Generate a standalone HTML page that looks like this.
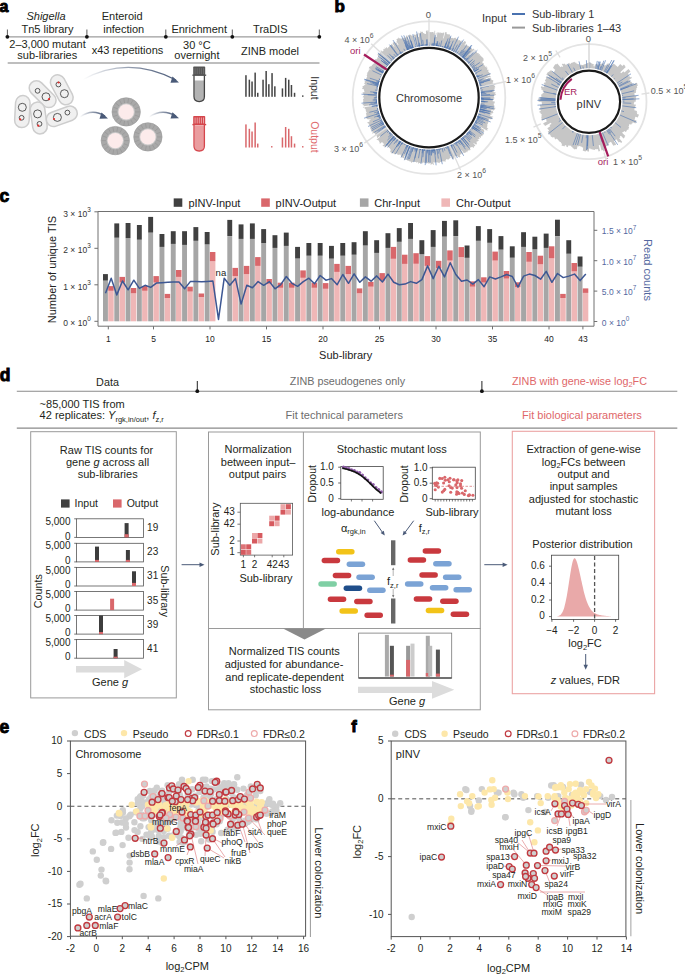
<!DOCTYPE html>
<html><head><meta charset="utf-8"><style>
html,body{margin:0;padding:0;background:#fff;}
svg{display:block;font-family:"Liberation Sans", sans-serif;}
</style></head><body>
<svg width="685" height="975" viewBox="0 0 685 975" fill="#231f20">
<text x="-0.4" y="12.1" font-size="16" fill="#000" font-weight="bold" stroke="#000" stroke-width="0.9">a</text>
<line x1="7.4" y1="36.8" x2="319.5" y2="36.8" stroke="#9d9d9d" stroke-width="1.3"/>
<line x1="7.4" y1="29.5" x2="7.4" y2="36.8" stroke="#333" stroke-width="0.8"/>
<circle cx="7.4" cy="36.8" r="1.9" fill="#111"/>
<line x1="86.9" y1="29.5" x2="86.9" y2="36.8" stroke="#333" stroke-width="0.8"/>
<circle cx="86.9" cy="36.8" r="1.9" fill="#111"/>
<line x1="165.8" y1="29.5" x2="165.8" y2="36.8" stroke="#333" stroke-width="0.8"/>
<circle cx="165.8" cy="36.8" r="1.9" fill="#111"/>
<line x1="232.3" y1="29.5" x2="232.3" y2="36.8" stroke="#333" stroke-width="0.8"/>
<circle cx="232.3" cy="36.8" r="1.9" fill="#111"/>
<line x1="319.3" y1="29.5" x2="319.3" y2="36.8" stroke="#333" stroke-width="0.8"/>
<circle cx="319.3" cy="36.8" r="1.9" fill="#111"/>
<line x1="7.7" y1="62.9" x2="319.5" y2="62.9" stroke="#a8a8a8" stroke-width="1.5"/>
<text x="46.0" y="20.2" font-size="11" text-anchor="middle" font-style="italic">Shigella</text>
<text x="47.5" y="32.7" font-size="11" text-anchor="middle">Tn5 library</text>
<text x="122.2" y="20.3" font-size="11" text-anchor="middle">Enteroid</text>
<text x="123.7" y="32.7" font-size="11" text-anchor="middle">infection</text>
<text x="199.2" y="32.7" font-size="11" text-anchor="middle">Enrichment</text>
<text x="270.3" y="32.7" font-size="11" text-anchor="middle">TraDIS</text>
<text x="47.5" y="48.4" font-size="11" text-anchor="middle">2–3,000 mutant</text>
<text x="47.3" y="58.9" font-size="11" text-anchor="middle">sub-libraries</text>
<text x="127.5" y="53.9" font-size="11" text-anchor="middle">x43 repetitions</text>
<text x="196.9" y="48.5" font-size="11" text-anchor="middle">30 °C</text>
<text x="196.9" y="58.9" font-size="11" text-anchor="middle">overnight</text>
<text x="270.0" y="54.6" font-size="11" text-anchor="middle">ZINB model</text>
<rect x="15.1" y="95.6" width="14.5" height="32" rx="7.25" fill="#f0f0f0" stroke="#cdcdcd" stroke-width="1.5" transform="rotate(3 22.4 111.6)"/>
<rect x="35.4" y="78.2" width="14.5" height="32" rx="7.25" fill="#f0f0f0" stroke="#cdcdcd" stroke-width="1.5" transform="rotate(-45 42.6 94.2)"/>
<rect x="54.5" y="73.8" width="14.5" height="32" rx="7.25" fill="#f0f0f0" stroke="#cdcdcd" stroke-width="1.5" transform="rotate(-28 61.8 89.8)"/>
<rect x="31.5" y="102.0" width="14.5" height="32" rx="7.25" fill="#f0f0f0" stroke="#cdcdcd" stroke-width="1.5" transform="rotate(-8 38.7 118.0)"/>
<rect x="54.5" y="100.4" width="14.5" height="32" rx="7.25" fill="#f0f0f0" stroke="#cdcdcd" stroke-width="1.5" transform="rotate(70 61.8 116.4)"/>
<circle cx="22.3" cy="107.3" r="4.0" fill="none" stroke="#333" stroke-width="0.8"/>
<circle cx="21.6" cy="117.8" r="2.4" fill="none" stroke="#333" stroke-width="0.8"/>
<circle cx="20.2" cy="119.4" r="1.1" fill="#e8312f"/>
<circle cx="37.6" cy="90.8" r="2.4" fill="none" stroke="#333" stroke-width="0.8"/>
<circle cx="46.0" cy="96.8" r="4.0" fill="none" stroke="#333" stroke-width="0.8"/>
<circle cx="49.0" cy="99.2" r="1.1" fill="#e8312f"/>
<circle cx="58.4" cy="84.5" r="2.4" fill="none" stroke="#333" stroke-width="0.8"/>
<circle cx="58.6" cy="82.5" r="1.1" fill="#e8312f"/>
<circle cx="64.4" cy="93.7" r="4.0" fill="none" stroke="#333" stroke-width="0.8"/>
<circle cx="37.6" cy="113.9" r="4.0" fill="none" stroke="#333" stroke-width="0.8"/>
<circle cx="39.5" cy="123.9" r="2.4" fill="none" stroke="#333" stroke-width="0.8"/>
<circle cx="38.3" cy="125.7" r="1.1" fill="#e8312f"/>
<circle cx="57.4" cy="117.4" r="4.0" fill="none" stroke="#333" stroke-width="0.8"/>
<circle cx="54.0" cy="119.0" r="1.1" fill="#e8312f"/>
<circle cx="67.4" cy="112.6" r="2.4" fill="none" stroke="#333" stroke-width="0.8"/>
<defs><linearGradient id="ag" x1="0" x2="1" y1="0" y2="0"><stop offset="0" stop-color="#4a5a78" stop-opacity="0"/><stop offset="0.6" stop-color="#4a5a78" stop-opacity="0.7"/><stop offset="1" stop-color="#4a5a78"/></linearGradient></defs>
<circle cx="126.2" cy="111.9" r="14.2" fill="#a9a9a9" stroke="#9a9a9a" stroke-width="0.6"/>
<line x1="135.2" y1="111.9" x2="139.8" y2="111.9" stroke="#8e8e8e" stroke-width="0.5"/>
<line x1="134.7" y1="115.0" x2="139.0" y2="116.6" stroke="#8e8e8e" stroke-width="0.5"/>
<line x1="133.1" y1="117.7" x2="136.6" y2="120.6" stroke="#8e8e8e" stroke-width="0.5"/>
<line x1="130.7" y1="119.7" x2="133.0" y2="123.7" stroke="#8e8e8e" stroke-width="0.5"/>
<line x1="127.8" y1="120.8" x2="128.6" y2="125.3" stroke="#8e8e8e" stroke-width="0.5"/>
<line x1="124.6" y1="120.8" x2="123.8" y2="125.3" stroke="#8e8e8e" stroke-width="0.5"/>
<line x1="121.7" y1="119.7" x2="119.4" y2="123.7" stroke="#8e8e8e" stroke-width="0.5"/>
<line x1="119.3" y1="117.7" x2="115.8" y2="120.6" stroke="#8e8e8e" stroke-width="0.5"/>
<line x1="117.7" y1="115.0" x2="113.4" y2="116.6" stroke="#8e8e8e" stroke-width="0.5"/>
<line x1="117.2" y1="111.9" x2="112.6" y2="111.9" stroke="#8e8e8e" stroke-width="0.5"/>
<line x1="117.7" y1="108.8" x2="113.4" y2="107.2" stroke="#8e8e8e" stroke-width="0.5"/>
<line x1="119.3" y1="106.1" x2="115.8" y2="103.2" stroke="#8e8e8e" stroke-width="0.5"/>
<line x1="121.7" y1="104.1" x2="119.4" y2="100.1" stroke="#8e8e8e" stroke-width="0.5"/>
<line x1="124.6" y1="103.0" x2="123.8" y2="98.5" stroke="#8e8e8e" stroke-width="0.5"/>
<line x1="127.8" y1="103.0" x2="128.6" y2="98.5" stroke="#8e8e8e" stroke-width="0.5"/>
<line x1="130.7" y1="104.1" x2="133.0" y2="100.1" stroke="#8e8e8e" stroke-width="0.5"/>
<line x1="133.1" y1="106.1" x2="136.6" y2="103.2" stroke="#8e8e8e" stroke-width="0.5"/>
<line x1="134.7" y1="108.8" x2="139.0" y2="107.2" stroke="#8e8e8e" stroke-width="0.5"/>
<circle cx="126.2" cy="111.9" r="8.6" fill="#c9c9c9"/>
<circle cx="126.2" cy="111.9" r="7.7" fill="#fcebeb"/>
<circle cx="115.3" cy="140.6" r="14.2" fill="#a9a9a9" stroke="#9a9a9a" stroke-width="0.6"/>
<line x1="124.3" y1="140.6" x2="128.9" y2="140.6" stroke="#8e8e8e" stroke-width="0.5"/>
<line x1="123.8" y1="143.7" x2="128.1" y2="145.3" stroke="#8e8e8e" stroke-width="0.5"/>
<line x1="122.2" y1="146.4" x2="125.7" y2="149.3" stroke="#8e8e8e" stroke-width="0.5"/>
<line x1="119.8" y1="148.4" x2="122.1" y2="152.4" stroke="#8e8e8e" stroke-width="0.5"/>
<line x1="116.9" y1="149.5" x2="117.7" y2="154.0" stroke="#8e8e8e" stroke-width="0.5"/>
<line x1="113.7" y1="149.5" x2="112.9" y2="154.0" stroke="#8e8e8e" stroke-width="0.5"/>
<line x1="110.8" y1="148.4" x2="108.5" y2="152.4" stroke="#8e8e8e" stroke-width="0.5"/>
<line x1="108.4" y1="146.4" x2="104.9" y2="149.3" stroke="#8e8e8e" stroke-width="0.5"/>
<line x1="106.8" y1="143.7" x2="102.5" y2="145.3" stroke="#8e8e8e" stroke-width="0.5"/>
<line x1="106.3" y1="140.6" x2="101.7" y2="140.6" stroke="#8e8e8e" stroke-width="0.5"/>
<line x1="106.8" y1="137.5" x2="102.5" y2="135.9" stroke="#8e8e8e" stroke-width="0.5"/>
<line x1="108.4" y1="134.8" x2="104.9" y2="131.9" stroke="#8e8e8e" stroke-width="0.5"/>
<line x1="110.8" y1="132.8" x2="108.5" y2="128.8" stroke="#8e8e8e" stroke-width="0.5"/>
<line x1="113.7" y1="131.7" x2="112.9" y2="127.2" stroke="#8e8e8e" stroke-width="0.5"/>
<line x1="116.9" y1="131.7" x2="117.7" y2="127.2" stroke="#8e8e8e" stroke-width="0.5"/>
<line x1="119.8" y1="132.8" x2="122.1" y2="128.8" stroke="#8e8e8e" stroke-width="0.5"/>
<line x1="122.2" y1="134.8" x2="125.7" y2="131.9" stroke="#8e8e8e" stroke-width="0.5"/>
<line x1="123.8" y1="137.5" x2="128.1" y2="135.9" stroke="#8e8e8e" stroke-width="0.5"/>
<circle cx="115.3" cy="140.6" r="8.6" fill="#c9c9c9"/>
<circle cx="115.3" cy="140.6" r="7.7" fill="#fcebeb"/>
<circle cx="147.9" cy="136.9" r="14.2" fill="#a9a9a9" stroke="#9a9a9a" stroke-width="0.6"/>
<line x1="156.9" y1="136.9" x2="161.5" y2="136.9" stroke="#8e8e8e" stroke-width="0.5"/>
<line x1="156.4" y1="140.0" x2="160.7" y2="141.6" stroke="#8e8e8e" stroke-width="0.5"/>
<line x1="154.8" y1="142.7" x2="158.3" y2="145.6" stroke="#8e8e8e" stroke-width="0.5"/>
<line x1="152.4" y1="144.7" x2="154.7" y2="148.7" stroke="#8e8e8e" stroke-width="0.5"/>
<line x1="149.5" y1="145.8" x2="150.3" y2="150.3" stroke="#8e8e8e" stroke-width="0.5"/>
<line x1="146.3" y1="145.8" x2="145.5" y2="150.3" stroke="#8e8e8e" stroke-width="0.5"/>
<line x1="143.4" y1="144.7" x2="141.1" y2="148.7" stroke="#8e8e8e" stroke-width="0.5"/>
<line x1="141.0" y1="142.7" x2="137.5" y2="145.6" stroke="#8e8e8e" stroke-width="0.5"/>
<line x1="139.4" y1="140.0" x2="135.1" y2="141.6" stroke="#8e8e8e" stroke-width="0.5"/>
<line x1="138.9" y1="136.9" x2="134.3" y2="136.9" stroke="#8e8e8e" stroke-width="0.5"/>
<line x1="139.4" y1="133.8" x2="135.1" y2="132.2" stroke="#8e8e8e" stroke-width="0.5"/>
<line x1="141.0" y1="131.1" x2="137.5" y2="128.2" stroke="#8e8e8e" stroke-width="0.5"/>
<line x1="143.4" y1="129.1" x2="141.1" y2="125.1" stroke="#8e8e8e" stroke-width="0.5"/>
<line x1="146.3" y1="128.0" x2="145.5" y2="123.5" stroke="#8e8e8e" stroke-width="0.5"/>
<line x1="149.5" y1="128.0" x2="150.3" y2="123.5" stroke="#8e8e8e" stroke-width="0.5"/>
<line x1="152.4" y1="129.1" x2="154.7" y2="125.1" stroke="#8e8e8e" stroke-width="0.5"/>
<line x1="154.8" y1="131.1" x2="158.3" y2="128.2" stroke="#8e8e8e" stroke-width="0.5"/>
<line x1="156.4" y1="133.8" x2="160.7" y2="132.2" stroke="#8e8e8e" stroke-width="0.5"/>
<circle cx="147.9" cy="136.9" r="8.6" fill="#c9c9c9"/>
<circle cx="147.9" cy="136.9" r="7.7" fill="#fcebeb"/>
<path d="M83,79.5 Q128,55 176,80" fill="none" stroke="url(#ag)" stroke-width="1.4"/>
<path d="M172.5,76.5 L179,82.5 L170.5,82.8 Z" fill="#4a5a78"/>
<path d="M80,117 Q92,108 105,116" fill="none" stroke="url(#ag)" stroke-width="1.4"/>
<path d="M101.5,112.5 L108,118.4 L99.5,118.8 Z" fill="#4a5a78"/>
<path d="M149,117 Q162,108 176,116" fill="none" stroke="url(#ag)" stroke-width="1.4"/>
<path d="M172.5,112.3 L179,118.2 L170.5,118.6 Z" fill="#4a5a78"/>
<rect x="193.2" y="66.6" width="12.0" height="8.6" fill="#555" rx="0.8"/>
<line x1="195.1" y1="68.1" x2="195.1" y2="74.1" stroke="#888" stroke-width="0.5"/>
<line x1="197.2" y1="68.1" x2="197.2" y2="74.1" stroke="#888" stroke-width="0.5"/>
<line x1="199.3" y1="68.1" x2="199.3" y2="74.1" stroke="#888" stroke-width="0.5"/>
<line x1="201.4" y1="68.1" x2="201.4" y2="74.1" stroke="#888" stroke-width="0.5"/>
<line x1="203.5" y1="68.1" x2="203.5" y2="74.1" stroke="#888" stroke-width="0.5"/>
<line x1="192.4" y1="75.2" x2="206.2" y2="75.2" stroke="#555" stroke-width="1.4"/>
<path d="M194.4,80.5 L194.4,96.6 Q194.4,101.1 199.20000000000002,101.1 Q204.0,101.1 204.0,96.6 L204.0,80.5 Z" fill="#b3b3b3"/>
<path d="M194.0,75.6 L194.0,96.6 Q194.0,101.6 199.20000000000002,101.6 Q204.4,101.6 204.4,96.6 L204.4,75.6" fill="none" stroke="#444" stroke-width="1.3"/>
<rect x="193.2" y="116.0" width="12.0" height="8.6" fill="#d5464c" rx="0.8"/>
<line x1="195.1" y1="117.5" x2="195.1" y2="123.5" stroke="#fff" stroke-width="0.5"/>
<line x1="197.2" y1="117.5" x2="197.2" y2="123.5" stroke="#fff" stroke-width="0.5"/>
<line x1="199.3" y1="117.5" x2="199.3" y2="123.5" stroke="#fff" stroke-width="0.5"/>
<line x1="201.4" y1="117.5" x2="201.4" y2="123.5" stroke="#fff" stroke-width="0.5"/>
<line x1="203.5" y1="117.5" x2="203.5" y2="123.5" stroke="#fff" stroke-width="0.5"/>
<line x1="192.4" y1="124.6" x2="206.2" y2="124.6" stroke="#d5464c" stroke-width="1.4"/>
<path d="M194.4,125.5 L194.4,146 Q194.4,150.5 199.20000000000002,150.5 Q204.0,150.5 204.0,146 L204.0,125.5 Z" fill="#ea9d9f"/>
<path d="M194.0,125 L194.0,146 Q194.0,151 199.20000000000002,151 Q204.4,151 204.4,146 L204.4,125" fill="none" stroke="#d5464c" stroke-width="1.3"/>
<rect x="245.2" y="75.2" width="1.5" height="21.6" fill="#444"/>
<rect x="248.6" y="79.7" width="1.5" height="17.1" fill="#444"/>
<rect x="251.3" y="81.5" width="1.5" height="15.3" fill="#444"/>
<rect x="254.4" y="72.6" width="1.5" height="24.2" fill="#444"/>
<rect x="257.0" y="92.8" width="1.5" height="4.0" fill="#444"/>
<rect x="262.3" y="79.7" width="1.5" height="17.1" fill="#444"/>
<rect x="265.4" y="71.0" width="1.5" height="25.8" fill="#444"/>
<rect x="268.1" y="84.2" width="1.5" height="12.6" fill="#444"/>
<rect x="271.3" y="73.1" width="1.5" height="23.7" fill="#444"/>
<rect x="274.1" y="86.3" width="1.5" height="10.5" fill="#444"/>
<rect x="281.7" y="88.4" width="1.5" height="8.4" fill="#444"/>
<rect x="284.9" y="77.9" width="1.5" height="18.9" fill="#444"/>
<rect x="288.0" y="79.7" width="1.5" height="17.1" fill="#444"/>
<rect x="290.7" y="85.0" width="1.5" height="11.8" fill="#444"/>
<rect x="293.8" y="92.8" width="1.5" height="4.0" fill="#444"/>
<rect x="302.0" y="95.4" width="1.5" height="1.4" fill="#444"/>
<rect x="245.2" y="124.4" width="1.5" height="23.1" fill="#d9686c"/>
<rect x="248.6" y="128.8" width="1.5" height="18.7" fill="#d9686c"/>
<rect x="251.3" y="131.5" width="1.5" height="16.0" fill="#d9686c"/>
<rect x="254.4" y="122.5" width="1.5" height="25.0" fill="#d9686c"/>
<rect x="257.0" y="143.6" width="1.5" height="3.9" fill="#d9686c"/>
<rect x="271.0" y="146.1" width="1.5" height="1.4" fill="#d9686c"/>
<rect x="281.7" y="137.5" width="1.5" height="10.0" fill="#d9686c"/>
<rect x="284.9" y="127.0" width="1.5" height="20.5" fill="#d9686c"/>
<rect x="288.0" y="128.8" width="1.5" height="18.7" fill="#d9686c"/>
<rect x="290.7" y="136.2" width="1.5" height="11.3" fill="#d9686c"/>
<rect x="293.8" y="143.6" width="1.5" height="3.9" fill="#d9686c"/>
<rect x="302.0" y="146.1" width="1.5" height="1.4" fill="#d9686c"/>
<text x="310.5" y="87.9" font-size="10.5" text-anchor="middle" fill="#333" transform="rotate(90 310.5 87.9)">Input</text>
<text x="310.5" y="136.9" font-size="10.5" text-anchor="middle" fill="#e06b6e" transform="rotate(90 310.5 136.9)">Output</text>
<text x="334.4" y="11.5" font-size="17" fill="#000" font-weight="bold" stroke="#000" stroke-width="0.9">b</text>
<path d="M429.0,32.1 L429.8,32.1 L429.8,32.3 L430.5,32.3 L430.5,32.1 L431.3,32.1 L431.3,32.2 L432.0,32.3 L432.1,31.9 L432.8,31.9 L432.8,31.9 L433.6,32.0 L433.5,33.3 L434.2,33.4 L434.5,30.7 L435.2,30.8 L434.7,36.6 L435.4,36.7 L435.8,32.7 L436.6,32.8 L436.1,37.0 L436.8,37.1 L437.4,32.3 L438.2,32.4 L438.2,32.4 L438.9,32.6 L438.9,32.5 L439.7,32.6 L439.6,33.2 L440.3,33.3 L440.5,32.3 L441.3,32.5 L441.2,32.9 L441.9,33.0 L441.9,33.0 L442.7,33.2 L442.8,32.5 L443.6,32.7 L443.6,32.6 L444.4,32.7 L443.1,38.3 L443.7,38.5 L445.3,32.1 L446.1,32.3 L446.1,32.2 L446.9,32.4 L446.5,33.7 L447.3,33.9 L447.2,34.1 L447.9,34.4 L448.0,34.3 L448.7,34.5 L448.9,33.9 L449.6,34.1 L449.4,34.8 L450.1,35.1 L449.7,36.4 L450.4,36.6 L450.3,36.9 L451.0,37.2 L450.8,37.6 L451.5,37.9 L451.5,37.9 L452.2,38.2 L452.4,37.7 L453.1,38.0 L453.0,38.2 L453.7,38.4 L454.0,37.8 L454.7,38.1 L454.7,38.0 L455.4,38.3 L455.7,37.6 L456.4,37.9 L456.0,38.8 L456.7,39.1 L456.7,39.0 L457.4,39.3 L457.8,38.6 L458.4,39.0 L457.9,40.1 L458.6,40.4 L458.9,39.8 L459.5,40.2 L459.5,40.1 L460.2,40.5 L460.1,40.7 L460.8,41.0 L461.1,40.4 L461.8,40.8 L461.5,41.3 L462.2,41.7 L462.7,40.8 L463.4,41.2 L462.9,42.0 L463.5,42.4 L464.5,40.9 L465.1,41.3 L465.1,41.3 L465.8,41.7 L465.5,42.1 L466.1,42.6 L464.5,45.0 L465.1,45.4 L466.0,44.1 L466.6,44.5 L466.7,44.4 L467.3,44.9 L466.9,45.4 L467.5,45.9 L467.8,45.4 L468.5,45.9 L468.3,46.1 L468.9,46.5 L468.9,46.5 L469.5,46.9 L469.8,46.6 L470.4,47.1 L469.6,48.0 L470.2,48.5 L470.6,48.0 L471.2,48.5 L471.5,48.1 L472.1,48.6 L471.8,48.9 L472.4,49.4 L473.1,48.6 L473.7,49.1 L473.9,48.9 L474.5,49.4 L469.4,54.7 L469.9,55.2 L475.3,49.7 L475.8,50.2 L473.0,53.0 L473.6,53.6 L475.8,51.3 L476.3,51.9 L476.6,51.6 L477.1,52.2 L476.7,52.6 L477.2,53.2 L477.6,52.8 L478.1,53.4 L478.5,53.1 L479.0,53.6 L478.5,54.1 L479.0,54.6 L479.6,54.1 L480.1,54.7 L479.6,55.2 L480.1,55.8 L480.6,55.3 L481.1,55.9 L480.9,56.1 L481.4,56.7 L481.6,56.5 L482.1,57.1 L482.1,57.1 L482.6,57.7 L482.8,57.6 L483.2,58.2 L483.2,58.2 L483.7,58.8 L483.3,59.1 L483.8,59.7 L483.3,60.0 L483.7,60.7 L482.3,61.7 L482.7,62.3 L482.3,62.5 L482.7,63.2 L483.0,63.0 L483.4,63.6 L483.8,63.3 L484.2,64.0 L483.5,64.4 L483.9,65.0 L483.8,65.1 L484.2,65.7 L484.9,65.3 L485.3,66.0 L484.8,66.2 L485.2,66.9 L486.3,66.3 L486.6,67.0 L486.3,67.1 L486.7,67.8 L487.3,67.5 L487.6,68.2 L487.0,68.5 L487.3,69.2 L487.0,69.3 L487.3,70.0 L488.2,69.6 L488.5,70.3 L488.3,70.4 L488.6,71.0 L488.1,71.3 L488.4,72.0 L488.8,71.8 L489.1,72.5 L489.2,72.4 L489.5,73.1 L489.6,73.1 L489.9,73.8 L490.3,73.6 L490.6,74.4 L487.3,75.6 L487.6,76.3 L489.9,75.5 L490.1,76.2 L490.8,75.9 L491.0,76.6 L485.5,78.5 L485.7,79.2 L490.6,77.6 L490.8,78.3 L491.1,78.2 L491.3,78.9 L491.1,79.0 L491.3,79.7 L491.8,79.6 L492.0,80.3 L493.1,80.0 L493.3,80.8 L493.1,80.8 L493.3,81.6 L493.0,81.6 L493.2,82.4 L492.5,82.5 L492.7,83.3 L493.1,83.2 L493.3,83.9 L493.5,83.9 L493.7,84.6 L493.9,84.6 L494.1,85.3 L494.4,85.3 L494.5,86.0 L495.0,86.0 L495.1,86.7 L495.2,86.7 L495.3,87.5 L494.1,87.7 L494.2,88.4 L494.9,88.3 L495.0,89.1 L493.7,89.3 L493.8,90.0 L494.1,90.0 L494.2,90.7 L493.8,90.8 L493.8,91.5 L493.5,91.6 L493.6,92.3 L495.5,92.2 L495.5,92.9 L494.9,93.0 L494.9,93.8 L496.1,93.7 L496.1,94.5 L495.5,94.5 L495.5,95.3 L494.5,95.3 L494.5,96.1 L493.8,96.1 L493.8,96.8 L493.9,96.8 L493.9,97.6 L494.4,97.6 L494.4,98.4 L493.5,98.4 L493.5,99.1 L493.5,99.1 L493.5,99.9 L492.9,99.8 L492.9,100.6 L492.6,100.6 L492.6,101.3 L494.8,101.4 L494.7,102.2 L494.7,102.2 L494.6,103.0 L494.4,102.9 L494.3,103.7 L493.7,103.6 L493.6,104.4 L494.0,104.4 L493.9,105.2 L494.4,105.2 L494.3,106.0 L494.6,106.0 L494.5,106.8 L493.7,106.7 L493.6,107.4 L495.4,107.7 L495.3,108.5 L495.2,108.5 L495.1,109.3 L494.6,109.2 L494.4,109.9 L494.0,109.8 L493.8,110.6 L491.3,110.1 L491.1,110.8 L493.1,111.2 L493.0,112.0 L493.4,112.1 L493.2,112.8 L492.8,112.7 L492.6,113.5 L491.4,113.2 L491.2,113.9 L491.7,114.0 L491.5,114.7 L490.7,114.5 L490.5,115.2 L490.3,115.2 L490.1,115.9 L493.3,116.8 L493.0,117.6 L492.2,117.3 L492.0,118.1 L492.4,118.2 L492.1,118.9 L491.4,118.7 L491.2,119.4 L489.1,118.7 L488.9,119.4 L489.5,119.6 L489.2,120.3 L488.8,120.2 L488.6,120.9 L488.3,120.7 L488.0,121.4 L488.7,121.7 L488.5,122.4 L488.1,122.3 L487.8,123.0 L488.1,123.1 L487.8,123.8 L487.7,123.8 L487.4,124.4 L487.3,124.4 L487.0,125.0 L487.5,125.3 L487.2,126.0 L487.4,126.1 L487.1,126.8 L487.1,126.8 L486.7,127.4 L488.3,128.2 L487.9,128.9 L487.3,128.6 L486.9,129.3 L487.7,129.7 L487.3,130.4 L487.4,130.4 L487.0,131.1 L484.5,129.7 L484.2,130.3 L484.2,130.3 L483.8,131.0 L484.4,131.3 L484.0,132.0 L484.0,132.0 L483.6,132.6 L479.3,129.9 L479.0,130.5 L483.7,133.6 L483.3,134.2 L483.6,134.4 L483.2,135.1 L482.7,134.7 L482.2,135.3 L482.7,135.7 L482.2,136.3 L481.5,135.8 L481.1,136.4 L481.1,136.4 L480.6,137.0 L481.1,137.4 L480.7,138.0 L479.5,137.1 L479.0,137.6 L479.7,138.2 L479.2,138.8 L479.3,138.8 L478.8,139.4 L478.0,138.7 L477.5,139.3 L478.9,140.5 L478.4,141.1 L478.1,140.8 L477.6,141.3 L477.5,141.3 L477.0,141.9 L476.6,141.5 L476.1,142.0 L477.1,142.9 L476.5,143.5 L477.1,144.1 L476.6,144.6 L476.0,144.1 L475.5,144.6 L473.9,143.0 L473.4,143.6 L475.4,145.6 L474.8,146.1 L474.7,146.1 L474.2,146.6 L474.1,146.6 L473.6,147.1 L473.9,147.5 L473.4,148.0 L472.2,146.7 L471.6,147.2 L471.5,147.0 L470.9,147.5 L470.6,147.2 L470.0,147.6 L470.4,148.1 L469.8,148.6 L470.7,149.7 L470.1,150.2 L470.0,150.1 L469.4,150.6 L469.1,150.2 L468.5,150.6 L468.2,150.2 L467.6,150.7 L467.9,151.1 L467.2,151.5 L467.5,151.9 L466.9,152.4 L466.4,151.6 L465.7,152.1 L465.9,152.4 L465.3,152.8 L465.2,152.7 L464.6,153.1 L464.3,152.7 L463.7,153.1 L461.8,150.2 L461.2,150.5 L463.1,153.6 L462.4,154.0 L462.0,153.2 L461.3,153.6 L461.5,154.0 L460.9,154.3 L460.8,154.2 L460.1,154.5 L460.3,154.9 L459.7,155.3 L460.5,156.8 L459.8,157.1 L459.8,157.2 L459.1,157.6 L458.7,156.8 L458.0,157.2 L457.4,155.7 L456.7,156.1 L456.6,155.9 L455.9,156.2 L455.9,156.2 L455.2,156.5 L455.0,156.0 L454.3,156.3 L454.5,156.8 L453.8,157.1 L454.3,158.2 L453.6,158.5 L453.7,158.8 L453.0,159.1 L452.8,158.6 L452.1,158.9 L450.2,153.7 L449.5,154.0 L450.8,157.5 L450.1,157.8 L450.2,158.0 L449.5,158.3 L449.6,158.7 L448.9,158.9 L449.0,159.2 L448.3,159.5 L448.3,159.4 L447.6,159.7 L447.4,159.1 L446.7,159.4 L446.6,159.1 L445.9,159.3 L446.1,160.1 L445.4,160.3 L445.7,161.6 L445.0,161.7 L444.9,161.2 L444.1,161.4 L444.1,161.4 L443.4,161.6 L443.3,161.0 L442.5,161.2 L442.5,161.3 L441.8,161.4 L441.9,162.2 L441.2,162.3 L441.1,161.8 L440.3,161.9 L440.4,162.1 L439.6,162.2 L439.8,163.1 L439.0,163.2 L438.9,162.8 L438.2,162.9 L438.1,162.0 L437.3,162.2 L437.4,163.1 L436.7,163.2 L436.5,162.0 L435.8,162.1 L435.8,162.5 L435.1,162.5 L435.1,162.6 L434.3,162.7 L434.3,162.1 L433.5,162.1 L433.7,165.0 L432.9,165.1 L432.9,163.7 L432.1,163.8 L432.1,164.1 L431.3,164.2 L431.3,164.7 L430.6,164.7 L430.5,162.6 L429.8,162.7 L429.8,163.5 L429.0,163.5 L429.0,163.4 L428.2,163.4 L428.2,163.2 L427.5,163.2 L427.5,163.0 L426.7,163.0 L426.7,162.1 L426.0,162.0 L426.0,163.0 L425.2,163.0 L425.2,162.9 L424.4,162.9 L424.5,162.4 L423.7,162.4 L423.7,162.5 L422.9,162.5 L422.9,163.3 L422.1,163.2 L422.2,162.6 L421.4,162.5 L421.3,163.8 L420.5,163.7 L420.6,163.2 L419.8,163.1 L419.8,163.1 L419.0,163.0 L418.9,163.7 L418.2,163.6 L418.3,162.5 L417.6,162.4 L417.6,162.1 L416.9,161.9 L416.7,162.8 L416.0,162.6 L416.1,162.1 L415.3,162.0 L415.3,162.0 L414.6,161.8 L414.5,161.9 L413.8,161.7 L413.8,161.7 L413.1,161.6 L412.9,162.0 L412.2,161.9 L411.9,162.9 L411.2,162.7 L411.4,161.9 L410.6,161.7 L410.7,161.5 L409.9,161.3 L409.9,161.4 L409.2,161.2 L409.2,160.9 L408.5,160.7 L408.4,160.8 L407.7,160.6 L407.7,160.6 L407.0,160.4 L407.1,160.1 L406.3,159.8 L406.3,160.1 L405.5,159.8 L405.5,159.8 L404.8,159.6 L404.7,159.8 L404.0,159.5 L405.9,154.8 L405.2,154.5 L403.7,158.3 L403.0,158.0 L402.9,158.1 L402.2,157.8 L402.5,157.0 L401.9,156.7 L401.4,157.6 L400.7,157.3 L401.4,156.0 L400.7,155.7 L401.0,154.9 L400.4,154.6 L400.3,154.7 L399.7,154.3 L399.4,154.9 L398.7,154.5 L398.5,155.0 L397.8,154.7 L397.8,154.7 L397.1,154.3 L397.4,153.8 L396.8,153.5 L396.5,153.8 L395.9,153.5 L395.4,154.3 L394.7,153.9 L394.6,154.2 L393.9,153.8 L394.0,153.7 L393.3,153.3 L393.3,153.3 L392.7,152.9 L392.1,153.7 L391.5,153.2 L391.7,152.9 L391.0,152.5 L391.0,152.6 L390.3,152.1 L390.6,151.8 L390.0,151.3 L390.9,150.0 L390.3,149.6 L390.6,149.2 L390.0,148.7 L390.1,148.6 L389.5,148.1 L389.5,148.2 L388.9,147.7 L389.0,147.6 L388.4,147.1 L388.2,147.4 L387.6,146.9 L388.0,146.5 L387.4,146.0 L387.2,146.3 L386.6,145.8 L385.4,147.2 L384.8,146.7 L384.7,146.8 L384.1,146.3 L384.0,146.4 L383.5,145.9 L383.1,146.3 L382.5,145.7 L384.3,143.9 L383.8,143.3 L383.3,143.8 L382.8,143.3 L383.0,143.1 L382.5,142.5 L382.5,142.5 L382.0,141.9 L380.0,143.8 L379.5,143.2 L379.9,142.8 L379.4,142.3 L379.5,142.2 L378.9,141.6 L379.4,141.2 L378.9,140.6 L378.7,140.8 L378.2,140.2 L378.1,140.3 L377.6,139.7 L377.0,140.2 L376.6,139.6 L381.1,136.0 L380.6,135.4 L377.3,138.0 L376.9,137.4 L377.1,137.2 L376.6,136.6 L377.1,136.2 L376.7,135.6 L376.6,135.7 L376.1,135.1 L375.3,135.6 L374.9,135.0 L375.3,134.7 L374.9,134.1 L375.0,134.0 L374.6,133.4 L374.8,133.3 L374.4,132.6 L372.6,133.8 L372.1,133.1 L372.8,132.7 L372.4,132.0 L372.7,131.9 L372.3,131.2 L371.8,131.5 L371.4,130.9 L371.6,130.8 L371.2,130.1 L371.3,130.0 L370.9,129.4 L370.7,129.4 L370.4,128.8 L370.5,128.7 L370.1,128.0 L370.6,127.8 L370.3,127.1 L369.9,127.3 L369.6,126.6 L370.2,126.3 L369.9,125.6 L369.9,125.6 L369.6,124.9 L369.1,125.1 L368.7,124.4 L369.1,124.3 L368.8,123.6 L368.3,123.8 L368.0,123.1 L367.5,123.3 L367.2,122.6 L369.7,121.6 L369.4,120.9 L369.6,120.8 L369.3,120.1 L370.8,119.6 L370.5,118.9 L368.4,119.6 L368.2,118.9 L367.1,119.3 L366.9,118.6 L366.5,118.7 L366.3,118.0 L366.6,117.9 L366.3,117.2 L365.9,117.3 L365.7,116.6 L366.8,116.2 L366.6,115.5 L366.3,115.6 L366.1,114.8 L366.4,114.8 L366.2,114.0 L366.0,114.1 L365.9,113.3 L367.0,113.1 L366.8,112.3 L366.0,112.5 L365.8,111.8 L366.2,111.7 L366.1,111.0 L365.8,111.0 L365.7,110.3 L366.0,110.2 L365.8,109.5 L365.5,109.6 L365.4,108.8 L364.7,108.9 L364.6,108.2 L365.1,108.1 L365.0,107.4 L363.0,107.7 L362.8,106.9 L363.6,106.8 L363.5,106.0 L363.9,106.0 L363.8,105.2 L362.8,105.3 L362.7,104.6 L362.7,104.6 L362.7,103.8 L363.6,103.7 L363.5,102.9 L363.1,103.0 L363.0,102.2 L363.4,102.2 L363.3,101.4 L363.1,101.4 L363.1,100.7 L363.3,100.7 L363.3,99.9 L363.1,99.9 L363.1,99.1 L363.4,99.1 L363.4,98.4 L364.0,98.4 L364.0,97.6 L362.8,97.6 L362.8,96.8 L363.2,96.8 L363.2,96.1 L363.9,96.1 L363.9,95.3 L363.6,95.3 L363.6,94.6 L363.5,94.6 L363.6,93.8 L362.9,93.8 L363.0,93.0 L362.6,93.0 L362.7,92.2 L364.3,92.3 L364.4,91.6 L364.4,91.6 L364.4,90.8 L363.9,90.8 L364.0,90.0 L363.9,90.0 L364.0,89.2 L362.0,89.0 L362.2,88.2 L362.7,88.3 L362.9,87.5 L362.5,87.5 L362.6,86.7 L362.5,86.7 L362.7,85.9 L363.8,86.1 L363.9,85.3 L364.3,85.4 L364.5,84.7 L365.2,84.8 L365.3,84.1 L364.0,83.8 L364.2,83.0 L364.9,83.2 L365.0,82.4 L364.4,82.3 L364.6,81.5 L364.8,81.6 L365.0,80.9 L365.8,81.1 L366.0,80.3 L366.4,80.4 L366.6,79.7 L366.0,79.5 L366.2,78.8 L366.3,78.8 L366.5,78.1 L366.4,78.1 L366.7,77.3 L366.9,77.4 L367.1,76.7 L367.0,76.7 L367.2,75.9 L366.6,75.7 L366.9,75.0 L367.1,75.1 L367.4,74.4 L366.8,74.1 L367.1,73.4 L367.4,73.6 L367.7,72.8 L367.3,72.7 L367.5,71.9 L368.1,72.2 L368.4,71.5 L368.1,71.3 L368.4,70.6 L368.9,70.8 L369.2,70.2 L368.7,69.9 L369.1,69.2 L370.2,69.7 L370.5,69.1 L368.7,68.2 L369.1,67.5 L369.0,67.5 L369.4,66.8 L369.6,66.9 L370.0,66.2 L370.6,66.5 L371.0,65.9 L371.6,66.2 L372.0,65.6 L371.6,65.4 L372.0,64.7 L372.6,65.0 L372.9,64.4 L372.7,64.2 L373.1,63.6 L373.7,63.9 L374.1,63.3 L374.3,63.4 L374.7,62.8 L375.0,63.0 L375.4,62.3 L375.6,62.5 L376.0,61.9 L374.0,60.5 L374.5,59.9 L374.6,60.0 L375.0,59.3 L375.3,59.6 L375.8,58.9 L376.4,59.4 L376.8,58.8 L377.1,59.0 L377.5,58.4 L376.9,57.9 L377.4,57.3 L377.9,57.7 L378.4,57.1 L383.1,60.9 L383.5,60.4 L377.6,55.5 L378.1,54.9 L377.4,54.3 L377.9,53.7 L378.4,54.1 L378.9,53.6 L379.1,53.7 L379.7,53.2 L379.8,53.3 L380.3,52.7 L380.1,52.5 L380.6,52.0 L380.8,52.2 L381.4,51.6 L380.5,50.7 L381.0,50.2 L382.4,51.6 L383.0,51.0 L383.1,51.2 L383.7,50.6 L383.0,49.9 L383.5,49.4 L383.4,49.2 L383.9,48.7 L384.5,49.3 L385.1,48.8 L384.3,47.9 L384.9,47.4 L385.7,48.4 L386.3,47.9 L386.1,47.6 L386.6,47.1 L387.7,48.4 L388.3,47.9 L387.9,47.4 L388.5,47.0 L388.7,47.3 L389.3,46.8 L388.9,46.3 L389.5,45.8 L389.9,46.3 L390.5,45.9 L390.2,45.5 L390.8,45.1 L390.8,45.1 L391.5,44.6 L391.2,44.3 L391.8,43.8 L393.9,46.8 L394.5,46.4 L392.5,43.4 L393.1,43.0 L392.7,42.4 L393.3,42.0 L393.7,42.6 L394.4,42.2 L394.8,42.9 L395.5,42.5 L395.5,42.6 L396.2,42.2 L397.9,45.2 L398.5,44.8 L396.4,41.2 L397.1,40.8 L396.3,39.4 L397.0,39.0 L396.9,38.9 L397.6,38.5 L397.7,38.8 L398.4,38.4 L398.1,37.9 L398.8,37.5 L399.4,38.6 L400.0,38.2 L400.3,38.7 L400.9,38.3 L401.1,38.8 L401.8,38.4 L401.8,38.5 L402.5,38.1 L402.7,38.5 L403.4,38.2 L403.2,37.8 L403.9,37.5 L404.2,38.2 L404.9,37.9 L404.9,37.9 L405.6,37.6 L405.4,37.2 L406.1,36.9 L405.8,36.0 L406.5,35.7 L406.4,35.5 L407.1,35.3 L408.9,40.2 L409.5,39.9 L408.1,35.8 L408.8,35.5 L408.7,35.1 L409.4,34.8 L409.4,34.7 L410.1,34.5 L410.2,34.9 L411.0,34.7 L411.3,35.8 L412.0,35.6 L412.0,35.7 L412.8,35.5 L412.6,34.8 L413.3,34.6 L413.4,35.1 L414.1,34.9 L414.1,34.6 L414.8,34.4 L415.0,35.2 L415.7,35.0 L415.6,34.4 L416.3,34.3 L416.3,34.2 L417.0,34.0 L417.0,33.6 L417.7,33.5 L418.3,37.1 L419.0,37.0 L418.4,32.8 L419.1,32.7 L419.2,33.6 L420.0,33.4 L419.9,32.7 L420.6,32.6 L420.5,31.3 L421.2,31.2 L421.3,31.9 L422.1,31.9 L422.1,31.8 L422.9,31.7 L423.0,33.1 L423.7,33.0 L423.8,33.4 L424.5,33.3 L424.5,33.9 L425.3,33.9 L425.3,33.9 L426.0,33.8 L425.9,31.1 L426.7,31.0 L426.6,30.1 L427.4,30.1 L427.5,31.5 L428.2,31.5 L428.2,30.6 L429.0,30.5 Z" fill="#c6c6c6"/>
<circle cx="429.0" cy="97.6" r="52.2" fill="#fff"/>
<line x1="416.4" y1="47.0" x2="409.1" y2="17.8" stroke="#fff" stroke-width="0.9"/>
<line x1="455.9" y1="52.9" x2="471.3" y2="27.1" stroke="#fff" stroke-width="0.9"/>
<line x1="474.2" y1="123.7" x2="500.2" y2="138.7" stroke="#fff" stroke-width="0.9"/>
<line x1="411.1" y1="146.7" x2="400.9" y2="174.8" stroke="#fff" stroke-width="0.9"/>
<line x1="377.3" y1="104.9" x2="347.6" y2="109.0" stroke="#fff" stroke-width="0.9"/>
<path d="M472.5,126.5L477.7,129.9M389.7,63.2L386.7,60.5M394.8,58.1L393.4,56.5M461.5,138.4L467.9,146.5M464.5,135.9L470.2,142.1M480.0,86.3L481.0,86.1M476.7,76.5L479.8,75.1M473.7,70.7L474.6,70.2M479.9,86.0L482.1,85.5M477.7,116.4L479.5,117.1M426.8,45.4L426.6,39.6M389.4,63.6L388.6,63.0M464.0,136.3L464.7,137.1M380.3,116.4L379.2,116.8M480.6,105.6L481.6,105.8M476.5,76.0L477.4,75.6M461.5,138.4L469.6,148.6M378.0,108.9L377.1,109.1M469.0,131.2L469.8,131.8M408.8,49.5L408.3,48.4M377.1,92.5L370.2,91.8M400.2,54.0L399.7,53.2M475.9,120.4L477.1,121.0M455.1,52.4L460.8,42.4M475.5,121.4L482.7,125.1M422.7,149.4L422.6,150.4M461.3,138.6L461.9,139.4M442.2,47.1L442.5,46.1M399.6,140.7L399.0,141.5M477.3,117.5L478.8,118.2M414.8,147.8L414.5,148.8M378.7,111.7L377.8,111.9M377.4,105.6L371.9,106.5M470.7,66.2L471.5,65.6M480.3,107.5L486.8,108.7M458.3,140.8L459.0,141.9M390.1,62.8L389.3,62.2M479.4,111.2L480.4,111.5M480.0,86.5L481.0,86.2M437.0,46.0L437.8,41.3M408.0,145.4L404.3,153.8M421.0,46.0L420.9,45.0M383.2,122.6L371.9,128.8M480.0,86.6L486.0,85.3M383.8,123.7L371.5,130.8M390.6,62.3L389.8,61.6M390.4,132.7L389.6,133.4M451.9,144.5L452.5,145.8M448.2,49.1L448.7,47.8M475.0,122.2L477.3,123.5M480.3,107.3L481.3,107.5M459.0,140.3L460.4,142.2M474.2,71.5L479.0,68.7M481.1,94.3L482.1,94.2M472.7,126.1L474.2,127.0M471.4,67.1L474.6,64.8M379.2,113.3L375.9,114.3M379.3,113.7L378.4,114.0M461.9,138.1L462.7,139.0M449.1,49.4L449.7,48.0M446.6,48.4L447.4,46.0M402.2,142.4L401.0,144.3M475.4,121.5L476.3,121.9M436.7,46.0L436.8,45.0M396.2,57.0L393.9,54.2M481.1,101.5L486.6,101.9M477.0,77.2L479.1,76.3M394.4,136.7L385.0,147.3M468.7,131.5L471.6,134.0M410.5,48.8L407.6,41.2M391.6,134.0L388.2,137.2M456.7,141.8L457.6,143.2M480.5,106.1L490.2,107.8M393.2,59.6L392.3,58.7M400.9,53.6L400.4,52.8M468.3,63.3L470.4,61.5M477.7,116.4L478.8,116.8M421.5,45.9L421.3,45.0M477.8,79.1L478.8,78.8M381.7,119.8L380.8,120.2M429.3,45.4L429.3,42.1M461.3,138.6L461.9,139.4M431.1,149.8L431.3,155.0M413.5,147.4L412.1,151.9M409.6,146.0L405.9,155.2M418.8,46.4L418.6,45.4M471.9,127.4L481.5,134.1M477.1,117.8L483.3,120.4M379.8,115.2L374.2,117.2M417.3,46.7L415.1,37.3M473.0,69.5L476.9,67.0M432.1,149.7L432.3,153.3M467.2,133.2L467.9,133.9M376.8,97.9L373.7,98.0M481.0,93.4L482.0,93.3M475.5,121.3L476.4,121.7M424.5,149.6L424.4,150.6M449.2,49.5L449.6,48.5M460.3,55.8L464.1,50.6M463.0,58.0L464.3,56.4M377.3,90.4L374.9,90.0M473.5,70.3L482.9,64.6M390.9,61.9L390.2,61.2M481.2,98.9L483.9,98.9M379.0,82.6L377.7,82.2M378.0,108.7L377.0,108.9M378.0,108.8L377.0,109.0M474.1,123.8L480.9,127.8M385.4,68.9L377.2,63.5M407.5,145.2L406.8,146.7M378.7,111.6L374.2,112.8M383.4,72.2L375.6,67.8M466.0,60.7L466.9,59.8M383.4,122.9L382.5,123.4M476.9,76.8L477.8,76.4M402.3,142.4L395.3,154.2M419.4,46.3L419.2,45.3M380.8,117.5L379.2,118.2M390.6,133.0L389.6,134.0M407.8,49.9L401.5,35.7M444.7,47.8L446.7,41.5M464.3,59.2L465.0,58.5M479.9,109.3L486.8,110.9M426.9,45.4L426.9,44.4M474.7,122.8L475.6,123.2M415.2,147.9L414.6,150.3M466.3,134.1L467.0,134.8M379.4,81.3L369.8,78.2M480.0,108.6L481.4,108.9M393.8,136.2L388.4,142.0M422.8,45.8L422.6,44.4M380.0,115.6L376.9,116.7M379.4,81.4L378.4,81.1M475.5,73.9L476.4,73.5M407.8,49.9L407.4,49.0M432.8,149.7L432.9,150.7M475.7,120.9L476.6,121.4M408.0,145.4L407.6,146.3M392.0,134.4L391.3,135.1M480.7,90.3L483.1,89.9M468.0,132.3L468.7,133.0M445.5,48.1L445.8,47.1M396.4,56.8L395.8,56.1M453.7,51.6L454.2,50.7M434.4,149.5L436.1,165.3M478.9,82.2L489.4,78.9M434.2,149.5L434.3,151.2M380.1,79.3L378.8,78.8M447.5,48.8L448.7,45.6M385.5,126.4L381.6,129.0M480.4,106.4L493.8,108.7M389.8,63.2L377.9,52.8M447.2,146.5L450.7,155.9M377.4,105.8L376.5,105.9M437.7,46.1L437.9,45.2M464.4,59.3L465.1,58.5M469.4,130.6L475.4,135.4M477.5,116.8L480.2,117.9M432.4,45.5L432.5,44.5M415.8,47.1L415.5,46.1M420.1,149.0L418.5,158.2M378.6,83.9L371.7,82.0M459.9,139.7L465.2,147.0M382.9,73.1L375.8,69.4M424.4,45.6L424.3,44.6M413.0,47.9L412.5,46.5M378.8,112.1L377.9,112.4M400.9,53.6L400.4,52.7M404.8,143.8L404.3,144.7M462.7,137.5L463.5,138.4M385.5,126.4L377.7,131.5M468.2,132.0L472.0,135.3M470.4,129.3L471.2,130.0M399.7,54.4L399.1,53.6M458.1,54.3L458.7,53.4M376.9,100.3L375.9,100.4M376.8,99.8L373.5,100.0M381.7,119.8L380.8,120.2M461.2,56.5L461.8,55.7M471.2,128.4L472.6,129.4M432.1,45.5L432.3,42.8M458.8,140.5L459.4,141.3M416.9,148.4L413.7,162.1M479.1,82.9L490.1,79.7M476.1,120.1L483.0,123.4M461.9,57.0L471.6,45.0M451.2,144.8L457.4,158.0M480.3,87.7L481.8,87.4M378.8,111.8L377.8,112.1M480.6,105.2L486.4,106.1M412.1,48.2L411.8,47.2M476.7,76.4L477.7,76.0M425.5,45.5L425.5,44.5M389.9,132.2L388.9,133.0M388.0,129.9L387.2,130.5M394.2,136.5L386.3,145.2M388.0,65.3L384.3,62.3M427.4,149.8L427.3,153.4M463.3,58.3L469.9,50.7M380.5,116.9L378.6,117.6M384.0,124.0L382.6,124.9M463.6,136.7L464.3,137.4M398.1,139.7L395.9,142.7M424.0,149.6L423.9,150.6M391.6,134.0L390.1,135.3M400.1,141.1L397.8,144.5M407.3,50.1L406.8,49.2M439.2,148.8L442.3,164.2M376.9,101.5L376.0,101.6M377.0,101.9L361.5,103.2M459.1,140.2L465.5,149.3M466.3,61.1L477.4,50.2M431.9,149.7L432.0,150.7M385.0,69.6L380.6,66.8M409.1,49.3L405.3,40.3M379.1,82.2L376.4,81.4M426.9,45.4L426.9,44.4M391.0,61.8L386.2,57.3M481.2,97.8L490.4,97.9M443.9,147.6L444.8,150.7M390.0,62.9L389.2,62.3M480.3,107.3L485.3,108.2M452.3,50.9L453.8,47.8M378.2,85.5L375.8,85.0M481.1,94.9L490.1,94.5M387.8,65.6L381.3,60.6M413.1,147.3L409.3,159.1M379.0,82.5L378.1,82.2M468.0,132.3L468.7,133.0M441.0,46.8L441.2,45.8M389.8,63.1L382.3,56.5M464.1,59.0L464.8,58.2M462.6,137.5L469.4,145.5M394.0,136.3L385.8,145.4M451.8,50.6L458.5,36.7M479.3,83.6L483.9,82.3M392.5,60.3L387.6,55.3M478.3,80.6L483.6,78.7M451.0,144.9L451.4,145.8M473.1,125.5L474.0,126.0M391.0,133.4L390.3,134.1M397.5,139.2L393.8,144.2M476.3,75.6L477.2,75.2M380.0,115.7L378.0,116.4M466.9,61.7L467.6,61.0M410.1,48.9L408.5,44.8M469.7,130.2L470.5,130.9M427.3,45.4L427.1,39.3M377.0,102.1L375.9,102.2M477.5,116.9L478.9,117.5M470.5,65.9L474.3,63.0M452.8,144.1L457.1,152.6M457.2,141.5L458.4,143.3M426.9,149.8L426.3,163.4M471.9,127.3L477.2,131.0M481.0,92.7L484.8,92.3M480.0,108.9L490.9,111.4M479.8,109.5L490.2,111.9M382.2,120.8L380.4,121.7M407.9,49.9L407.3,48.6M376.8,99.8L372.6,100.0M445.6,147.1L445.9,148.0M454.4,143.2L454.9,144.1M447.9,146.2L453.1,159.5M479.3,111.5L485.3,113.2M382.9,122.2L382.1,122.6M456.5,141.9L457.1,142.8M397.1,56.3L396.5,55.5M454.0,143.4L454.4,144.3M381.8,75.2L372.4,70.7M400.8,141.5L399.0,144.3M459.5,55.3L466.6,45.5M456.5,53.2L457.1,52.3M466.0,134.4L470.9,139.2M383.4,123.0L382.5,123.5M397.8,55.8L389.4,44.6M436.6,46.0L437.3,41.1M439.0,148.8L439.3,149.9M440.4,148.5L440.7,149.5M383.1,122.5L379.3,124.6M419.3,46.3L416.6,31.5M426.6,45.5L426.5,44.0M383.0,72.8L378.5,70.4M379.3,113.4L364.1,118.2M450.2,49.9L451.1,47.9M459.3,140.1L462.4,144.4M480.2,87.2L495.4,84.1M479.5,84.4L480.7,84.1M469.8,65.1L470.9,64.2M376.9,100.3L375.9,100.3M474.2,71.6L478.7,69.0M392.6,135.0L387.4,140.2M481.2,98.7L490.5,98.9M377.2,103.9L369.0,104.9M464.7,59.5L466.2,57.8M434.2,45.7L435.2,34.9M411.2,48.5L407.1,37.2M436.9,46.0L437.1,45.0M417.3,148.5L416.6,151.5M462.6,57.6L468.1,51.0M478.5,114.2L481.1,115.1M465.8,60.6L468.4,58.0M467.0,61.8L467.7,61.1M425.0,149.6L424.9,150.6M377.6,88.6L376.6,88.5M455.9,142.3L456.4,143.2M480.1,87.1L482.1,86.7M410.4,146.4L409.6,148.3M386.9,66.7L386.1,66.1M386.8,66.9L386.0,66.3M419.3,46.3L418.8,43.4M457.9,141.0L460.4,144.8M389.6,63.4L378.6,53.8M456.0,142.3L456.5,143.1M471.9,67.9L479.8,62.5M377.0,102.7L370.5,103.3M472.5,68.7L475.0,67.0M438.3,46.2L438.5,45.3M478.6,114.0L492.5,118.6M388.1,130.1L380.0,136.6M443.9,47.6L444.4,46.0M453.7,51.6L454.1,50.7M462.7,57.7L471.0,47.9M474.9,122.4L477.1,123.6M386.0,127.2L376.4,133.8M411.8,48.3L410.6,44.9M428.7,149.8L428.6,162.1M461.1,138.7L461.8,139.5M376.9,101.1L375.9,101.2M467.5,132.8L468.8,134.0M436.6,149.2L436.7,150.3M451.1,144.9L451.9,146.7M445.0,47.9L448.1,38.4M448.7,49.3L449.9,46.5M413.6,147.5L413.2,148.9M480.4,88.7L481.4,88.5M466.6,133.8L467.3,134.5M434.2,149.5L434.3,150.5M376.8,97.8L374.3,97.8M431.9,45.5L432.0,43.9M418.0,46.6L417.8,45.6M400.1,141.1L392.1,153.1M468.0,132.3L471.2,135.1M467.3,133.1L468.0,133.7M395.9,138.0L393.4,141.1M476.9,118.4L479.3,119.4M423.7,149.5L422.9,157.2M446.1,48.3L446.4,47.3M481.2,98.2L482.2,98.3M378.9,82.8L377.3,82.3M388.8,64.3L387.6,63.4M479.9,109.2L485.6,110.5M455.7,52.7L463.6,39.6M383.5,72.0L382.6,71.5M476.6,119.0L485.3,123.0M378.3,85.2L373.4,84.0M447.2,48.7L450.0,41.2M444.5,47.8L445.9,43.3M412.2,147.0L408.0,159.5M389.1,131.2L388.3,131.8M408.1,49.8L405.0,42.8M403.9,143.4L403.4,144.2M377.0,101.9L375.3,102.0M381.8,119.9L368.0,126.5M402.9,52.4L402.4,51.5M377.8,87.4L376.0,87.0M376.8,97.1L375.5,97.1M445.9,147.0L446.5,148.8M464.2,59.1L464.9,58.4M377.0,102.6L376.0,102.7M463.7,58.6L470.4,51.2M383.9,123.8L381.0,125.5M463.1,58.1L463.7,57.3M477.5,116.8L490.7,122.0M409.7,146.1L404.9,158.2M479.7,85.0L481.2,84.6M417.2,148.4L414.9,158.3M465.5,60.3L473.4,52.3M438.0,149.0L438.2,150.0M450.6,145.1L451.2,146.3M382.6,121.5L370.9,127.5M431.1,149.8L431.3,155.8M462.8,137.4L468.2,143.8M461.1,56.4L465.6,50.6M474.2,71.5L477.6,69.5M478.9,82.1L479.8,81.8M473.7,70.7L474.6,70.2M400.6,141.4L399.1,143.9M462.6,137.5L465.1,140.4M385.3,69.0L384.4,68.4M402.8,142.7L401.6,144.8M422.7,45.8L422.5,44.8M379.6,114.5L378.7,114.9M481.1,101.3L488.1,101.8M405.3,144.1L404.9,145.0M449.5,49.6L453.3,40.7M465.3,135.1L470.0,139.9M450.4,145.2L452.3,149.4M409.9,146.2L404.4,160.2M400.9,53.6L399.8,51.8M433.3,149.6L433.4,150.6M376.8,96.6L375.8,96.6M477.9,115.8L487.7,119.4M440.4,46.7L441.8,40.5M407.3,145.1L405.9,148.2M474.3,123.6L475.1,124.1M413.1,47.9L410.7,40.3M380.0,79.7L379.0,79.3M378.0,86.5L377.0,86.3M478.6,81.2L481.6,80.3M395.8,137.9L395.1,138.6M377.0,92.7L373.1,92.4M398.2,55.5L390.5,45.0M380.6,117.0L379.5,117.5M413.2,47.9L411.1,41.4M479.5,110.9L489.9,113.6M377.3,105.2L376.4,105.3M481.2,97.3L482.2,97.3M416.9,148.4L416.7,149.4M479.3,111.5L480.3,111.8M467.4,62.2L469.2,60.6M480.7,105.0L481.7,105.1M480.4,106.6L483.1,107.1M391.8,61.0L391.1,60.3M388.7,64.4L380.5,57.7M395.9,137.9L393.8,140.5M377.1,102.9L373.9,103.2M384.9,125.6L374.1,132.5M377.5,89.4L376.5,89.2M446.5,48.4L451.0,35.7M468.7,131.5L475.2,137.1M480.9,92.2L482.9,92.0M466.9,133.4L472.1,138.3M410.9,48.6L410.0,46.1M408.0,145.4L407.5,146.3M480.9,91.8L494.8,90.2M462.3,57.4L471.1,46.9M385.4,126.4L384.6,126.9M398.8,55.0L398.2,54.2M408.1,145.5L407.7,146.4M425.3,45.5L425.3,44.5M391.4,61.4L390.7,60.7M383.8,123.8L383.0,124.3M438.7,46.3L439.4,42.6M423.4,45.7L422.7,39.8M387.8,65.5L381.1,60.3M422.1,149.3L421.9,150.3M420.2,149.1L420.0,150.0M420.3,149.1L420.1,150.1M429.3,149.8L429.3,150.8M378.9,112.1L377.3,112.6M433.6,149.6L433.7,150.6M433.3,149.6L433.6,153.1M420.0,46.2L419.4,42.7M468.1,63.1L468.9,62.4M473.8,124.3L479.3,127.6M409.4,49.2L403.8,35.3M412.9,48.0L408.8,35.5M388.5,64.7L378.1,56.2M435.6,45.8L435.9,43.3M400.9,141.6L397.6,146.6M395.0,137.2L392.1,140.6M407.7,49.9L407.3,49.0M422.7,149.4L421.0,163.7M439.4,46.4L439.6,45.5M390.7,62.1L380.3,52.4M436.9,46.0L437.0,45.0M383.2,72.5L377.9,69.6M422.5,149.4L422.1,153.3M376.9,95.2L367.7,94.8M429.2,45.4L429.2,44.4M378.8,83.3L364.4,79.2M383.8,71.5L382.5,70.7M473.8,124.3L474.7,124.8M433.9,45.6L434.7,37.6M481.0,101.6L485.0,101.9M420.5,149.1L420.3,150.1M382.5,121.3L380.7,122.3M480.9,92.5L492.4,91.4M475.6,74.1L476.5,73.7M481.2,98.7L483.5,98.8M378.0,86.6L377.0,86.4M481.1,93.8L486.4,93.4M481.1,101.0L484.0,101.1M481.2,99.2L492.5,99.6M476.8,76.7L477.8,76.3M478.5,114.2L479.4,114.5M377.4,105.3L371.7,106.1M378.5,84.5L375.3,83.7M453.7,51.6L457.5,44.6M481.2,95.8L482.2,95.7M455.8,142.4L463.7,155.8M466.9,133.5L467.7,134.3M401.3,53.4L393.0,40.1M463.0,137.2L463.6,138.0M378.4,84.7L370.2,82.7M473.4,125.1L480.8,129.6M464.9,135.5L465.5,136.3M400.1,141.1L396.1,147.2M436.9,149.2L438.3,158.6M433.5,45.6L433.8,43.0M464.6,135.7L465.3,136.5M402.3,52.7L401.8,51.9M479.2,83.2L490.2,80.1M416.2,47.0L412.9,34.1M472.7,126.1L483.9,133.3M469.6,64.8L474.8,60.6M411.5,48.4L411.2,47.5M468.3,63.3L472.7,59.4M393.9,59.0L389.2,53.8M412.6,48.0L412.0,46.1M466.5,133.9L467.2,134.6M480.7,105.1L494.1,107.1M451.7,50.6L452.2,49.7M471.7,127.6L472.5,128.2M477.9,115.9L478.8,116.2M465.4,60.2L467.5,58.0M415.9,148.1L415.0,151.7M377.0,93.6L373.9,93.3M412.0,48.3L411.6,47.3M480.4,88.8L481.4,88.6M477.6,116.6L484.9,119.5M405.1,51.2L403.8,48.8M473.1,69.7L474.0,69.2M407.2,145.0L406.8,146.0M378.7,83.7L364.3,79.8M442.1,148.1L443.1,152.3M386.0,68.0L384.2,66.7M477.6,78.6L490.5,73.6M421.8,45.9L421.6,44.9M377.0,93.4L375.5,93.3M445.7,48.2L446.0,47.2M475.2,73.3L481.6,70.0M479.7,85.1L480.7,84.9M480.3,87.7L489.0,86.0M429.3,149.8L429.3,155.1M440.4,148.5L440.6,149.5M434.0,45.6L434.1,44.6M442.5,47.2L442.7,46.2M393.6,135.9L392.7,136.8M437.8,149.0L438.6,153.7M476.6,119.0L477.6,119.4M394.2,58.7L391.6,55.8M455.0,142.9L456.6,145.7M441.9,148.2L442.1,149.2M402.1,52.9L401.5,52.0M408.5,49.6L404.4,39.8M393.7,59.1L393.1,58.4M426.1,149.7L425.2,165.1M479.7,110.2L480.6,110.4M377.5,106.3L376.5,106.5M402.8,142.8L402.3,143.6M412.1,48.2L411.8,47.3M458.9,54.8L462.3,49.8M471.8,127.5L474.7,129.5M429.9,149.8L430.1,162.8M424.3,149.6L424.2,150.9M429.5,45.4L429.6,42.8M480.8,103.8L484.6,104.3M390.5,132.9L388.9,134.3M457.0,53.5L458.3,51.3M435.0,149.5L435.5,154.5M419.3,46.3L419.1,45.3M447.4,146.5L447.7,147.4M379.3,81.5L378.4,81.2M383.1,72.7L375.3,68.5M481.2,99.1L493.4,99.5M427.7,149.8L427.7,151.5M411.3,146.7L406.6,159.7M432.3,149.7L432.5,152.1M479.5,110.8L489.4,113.4M428.0,149.8L428.0,150.8M478.3,80.4L479.2,80.0M383.9,71.3L376.1,66.7M422.0,45.9L420.3,33.2M381.1,118.3L372.9,121.8M378.3,110.1L369.3,112.3M379.5,81.1L378.5,80.8M381.1,77.0L380.1,76.6M481.2,95.7L494.0,95.2M436.5,45.9L436.9,43.2M472.5,126.4L479.8,131.3M395.6,137.7L387.6,147.4M407.5,50.0L405.4,45.4M449.6,49.6L451.8,44.5M462.1,57.2L471.8,45.4M391.3,61.5L390.5,60.9M477.0,77.1L482.7,74.7M376.9,94.9L361.5,94.2M392.6,135.0L391.9,135.7M377.4,105.2L376.4,105.4M390.4,62.4L384.5,57.0M378.1,86.1L367.1,83.6M407.0,145.0L401.2,157.4M389.0,131.1L387.0,132.7M463.6,136.6L464.4,137.4M436.5,45.9L436.6,44.9M378.9,82.8L378.0,82.5M386.1,127.3L379.3,132.0M379.9,115.5L377.3,116.4" stroke="#4a72b0" stroke-width="0.6" fill="none"/>
<circle cx="429" cy="97.6" r="76.3" fill="none" stroke="#e4e4e4" stroke-width="1.8"/>
<line x1="429.0" y1="45.6" x2="429.0" y2="18.6" stroke="#dedede" stroke-width="1.3"/>
<line x1="479.9" y1="87.0" x2="506.3" y2="81.5" stroke="#dedede" stroke-width="1.3"/>
<line x1="449.7" y1="145.3" x2="460.5" y2="170.0" stroke="#dedede" stroke-width="1.3"/>
<line x1="386.5" y1="127.6" x2="364.4" y2="143.1" stroke="#dedede" stroke-width="1.3"/>
<line x1="391.0" y1="62.1" x2="371.2" y2="43.7" stroke="#dedede" stroke-width="1.3"/>
<circle cx="429.0" cy="97.6" r="49.7" fill="none" stroke="#1a1a1a" stroke-width="2.2"/>
<line x1="386.9" y1="69.7" x2="364.0" y2="54.5" stroke="#a51c5c" stroke-width="2.2"/>
<text x="429.0" y="102.2" font-size="11" text-anchor="middle" fill="#333">Chromosome</text>
<text x="428.3" y="18.2" font-size="9.5" text-anchor="middle" fill="#555">0</text>
<text x="506.0" y="83.2" font-size="9" fill="#555">1 × 10<tspan font-size="6.8" dy="-5.0">6</tspan></text>
<text x="457.0" y="178.2" font-size="9" fill="#555">2 × 10<tspan font-size="6.8" dy="-5.0">6</tspan></text>
<text x="334.0" y="151.7" font-size="9" fill="#555">3 × 10<tspan font-size="6.8" dy="-5.0">6</tspan></text>
<text x="344.4" y="42.7" font-size="9" fill="#555">4 × 10<tspan font-size="6.8" dy="-5.0">6</tspan></text>
<text x="350.0" y="54.4" font-size="9.5" fill="#a51c5c">ori</text>
<path d="M589.0,62.3 L590.2,62.3 L590.2,62.8 L591.4,62.9 L591.4,63.6 L592.6,63.7 L592.6,63.9 L593.8,64.0 L593.5,66.2 L594.6,66.4 L594.9,64.3 L596.1,64.5 L596.2,63.9 L597.4,64.2 L597.3,64.5 L598.5,64.8 L598.6,64.2 L599.8,64.6 L600.0,63.8 L601.2,64.1 L601.4,63.5 L602.6,63.9 L602.9,63.0 L604.1,63.5 L603.6,64.9 L604.7,65.4 L604.9,64.9 L606.1,65.4 L607.0,63.4 L608.2,64.0 L608.5,63.3 L609.7,64.0 L609.1,65.2 L610.2,65.8 L610.5,65.4 L611.6,66.1 L613.2,63.5 L614.4,64.3 L614.5,64.2 L615.6,65.0 L615.5,65.2 L616.6,66.1 L616.6,66.1 L617.7,67.0 L620.2,64.0 L621.3,65.0 L621.3,65.1 L622.4,66.1 L623.9,64.6 L625.0,65.7 L624.7,66.0 L625.8,67.1 L620.3,72.3 L621.2,73.3 L623.4,71.3 L624.4,72.4 L628.5,69.1 L629.5,70.3 L629.5,70.3 L630.5,71.6 L628.0,73.4 L628.9,74.6 L627.9,75.2 L628.7,76.5 L629.4,76.1 L630.1,77.4 L631.2,76.8 L631.9,78.1 L629.3,79.5 L630.0,80.8 L630.0,80.8 L630.7,82.1 L631.4,81.8 L632.0,83.1 L632.0,83.1 L632.6,84.5 L636.9,82.7 L637.5,84.2 L637.3,84.3 L637.8,85.8 L636.8,86.2 L637.3,87.7 L636.3,88.0 L636.7,89.4 L635.8,89.7 L636.2,91.2 L635.8,91.2 L636.1,92.7 L634.4,93.0 L634.6,94.5 L634.5,94.5 L634.7,95.9 L636.2,95.7 L636.3,97.2 L635.8,97.3 L635.9,98.7 L635.8,98.8 L635.9,100.2 L635.7,100.2 L635.7,101.7 L634.2,101.7 L634.2,103.1 L633.9,103.1 L633.8,104.5 L635.8,104.6 L635.7,106.1 L635.3,106.1 L635.2,107.5 L634.7,107.5 L634.5,108.9 L634.5,108.9 L634.3,110.3 L637.0,110.9 L636.7,112.4 L637.3,112.5 L636.9,114.0 L638.9,114.5 L638.5,116.1 L638.3,116.0 L637.9,117.6 L635.4,116.8 L634.9,118.2 L635.0,118.3 L634.5,119.7 L636.5,120.5 L635.9,122.0 L636.0,122.1 L635.4,123.5 L632.8,122.3 L632.2,123.7 L631.8,123.5 L631.1,124.8 L629.6,124.0 L628.9,125.3 L629.2,125.5 L628.4,126.7 L629.2,127.2 L628.4,128.5 L628.8,128.8 L628.0,130.0 L627.4,129.6 L626.5,130.8 L626.7,130.9 L625.7,132.1 L624.4,131.0 L623.5,132.1 L623.1,131.7 L622.1,132.8 L625.4,135.9 L624.3,137.0 L624.7,137.4 L623.5,138.5 L620.9,135.7 L619.8,136.6 L620.3,137.3 L619.2,138.2 L622.3,142.0 L621.0,143.0 L620.0,141.7 L618.7,142.6 L616.3,139.3 L615.1,140.2 L615.1,140.2 L613.9,141.0 L616.2,144.6 L614.8,145.4 L614.6,145.0 L613.3,145.8 L611.0,141.7 L609.7,142.4 L609.8,142.5 L608.5,143.1 L609.2,144.7 L607.9,145.3 L608.0,145.6 L606.6,146.2 L606.6,146.2 L605.2,146.7 L605.3,147.1 L603.9,147.6 L605.0,151.0 L603.5,151.5 L603.0,150.0 L601.5,150.4 L600.1,144.9 L598.7,145.2 L600.0,151.1 L598.5,151.4 L598.0,149.1 L596.5,149.4 L596.5,149.1 L595.0,149.3 L595.1,149.8 L593.6,150.0 L593.5,149.4 L592.0,149.5 L592.0,149.2 L590.5,149.2 L590.5,148.5 L589.0,148.6 L589.0,151.4 L587.4,151.4 L587.5,150.8 L585.9,150.8 L585.9,151.5 L584.3,151.3 L584.3,150.9 L582.8,150.7 L583.2,147.5 L581.8,147.3 L581.9,146.7 L580.5,146.5 L580.5,146.3 L579.1,146.0 L579.0,146.4 L577.6,146.1 L576.8,149.3 L575.3,148.9 L575.1,149.5 L573.6,149.0 L573.8,148.4 L572.4,147.9 L572.6,147.3 L571.2,146.7 L571.4,146.1 L570.0,145.5 L569.9,145.8 L568.6,145.2 L567.6,147.2 L566.2,146.5 L566.5,145.8 L565.1,145.1 L564.4,146.5 L563.0,145.7 L562.8,146.0 L561.4,145.2 L562.2,143.9 L560.9,143.0 L561.2,142.6 L559.9,141.7 L559.9,141.8 L558.6,140.9 L558.8,140.6 L557.6,139.6 L557.8,139.4 L556.7,138.4 L555.7,139.5 L554.5,138.4 L554.9,138.0 L553.8,136.9 L552.9,137.8 L551.8,136.7 L551.4,137.0 L550.3,135.8 L550.8,135.4 L549.7,134.2 L549.0,134.8 L548.0,133.5 L548.7,133.0 L547.7,131.7 L549.2,130.6 L548.3,129.4 L548.1,129.5 L547.3,128.2 L550.2,126.3 L549.5,125.1 L551.5,123.9 L550.8,122.7 L545.0,125.9 L544.2,124.5 L543.9,124.7 L543.2,123.3 L546.8,121.5 L546.2,120.2 L546.5,120.1 L545.9,118.8 L541.7,120.4 L541.1,118.9 L541.7,118.7 L541.2,117.2 L541.7,117.1 L541.2,115.6 L541.9,115.4 L541.5,113.9 L540.8,114.1 L540.5,112.5 L539.7,112.7 L539.4,111.2 L540.8,110.9 L540.5,109.4 L539.9,109.5 L539.7,107.9 L540.5,107.8 L540.3,106.3 L540.0,106.3 L539.9,104.8 L541.9,104.7 L541.9,103.2 L541.7,103.2 L541.7,101.7 L538.6,101.7 L538.6,100.1 L538.2,100.1 L538.2,98.5 L539.8,98.6 L540.0,97.1 L541.3,97.2 L541.5,95.7 L541.1,95.7 L541.4,94.2 L542.4,94.3 L542.7,92.9 L543.6,93.0 L543.9,91.6 L542.6,91.3 L542.9,89.9 L541.2,89.4 L541.6,87.9 L540.8,87.7 L541.2,86.2 L543.9,87.0 L544.3,85.6 L544.0,85.5 L544.6,84.1 L543.7,83.8 L544.3,82.4 L545.3,82.8 L545.9,81.4 L544.8,80.9 L545.5,79.5 L545.7,79.6 L546.4,78.3 L545.7,77.9 L546.5,76.6 L548.3,77.6 L549.1,76.4 L546.3,74.6 L547.2,73.3 L547.1,73.2 L548.0,71.9 L548.5,72.3 L549.4,71.0 L549.9,71.4 L550.9,70.1 L553.6,72.4 L554.5,71.3 L554.3,71.1 L555.3,70.0 L552.9,67.8 L554.0,66.7 L553.6,66.3 L554.7,65.2 L554.7,65.1 L555.8,64.1 L556.1,64.4 L557.3,63.4 L560.5,67.2 L561.6,66.3 L562.1,67.0 L563.2,66.2 L561.8,64.3 L563.0,63.5 L563.6,64.3 L564.8,63.5 L565.7,65.0 L566.8,64.2 L567.1,64.7 L568.3,64.0 L568.0,63.5 L569.2,62.8 L569.9,64.1 L571.1,63.6 L570.9,63.2 L572.1,62.6 L572.2,62.8 L573.4,62.3 L573.4,62.2 L574.6,61.7 L575.0,62.8 L576.2,62.4 L576.8,64.0 L578.0,63.7 L578.1,64.3 L579.3,64.0 L579.7,65.5 L580.9,65.2 L580.8,65.1 L582.0,64.8 L582.0,65.1 L583.2,64.9 L583.1,64.8 L584.3,64.6 L584.3,64.2 L585.4,64.0 L585.4,63.9 L586.6,63.8 L586.6,63.0 L587.8,62.9 L587.8,62.9 L589.0,62.8 Z" fill="#c6c6c6"/>
<circle cx="589.0" cy="101.7" r="33.6" fill="#fff"/>
<path d="M555.5,99.1L538.8,97.8M555.4,102.5L551.2,102.6M588.0,135.3L587.6,149.2M556.2,94.4L543.5,91.6M561.0,83.2L548.4,74.8M580.4,134.2L577.6,145.0M598.1,69.4L600.3,61.8M555.8,106.6L538.9,109.1M561.6,82.2L555.8,78.1M622.3,97.4L638.6,95.3M560.9,120.2L558.8,121.6M596.9,69.0L598.8,61.3M573.4,131.5L572.8,132.7M586.9,68.2L586.4,60.2M555.4,99.9L540.8,99.1M622.6,102.9L631.3,103.3M618.7,85.9L628.0,81.0M602.4,132.5L608.1,145.6M611.3,76.6L613.2,74.5M610.9,127.2L611.5,127.9M607.6,129.7L617.7,144.8M563.9,79.4L562.1,77.8M559.7,85.2L557.0,83.6M622.5,99.5L633.6,98.8M621.3,110.9L624.0,111.6M606.2,72.8L607.4,70.8M620.4,89.8L636.3,83.8M597.8,69.3L599.9,61.5M621.7,93.8L634.1,90.8M589.6,68.1L589.7,62.3M555.5,104.3L554.5,104.4M606.8,130.2L609.4,134.4M592.3,135.1L593.4,146.0M605.2,72.2L611.9,60.0M622.3,105.9L636.2,107.7M613.9,79.2L614.7,78.4M620.5,90.1L621.5,89.7M622.6,101.2L624.4,101.2M606.4,72.9L614.1,60.1M583.0,134.8L581.6,142.8M587.3,135.3L586.5,150.0M598.6,69.5L598.8,68.5M560.0,118.6L559.1,119.1M587.8,135.3L587.4,146.1M561.8,82.0L560.9,81.5M608.4,129.1L611.1,133.0M572.8,131.1L572.3,132.0M555.4,100.9L537.4,100.4M578.9,133.7L575.4,144.9M560.1,84.6L546.8,76.7M558.5,87.5L551.3,84.1M606.6,73.1L614.1,60.8M561.1,83.0L550.7,76.2M619.9,115.0L636.8,122.3M565.6,125.8L562.3,129.2M556.3,94.1L553.2,93.4M622.5,99.7L639.4,98.8M600.4,70.1L603.9,60.6M609.3,128.5L615.2,136.2M557.7,113.9L542.0,120.0M622.0,95.4L623.1,95.2M586.4,135.2L586.2,138.3M604.4,131.6L605.0,132.8M607.0,73.3L612.2,65.2M599.7,69.9L601.0,66.2M610.7,127.3L611.4,128.2M557.4,90.2L541.7,84.5M595.7,68.8L597.3,60.9M619.0,86.6L630.6,80.8M601.5,70.5L605.6,60.3M575.2,71.1L573.6,67.7M617.9,84.6L622.4,82.0M563.1,80.3L552.2,71.3M617.0,83.1L631.0,73.8M555.5,104.0L537.5,105.2M583.3,68.6L582.9,66.5M555.7,106.4L554.7,106.6M620.4,89.7L628.8,86.5M622.4,98.2L625.5,97.8M615.2,122.8L621.0,127.4M572.4,72.5L567.5,63.9M577.4,133.2L573.0,145.2M620.1,89.0L633.6,83.5M555.5,99.0L540.7,97.8M599.4,133.7L602.2,142.3M604.2,71.7L607.6,65.1M562.6,122.5L548.6,133.6M568.6,75.0L565.4,70.9M555.4,100.4L539.7,99.7M580.9,69.1L579.0,61.3" stroke="#4a72b0" stroke-width="0.6" fill="none"/>
<circle cx="589" cy="101.7" r="57.5" fill="none" stroke="#e4e4e4" stroke-width="1.8"/>
<line x1="589.0" y1="68.7" x2="589.0" y2="41.7" stroke="#cfcfcf" stroke-width="1.2"/>
<line x1="641.5" y1="94.1" x2="649.4" y2="93.0" stroke="#dedede" stroke-width="1.3"/>
<line x1="604.0" y1="152.5" x2="606.2" y2="160.2" stroke="#dedede" stroke-width="1.3"/>
<line x1="540.8" y1="123.8" x2="533.5" y2="127.1" stroke="#dedede" stroke-width="1.3"/>
<line x1="560.1" y1="57.3" x2="555.8" y2="50.5" stroke="#dedede" stroke-width="1.3"/>
<circle cx="589.0" cy="101.7" r="31.1" fill="none" stroke="#1a1a1a" stroke-width="2.2"/>
<line x1="599.6" y1="131.9" x2="608.2" y2="156.4" stroke="#a51c5c" stroke-width="2.2"/>
<path d="M560.5,99.7 A28.6,28.6 0 0 1 571.8,78.9" fill="none" stroke="#a51c5c" stroke-width="2"/>
<text x="564.0" y="95.3" font-size="9.5" fill="#a51c5c">ER</text>
<text x="588.8" y="108.2" font-size="11" text-anchor="middle" fill="#333">pINV</text>
<text x="588.4" y="41.7" font-size="9.5" text-anchor="middle" fill="#555">0</text>
<text x="523.0" y="60.7" font-size="9" fill="#555">2 × 10<tspan font-size="6.8" dy="-5.0">5</tspan></text>
<text x="650.8" y="93.9" font-size="9" fill="#555">0.5 × 10<tspan font-size="6.8" dy="-5.0">5</tspan></text>
<text x="504.9" y="143.3" font-size="9" fill="#555">1.5 × 10<tspan font-size="6.8" dy="-5.0">5</tspan></text>
<text x="613.0" y="164.9" font-size="9" fill="#555">1 × 10<tspan font-size="6.8" dy="-5.0">5</tspan></text>
<text x="597.8" y="164.9" font-size="9.5" fill="#a51c5c">ori</text>
<text x="482.0" y="21.5" font-size="11" fill="#333">Input</text>
<line x1="512.0" y1="14.0" x2="525.0" y2="14.0" stroke="#4a72b0" stroke-width="2"/>
<line x1="512.0" y1="27.6" x2="525.0" y2="27.6" stroke="#999" stroke-width="2"/>
<text x="531.9" y="18.3" font-size="11" fill="#333">Sub-library 1</text>
<text x="531.9" y="31.7" font-size="11" fill="#333">Sub-libraries 1–43</text>
<text x="-0.5" y="202.4" font-size="17.5" fill="#000" font-weight="bold" stroke="#000" stroke-width="0.9">c</text>
<rect x="173.7" y="198.4" width="8.6" height="8.4" fill="#404040"/>
<text x="188.4" y="206.5" font-size="11" fill="#222">pINV-Input</text>
<rect x="261.2" y="198.4" width="8.6" height="8.4" fill="#d9676b"/>
<text x="275.6" y="206.5" font-size="11" fill="#222">pINV-Output</text>
<rect x="359.9" y="198.4" width="8.6" height="8.4" fill="#a6a6a6"/>
<text x="374.2" y="206.5" font-size="11" fill="#222">Chr-Input</text>
<rect x="441.4" y="198.4" width="8.6" height="8.4" fill="#efb7b7"/>
<text x="456.1" y="206.5" font-size="11" fill="#222">Chr-Output</text>
<rect x="103.0" y="280.6" width="4.9" height="40.7" fill="#a6a6a6"/>
<rect x="103.0" y="274.1" width="4.9" height="6.5" fill="#404040"/>
<rect x="108.2" y="290.8" width="5.5" height="30.5" fill="#efb7b7"/>
<rect x="108.2" y="286.1" width="5.5" height="4.7" fill="#d9676b"/>
<rect x="114.3" y="237.7" width="4.9" height="83.6" fill="#a6a6a6"/>
<rect x="114.3" y="223.4" width="4.9" height="14.3" fill="#404040"/>
<rect x="119.5" y="282.7" width="5.5" height="38.6" fill="#efb7b7"/>
<rect x="119.5" y="276.9" width="5.5" height="5.7" fill="#d9676b"/>
<rect x="125.6" y="238.1" width="4.9" height="83.2" fill="#a6a6a6"/>
<rect x="125.6" y="223.0" width="4.9" height="15.1" fill="#404040"/>
<rect x="130.8" y="293.3" width="5.5" height="28.0" fill="#efb7b7"/>
<rect x="130.8" y="288.0" width="5.5" height="5.3" fill="#d9676b"/>
<rect x="136.9" y="239.7" width="4.9" height="81.6" fill="#a6a6a6"/>
<rect x="136.9" y="225.0" width="4.9" height="14.7" fill="#404040"/>
<rect x="142.1" y="290.8" width="5.5" height="30.5" fill="#efb7b7"/>
<rect x="142.1" y="285.9" width="5.5" height="4.9" fill="#d9676b"/>
<rect x="148.2" y="232.6" width="4.9" height="88.7" fill="#a6a6a6"/>
<rect x="148.2" y="216.9" width="4.9" height="15.7" fill="#404040"/>
<rect x="153.4" y="282.7" width="5.5" height="38.6" fill="#efb7b7"/>
<rect x="153.4" y="276.1" width="5.5" height="6.5" fill="#d9676b"/>
<rect x="159.5" y="246.9" width="4.9" height="74.4" fill="#a6a6a6"/>
<rect x="159.5" y="234.0" width="4.9" height="12.9" fill="#404040"/>
<rect x="164.7" y="298.0" width="5.5" height="23.3" fill="#efb7b7"/>
<rect x="164.7" y="293.9" width="5.5" height="4.1" fill="#d9676b"/>
<rect x="170.8" y="243.8" width="4.9" height="77.5" fill="#a6a6a6"/>
<rect x="170.8" y="231.2" width="4.9" height="12.7" fill="#404040"/>
<rect x="176.0" y="276.9" width="5.5" height="44.4" fill="#efb7b7"/>
<rect x="176.0" y="270.0" width="5.5" height="6.9" fill="#d9676b"/>
<rect x="182.1" y="244.9" width="4.9" height="76.4" fill="#a6a6a6"/>
<rect x="182.1" y="231.2" width="4.9" height="13.7" fill="#404040"/>
<rect x="187.3" y="291.7" width="5.5" height="29.6" fill="#efb7b7"/>
<rect x="187.3" y="286.7" width="5.5" height="4.9" fill="#d9676b"/>
<rect x="193.4" y="240.8" width="4.9" height="80.5" fill="#a6a6a6"/>
<rect x="193.4" y="227.1" width="4.9" height="13.7" fill="#404040"/>
<rect x="198.6" y="297.0" width="5.5" height="24.3" fill="#efb7b7"/>
<rect x="198.6" y="293.5" width="5.5" height="3.5" fill="#d9676b"/>
<rect x="204.7" y="244.2" width="4.9" height="77.1" fill="#a6a6a6"/>
<rect x="204.7" y="232.0" width="4.9" height="12.3" fill="#404040"/>
<rect x="209.9" y="261.2" width="5.5" height="60.1" fill="#efb7b7"/>
<rect x="209.9" y="252.0" width="5.5" height="9.2" fill="#d9676b"/>
<rect x="227.3" y="236.1" width="4.9" height="85.2" fill="#a6a6a6"/>
<rect x="227.3" y="219.9" width="4.9" height="16.1" fill="#404040"/>
<rect x="232.5" y="276.1" width="5.5" height="45.2" fill="#efb7b7"/>
<rect x="232.5" y="267.9" width="5.5" height="8.2" fill="#d9676b"/>
<rect x="238.6" y="238.9" width="4.9" height="82.4" fill="#a6a6a6"/>
<rect x="238.6" y="224.4" width="4.9" height="14.5" fill="#404040"/>
<rect x="243.8" y="274.1" width="5.5" height="47.2" fill="#efb7b7"/>
<rect x="243.8" y="265.9" width="5.5" height="8.2" fill="#d9676b"/>
<rect x="249.9" y="238.9" width="4.9" height="82.4" fill="#a6a6a6"/>
<rect x="249.9" y="223.4" width="4.9" height="15.5" fill="#404040"/>
<rect x="255.1" y="265.9" width="5.5" height="55.4" fill="#efb7b7"/>
<rect x="255.1" y="257.1" width="5.5" height="8.8" fill="#d9676b"/>
<rect x="261.2" y="243.0" width="4.9" height="78.3" fill="#a6a6a6"/>
<rect x="261.2" y="229.1" width="4.9" height="13.9" fill="#404040"/>
<rect x="266.4" y="283.7" width="5.5" height="37.6" fill="#efb7b7"/>
<rect x="266.4" y="279.0" width="5.5" height="4.7" fill="#d9676b"/>
<rect x="272.5" y="247.9" width="4.9" height="73.4" fill="#a6a6a6"/>
<rect x="272.5" y="235.2" width="4.9" height="12.7" fill="#404040"/>
<rect x="277.7" y="287.8" width="5.5" height="33.5" fill="#efb7b7"/>
<rect x="277.7" y="282.7" width="5.5" height="5.1" fill="#d9676b"/>
<rect x="283.8" y="245.9" width="4.9" height="75.4" fill="#a6a6a6"/>
<rect x="283.8" y="232.6" width="4.9" height="13.3" fill="#404040"/>
<rect x="289.0" y="287.8" width="5.5" height="33.5" fill="#efb7b7"/>
<rect x="289.0" y="282.7" width="5.5" height="5.1" fill="#d9676b"/>
<rect x="295.1" y="258.5" width="4.9" height="62.8" fill="#a6a6a6"/>
<rect x="295.1" y="246.9" width="4.9" height="11.6" fill="#404040"/>
<rect x="300.3" y="277.8" width="5.5" height="43.5" fill="#efb7b7"/>
<rect x="300.3" y="270.4" width="5.5" height="7.4" fill="#d9676b"/>
<rect x="306.4" y="255.7" width="4.9" height="65.6" fill="#a6a6a6"/>
<rect x="306.4" y="243.0" width="4.9" height="12.7" fill="#404040"/>
<rect x="311.6" y="287.8" width="5.5" height="33.5" fill="#efb7b7"/>
<rect x="311.6" y="282.7" width="5.5" height="5.1" fill="#d9676b"/>
<rect x="317.7" y="255.7" width="4.9" height="65.6" fill="#a6a6a6"/>
<rect x="317.7" y="243.0" width="4.9" height="12.7" fill="#404040"/>
<rect x="322.9" y="288.8" width="5.5" height="32.5" fill="#efb7b7"/>
<rect x="322.9" y="283.1" width="5.5" height="5.7" fill="#d9676b"/>
<rect x="329.0" y="258.5" width="4.9" height="62.8" fill="#a6a6a6"/>
<rect x="329.0" y="245.9" width="4.9" height="12.7" fill="#404040"/>
<rect x="334.2" y="271.8" width="5.5" height="49.5" fill="#efb7b7"/>
<rect x="334.2" y="263.9" width="5.5" height="8.0" fill="#d9676b"/>
<rect x="340.3" y="255.7" width="4.9" height="65.6" fill="#a6a6a6"/>
<rect x="340.3" y="243.0" width="4.9" height="12.7" fill="#404040"/>
<rect x="345.5" y="274.1" width="5.5" height="47.2" fill="#efb7b7"/>
<rect x="345.5" y="265.9" width="5.5" height="8.2" fill="#d9676b"/>
<rect x="351.6" y="254.7" width="4.9" height="66.6" fill="#a6a6a6"/>
<rect x="351.6" y="242.2" width="4.9" height="12.5" fill="#404040"/>
<rect x="356.8" y="293.3" width="5.5" height="28.0" fill="#efb7b7"/>
<rect x="356.8" y="288.4" width="5.5" height="4.9" fill="#d9676b"/>
<rect x="362.9" y="245.5" width="4.9" height="75.8" fill="#a6a6a6"/>
<rect x="362.9" y="231.2" width="4.9" height="14.3" fill="#404040"/>
<rect x="368.1" y="286.7" width="5.5" height="34.6" fill="#efb7b7"/>
<rect x="368.1" y="281.8" width="5.5" height="4.9" fill="#d9676b"/>
<rect x="374.2" y="252.8" width="4.9" height="68.5" fill="#a6a6a6"/>
<rect x="374.2" y="240.2" width="4.9" height="12.7" fill="#404040"/>
<rect x="379.4" y="280.6" width="5.5" height="40.7" fill="#efb7b7"/>
<rect x="379.4" y="273.1" width="5.5" height="7.6" fill="#d9676b"/>
<rect x="385.5" y="247.9" width="4.9" height="73.4" fill="#a6a6a6"/>
<rect x="385.5" y="233.2" width="4.9" height="14.7" fill="#404040"/>
<rect x="390.7" y="258.8" width="5.5" height="62.5" fill="#efb7b7"/>
<rect x="390.7" y="246.9" width="5.5" height="11.9" fill="#d9676b"/>
<rect x="396.8" y="241.8" width="4.9" height="79.5" fill="#a6a6a6"/>
<rect x="396.8" y="228.1" width="4.9" height="13.7" fill="#404040"/>
<rect x="402.0" y="263.9" width="5.5" height="57.4" fill="#efb7b7"/>
<rect x="402.0" y="254.7" width="5.5" height="9.2" fill="#d9676b"/>
<rect x="408.1" y="238.9" width="4.9" height="82.4" fill="#a6a6a6"/>
<rect x="408.1" y="223.0" width="4.9" height="15.9" fill="#404040"/>
<rect x="413.3" y="263.9" width="5.5" height="57.4" fill="#efb7b7"/>
<rect x="413.3" y="253.2" width="5.5" height="10.6" fill="#d9676b"/>
<rect x="419.4" y="254.0" width="4.9" height="67.3" fill="#a6a6a6"/>
<rect x="419.4" y="240.2" width="4.9" height="13.9" fill="#404040"/>
<rect x="424.6" y="265.9" width="5.5" height="55.4" fill="#efb7b7"/>
<rect x="424.6" y="256.1" width="5.5" height="9.8" fill="#d9676b"/>
<rect x="430.7" y="246.9" width="4.9" height="74.4" fill="#a6a6a6"/>
<rect x="430.7" y="230.1" width="4.9" height="16.8" fill="#404040"/>
<rect x="435.9" y="268.4" width="5.5" height="52.9" fill="#efb7b7"/>
<rect x="435.9" y="260.8" width="5.5" height="7.6" fill="#d9676b"/>
<rect x="442.0" y="236.7" width="4.9" height="84.6" fill="#a6a6a6"/>
<rect x="442.0" y="220.9" width="4.9" height="15.7" fill="#404040"/>
<rect x="447.2" y="260.6" width="5.5" height="60.7" fill="#efb7b7"/>
<rect x="447.2" y="250.4" width="5.5" height="10.2" fill="#d9676b"/>
<rect x="453.3" y="236.1" width="4.9" height="85.2" fill="#a6a6a6"/>
<rect x="453.3" y="220.3" width="4.9" height="15.7" fill="#404040"/>
<rect x="458.5" y="257.1" width="5.5" height="64.2" fill="#efb7b7"/>
<rect x="458.5" y="247.1" width="5.5" height="10.0" fill="#d9676b"/>
<rect x="464.6" y="257.7" width="4.9" height="63.6" fill="#a6a6a6"/>
<rect x="464.6" y="245.5" width="4.9" height="12.3" fill="#404040"/>
<rect x="469.8" y="286.7" width="5.5" height="34.6" fill="#efb7b7"/>
<rect x="469.8" y="281.4" width="5.5" height="5.3" fill="#d9676b"/>
<rect x="475.9" y="240.8" width="4.9" height="80.5" fill="#a6a6a6"/>
<rect x="475.9" y="226.1" width="4.9" height="14.7" fill="#404040"/>
<rect x="481.1" y="282.7" width="5.5" height="38.6" fill="#efb7b7"/>
<rect x="481.1" y="277.3" width="5.5" height="5.3" fill="#d9676b"/>
<rect x="487.2" y="242.8" width="4.9" height="78.5" fill="#a6a6a6"/>
<rect x="487.2" y="229.1" width="4.9" height="13.7" fill="#404040"/>
<rect x="492.4" y="260.6" width="5.5" height="60.7" fill="#efb7b7"/>
<rect x="492.4" y="251.6" width="5.5" height="9.0" fill="#d9676b"/>
<rect x="498.5" y="249.6" width="4.9" height="71.7" fill="#a6a6a6"/>
<rect x="498.5" y="236.1" width="4.9" height="13.5" fill="#404040"/>
<rect x="503.7" y="278.6" width="5.5" height="42.7" fill="#efb7b7"/>
<rect x="503.7" y="271.0" width="5.5" height="7.6" fill="#d9676b"/>
<rect x="509.8" y="257.7" width="4.9" height="63.6" fill="#a6a6a6"/>
<rect x="509.8" y="246.3" width="4.9" height="11.4" fill="#404040"/>
<rect x="515.0" y="287.2" width="5.5" height="34.1" fill="#efb7b7"/>
<rect x="515.0" y="282.3" width="5.5" height="4.9" fill="#d9676b"/>
<rect x="521.1" y="246.9" width="4.9" height="74.4" fill="#a6a6a6"/>
<rect x="521.1" y="232.2" width="4.9" height="14.7" fill="#404040"/>
<rect x="526.3" y="261.8" width="5.5" height="59.5" fill="#efb7b7"/>
<rect x="526.3" y="252.0" width="5.5" height="9.8" fill="#d9676b"/>
<rect x="532.4" y="249.1" width="4.9" height="72.2" fill="#a6a6a6"/>
<rect x="532.4" y="236.7" width="4.9" height="12.5" fill="#404040"/>
<rect x="537.6" y="264.3" width="5.5" height="57.0" fill="#efb7b7"/>
<rect x="537.6" y="255.7" width="5.5" height="8.6" fill="#d9676b"/>
<rect x="543.7" y="247.9" width="4.9" height="73.4" fill="#a6a6a6"/>
<rect x="543.7" y="233.6" width="4.9" height="14.3" fill="#404040"/>
<rect x="548.9" y="258.1" width="5.5" height="63.2" fill="#efb7b7"/>
<rect x="548.9" y="246.3" width="5.5" height="11.9" fill="#d9676b"/>
<rect x="555.0" y="236.1" width="4.9" height="85.2" fill="#a6a6a6"/>
<rect x="555.0" y="219.7" width="4.9" height="16.3" fill="#404040"/>
<rect x="560.2" y="298.0" width="5.5" height="23.3" fill="#efb7b7"/>
<rect x="560.2" y="293.9" width="5.5" height="4.1" fill="#d9676b"/>
<rect x="566.3" y="253.6" width="4.9" height="67.7" fill="#a6a6a6"/>
<rect x="566.3" y="240.2" width="4.9" height="13.5" fill="#404040"/>
<rect x="571.5" y="271.4" width="5.5" height="49.9" fill="#efb7b7"/>
<rect x="571.5" y="263.0" width="5.5" height="8.4" fill="#d9676b"/>
<rect x="577.6" y="266.7" width="4.9" height="54.6" fill="#a6a6a6"/>
<rect x="577.6" y="256.5" width="4.9" height="10.2" fill="#404040"/>
<rect x="582.8" y="292.9" width="5.5" height="28.4" fill="#efb7b7"/>
<rect x="582.8" y="288.4" width="5.5" height="4.5" fill="#d9676b"/>
<polyline points="105.5,293.3 111.2,278.2 116.8,294.9 122.5,281.0 128.1,289.8 133.8,280.2 139.4,288.4 145.1,285.3 150.7,287.4 156.4,283.1 162.0,282.7 167.7,282.3 173.3,282.0 179.0,282.0 184.6,288.8 190.3,281.6 195.9,281.6 201.6,281.8 207.2,281.4 212.9,281.0 218.5,319.4 224.2,278.2 229.8,285.3 235.5,278.6 241.1,304.1 246.8,285.3 252.4,287.8 258.1,281.6 263.7,285.3 269.4,281.6 275.0,288.8 280.7,284.7 286.3,276.5 292.0,283.3 297.6,286.3 303.3,281.6 308.9,278.2 314.6,283.7 320.2,275.5 325.9,280.2 331.5,278.6 337.2,284.7 342.8,274.5 348.5,283.3 354.1,273.9 359.8,282.3 365.4,276.9 371.1,281.2 376.7,275.9 382.4,282.0 388.0,274.1 393.7,282.3 399.3,284.7 405.0,284.1 410.6,281.6 416.3,283.3 421.9,279.6 427.6,265.9 433.2,278.6 438.9,266.3 444.5,276.9 450.2,262.8 455.8,274.5 461.5,281.2 467.1,280.0 472.8,284.1 478.4,279.6 484.1,286.7 489.7,276.9 495.4,279.0 501.0,276.9 506.7,274.5 512.3,276.5 518.0,287.2 523.6,276.1 529.3,274.1 534.9,275.5 540.6,279.2 546.2,271.4 551.9,282.3 557.5,273.5 563.2,277.6 568.8,276.1 574.5,274.1 580.1,280.6 585.8,274.1" fill="none" stroke="#3d5793" stroke-width="1.5" stroke-linejoin="round"/>
<path d="M98,211.5 H594 V326.2 H98 Z" fill="none" stroke="#707070" stroke-width="1"/>
<line x1="94.4" y1="321.3" x2="98.0" y2="321.3" stroke="#707070" stroke-width="1"/>
<text x="90.7" y="326.1" font-size="8.5" text-anchor="end" fill="#333">0 × 10<tspan font-size="6.4" dy="-4.8">0</tspan></text>
<line x1="94.4" y1="284.8" x2="98.0" y2="284.8" stroke="#707070" stroke-width="1"/>
<text x="90.7" y="289.6" font-size="8.5" text-anchor="end" fill="#333">1 × 10<tspan font-size="6.4" dy="-4.8">3</tspan></text>
<line x1="94.4" y1="248.3" x2="98.0" y2="248.3" stroke="#707070" stroke-width="1"/>
<text x="90.7" y="253.1" font-size="8.5" text-anchor="end" fill="#333">2 × 10<tspan font-size="6.4" dy="-4.8">3</tspan></text>
<line x1="94.4" y1="211.8" x2="98.0" y2="211.8" stroke="#707070" stroke-width="1"/>
<text x="90.7" y="216.6" font-size="8.5" text-anchor="end" fill="#333">3 × 10<tspan font-size="6.4" dy="-4.8">3</tspan></text>
<line x1="594.0" y1="321.5" x2="597.3" y2="321.5" stroke="#707070" stroke-width="1"/>
<text x="601.8" y="325.5" font-size="8.5" fill="#5468a0">0 × 10<tspan font-size="6.4" dy="-4.8">0</tspan></text>
<line x1="594.0" y1="291.1" x2="597.3" y2="291.1" stroke="#707070" stroke-width="1"/>
<text x="601.8" y="295.1" font-size="8.5" fill="#5468a0">5.0 × 10<tspan font-size="6.4" dy="-4.8">7</tspan></text>
<line x1="594.0" y1="260.7" x2="597.3" y2="260.7" stroke="#707070" stroke-width="1"/>
<text x="601.8" y="264.7" font-size="8.5" fill="#5468a0">1.0 × 10<tspan font-size="6.4" dy="-4.8">7</tspan></text>
<line x1="594.0" y1="230.3" x2="597.3" y2="230.3" stroke="#707070" stroke-width="1"/>
<text x="601.8" y="234.3" font-size="8.5" fill="#5468a0">1.5 × 10<tspan font-size="6.4" dy="-4.8">7</tspan></text>
<line x1="108.3" y1="326.2" x2="108.3" y2="329.4" stroke="#707070" stroke-width="1"/>
<text x="108.3" y="342.0" font-size="8.5" text-anchor="middle" fill="#222">1</text>
<line x1="153.5" y1="326.2" x2="153.5" y2="329.4" stroke="#707070" stroke-width="1"/>
<text x="153.5" y="342.0" font-size="8.5" text-anchor="middle" fill="#222">5</text>
<line x1="210.0" y1="326.2" x2="210.0" y2="329.4" stroke="#707070" stroke-width="1"/>
<text x="210.0" y="342.0" font-size="8.5" text-anchor="middle" fill="#222">10</text>
<line x1="266.5" y1="326.2" x2="266.5" y2="329.4" stroke="#707070" stroke-width="1"/>
<text x="266.5" y="342.0" font-size="8.5" text-anchor="middle" fill="#222">15</text>
<line x1="323.0" y1="326.2" x2="323.0" y2="329.4" stroke="#707070" stroke-width="1"/>
<text x="323.0" y="342.0" font-size="8.5" text-anchor="middle" fill="#222">20</text>
<line x1="379.5" y1="326.2" x2="379.5" y2="329.4" stroke="#707070" stroke-width="1"/>
<text x="379.5" y="342.0" font-size="8.5" text-anchor="middle" fill="#222">25</text>
<line x1="436.0" y1="326.2" x2="436.0" y2="329.4" stroke="#707070" stroke-width="1"/>
<text x="436.0" y="342.0" font-size="8.5" text-anchor="middle" fill="#222">30</text>
<line x1="492.5" y1="326.2" x2="492.5" y2="329.4" stroke="#707070" stroke-width="1"/>
<text x="492.5" y="342.0" font-size="8.5" text-anchor="middle" fill="#222">35</text>
<line x1="549.0" y1="326.2" x2="549.0" y2="329.4" stroke="#707070" stroke-width="1"/>
<text x="549.0" y="342.0" font-size="8.5" text-anchor="middle" fill="#222">40</text>
<line x1="582.9" y1="326.2" x2="582.9" y2="329.4" stroke="#707070" stroke-width="1"/>
<text x="582.9" y="342.0" font-size="8.5" text-anchor="middle" fill="#222">43</text>
<text x="345.7" y="359.3" font-size="11" text-anchor="middle" fill="#222">Sub-library</text>
<text x="56.2" y="269.5" font-size="11" text-anchor="middle" fill="#222" transform="rotate(-90 56.2 269.5)">Number of unique TIS</text>
<text x="643.9" y="270.0" font-size="11" text-anchor="middle" fill="#5468a0" transform="rotate(90 643.9 270.0)">Read counts</text>
<text x="215.6" y="276.2" font-size="9.5" fill="#222">na</text>
<text x="-0.3" y="381.2" font-size="17.5" fill="#000" font-weight="bold" stroke="#000" stroke-width="0.9">d</text>
<line x1="16.8" y1="391.2" x2="677.3" y2="391.2" stroke="#8a8a8a" stroke-width="1.1"/>
<line x1="16.8" y1="428.1" x2="677.3" y2="428.1" stroke="#8a8a8a" stroke-width="1.1"/>
<line x1="197.3" y1="381.0" x2="197.3" y2="391.2" stroke="#222" stroke-width="1"/>
<circle cx="197.3" cy="391.2" r="1.9" fill="#111"/>
<line x1="481.9" y1="381.0" x2="481.9" y2="391.2" stroke="#222" stroke-width="1"/>
<circle cx="481.9" cy="391.2" r="1.9" fill="#111"/>
<text x="107.5" y="385.8" font-size="10.8" text-anchor="middle">Data</text>
<text x="289.8" y="384.8" font-size="10.8" fill="#6d6d6d">ZINB pseudogenes only</text>
<text x="512.0" y="384.7" font-size="10.8" fill="#e0676a">ZINB with gene-wise log<tspan font-size="7.5" dy="2.5">2</tspan><tspan dy="-2.5">FC</tspan></text>
<text x="39.6" y="407.7" font-size="11">~85,000 TIS from</text>
<text x="39.6" y="419.4" font-size="11">42 replicates: <tspan font-style="italic">Y</tspan><tspan font-size="7.5" dy="2.5">rgk,in/out</tspan><tspan dy="-2.5">, </tspan><tspan font-style="italic">f</tspan><tspan font-size="7.5" dy="2.5">z,r</tspan></text>
<text x="285.5" y="419.4" font-size="11" fill="#6d6d6d">Fit technical parameters</text>
<text x="522.0" y="419.4" font-size="11" fill="#e0676a">Fit biological parameters</text>
<rect x="30.7" y="431.7" width="145.6" height="266.2" fill="none" stroke="#9a9a9a" stroke-width="1"/>
<rect x="208.5" y="432.0" width="271.8" height="196.5" fill="none" stroke="#9a9a9a" stroke-width="1"/>
<line x1="303.4" y1="432.0" x2="303.4" y2="628.5" stroke="#9a9a9a" stroke-width="1"/>
<rect x="208.5" y="628.5" width="271.8" height="81.3" fill="none" stroke="#9a9a9a" stroke-width="1"/>
<rect x="512.3" y="431.3" width="142.3" height="262.4" fill="none" stroke="#eba4a4" stroke-width="1.1"/>
<line x1="181.6" y1="564.7" x2="201.5" y2="564.7" stroke="#4a5a78" stroke-width="1"/>
<path d="M204.5,564.7 L199.5,562.5 L199.5,566.9000000000001 Z" fill="#4a5a78"/>
<line x1="484.3" y1="564.7" x2="504.6" y2="564.7" stroke="#4a5a78" stroke-width="1"/>
<path d="M507.6,564.7 L502.6,562.5 L502.6,566.9000000000001 Z" fill="#4a5a78"/>
<text x="106.5" y="453.5" font-size="11" text-anchor="middle">Raw TIS counts for</text>
<text x="107.5" y="465.9" font-size="11" text-anchor="middle">gene <tspan font-style="italic">g</tspan> across all</text>
<text x="107.7" y="478.3" font-size="11" text-anchor="middle">sub-libraries</text>
<rect x="61.0" y="499.4" width="8.6" height="8.2" fill="#404040"/>
<text x="74.6" y="507.1" font-size="10.5">Input</text>
<rect x="113.0" y="499.4" width="8.6" height="8.2" fill="#d9676b"/>
<text x="126.7" y="507.1" font-size="10.5">Output</text>
<rect x="76.4" y="518.8" width="67.0" height="18.6" fill="none" stroke="#555" stroke-width="0.8"/>
<line x1="74.2" y1="518.8" x2="76.4" y2="518.8" stroke="#555" stroke-width="0.8"/>
<line x1="74.2" y1="537.4" x2="76.4" y2="537.4" stroke="#555" stroke-width="0.8"/>
<text x="70.5" y="524.9" font-size="10" text-anchor="end">5,000</text>
<text x="70.5" y="539.6" font-size="10" text-anchor="end">0</text>
<text x="147.1" y="530.8" font-size="10">19</text>
<rect x="76.4" y="543.3" width="67.0" height="18.6" fill="none" stroke="#555" stroke-width="0.8"/>
<line x1="74.2" y1="543.3" x2="76.4" y2="543.3" stroke="#555" stroke-width="0.8"/>
<line x1="74.2" y1="561.9" x2="76.4" y2="561.9" stroke="#555" stroke-width="0.8"/>
<text x="70.5" y="549.4" font-size="10" text-anchor="end">5,000</text>
<text x="70.5" y="564.1" font-size="10" text-anchor="end">0</text>
<text x="147.1" y="555.3" font-size="10">23</text>
<rect x="76.4" y="567.4" width="67.0" height="18.6" fill="none" stroke="#555" stroke-width="0.8"/>
<line x1="74.2" y1="567.4" x2="76.4" y2="567.4" stroke="#555" stroke-width="0.8"/>
<line x1="74.2" y1="586.0" x2="76.4" y2="586.0" stroke="#555" stroke-width="0.8"/>
<text x="70.5" y="573.5" font-size="10" text-anchor="end">5,000</text>
<text x="70.5" y="588.2" font-size="10" text-anchor="end">0</text>
<text x="147.1" y="579.4" font-size="10">31</text>
<rect x="76.4" y="591.5" width="67.0" height="18.6" fill="none" stroke="#555" stroke-width="0.8"/>
<line x1="74.2" y1="591.5" x2="76.4" y2="591.5" stroke="#555" stroke-width="0.8"/>
<line x1="74.2" y1="610.1" x2="76.4" y2="610.1" stroke="#555" stroke-width="0.8"/>
<text x="70.5" y="597.6" font-size="10" text-anchor="end">5,000</text>
<text x="70.5" y="612.3" font-size="10" text-anchor="end">0</text>
<text x="147.1" y="603.5" font-size="10">35</text>
<rect x="76.4" y="615.5" width="67.0" height="18.6" fill="none" stroke="#555" stroke-width="0.8"/>
<line x1="74.2" y1="615.5" x2="76.4" y2="615.5" stroke="#555" stroke-width="0.8"/>
<line x1="74.2" y1="634.1" x2="76.4" y2="634.1" stroke="#555" stroke-width="0.8"/>
<text x="70.5" y="621.6" font-size="10" text-anchor="end">5,000</text>
<text x="70.5" y="636.3" font-size="10" text-anchor="end">0</text>
<text x="147.1" y="627.5" font-size="10">39</text>
<rect x="76.4" y="639.6" width="67.0" height="18.6" fill="none" stroke="#555" stroke-width="0.8"/>
<line x1="74.2" y1="639.6" x2="76.4" y2="639.6" stroke="#555" stroke-width="0.8"/>
<line x1="74.2" y1="658.2" x2="76.4" y2="658.2" stroke="#555" stroke-width="0.8"/>
<text x="70.5" y="645.7" font-size="10" text-anchor="end">5,000</text>
<text x="70.5" y="660.4" font-size="10" text-anchor="end">0</text>
<text x="147.1" y="651.6" font-size="10">41</text>
<rect x="124.6" y="523.1" width="4.0" height="14.3" fill="#3d3d3d"/>
<rect x="124.6" y="534.2" width="4.0" height="3.2" fill="#d9676b"/>
<rect x="95.0" y="546.6" width="4.0" height="15.3" fill="#3d3d3d"/>
<rect x="95.0" y="559.9" width="4.0" height="2.0" fill="#d9676b"/>
<rect x="125.9" y="550.0" width="4.0" height="11.9" fill="#3d3d3d"/>
<rect x="125.9" y="559.9" width="4.0" height="2.0" fill="#d9676b"/>
<rect x="132.0" y="571.3" width="4.0" height="14.7" fill="#3d3d3d"/>
<rect x="132.0" y="582.9" width="4.0" height="3.1" fill="#d9676b"/>
<rect x="110.1" y="598.7" width="4.0" height="11.4" fill="#d9676b"/>
<rect x="99.0" y="615.5" width="4.0" height="18.6" fill="#3d3d3d"/>
<rect x="99.0" y="632.0" width="4.0" height="2.1" fill="#d9676b"/>
<rect x="113.6" y="649.0" width="4.0" height="9.2" fill="#3d3d3d"/>
<rect x="113.6" y="656.7" width="4.0" height="1.5" fill="#d9676b"/>
<text x="42.5" y="591.2" font-size="10.7" text-anchor="middle" transform="rotate(-90 42.5 591.2)">Counts</text>
<text x="161.4" y="591.2" font-size="10.7" text-anchor="middle" transform="rotate(90 161.4 591.2)">Sub-library</text>
<path d="M76,665.9 H124.2 V660 L142.1,669.2 L124.2,678.3 V672.5 H76 Z" fill="#dcdcdc"/>
<text x="110.0" y="685.9" font-size="11" text-anchor="middle">Gene <tspan font-style="italic">g</tspan></text>
<text x="258.1" y="453.3" font-size="11" text-anchor="middle">Normalization</text>
<text x="258.1" y="465.7" font-size="11" text-anchor="middle">between input–</text>
<text x="257.6" y="477.7" font-size="11" text-anchor="middle">output pairs</text>
<rect x="240.3" y="503.3" width="52.3" height="51.8" fill="none" stroke="#555" stroke-width="0.8"/>
<rect x="240.8" y="544.3" width="5.0" height="5.0" fill="#dd7377"/>
<rect x="246.2" y="544.3" width="5.0" height="5.0" fill="#d65a5f"/>
<rect x="240.8" y="549.8" width="5.0" height="5.0" fill="#d65a5f"/>
<rect x="246.2" y="549.8" width="5.0" height="5.0" fill="#dd7377"/>
<rect x="252.0" y="533.0" width="5.0" height="5.0" fill="#eca7a8"/>
<rect x="257.4" y="533.0" width="5.0" height="5.0" fill="#d65a5f"/>
<rect x="252.0" y="538.5" width="5.0" height="5.0" fill="#d65a5f"/>
<rect x="257.4" y="538.5" width="5.0" height="5.0" fill="#eca7a8"/>
<rect x="269.2" y="515.7" width="5.0" height="5.0" fill="#eca7a8"/>
<rect x="274.6" y="515.7" width="5.0" height="5.0" fill="#d65a5f"/>
<rect x="269.2" y="521.2" width="5.0" height="5.0" fill="#d65a5f"/>
<rect x="274.6" y="521.2" width="5.0" height="5.0" fill="#eca7a8"/>
<rect x="280.5" y="504.2" width="5.0" height="5.0" fill="#eca7a8"/>
<rect x="285.9" y="504.2" width="5.0" height="5.0" fill="#d65a5f"/>
<rect x="280.5" y="509.6" width="5.0" height="5.0" fill="#d65a5f"/>
<rect x="285.9" y="509.6" width="5.0" height="5.0" fill="#eca7a8"/>
<line x1="237.4" y1="512.2" x2="240.3" y2="512.2" stroke="#555" stroke-width="0.8"/>
<text x="234.9" y="514.7" font-size="10" text-anchor="end">43</text>
<line x1="237.4" y1="524.2" x2="240.3" y2="524.2" stroke="#555" stroke-width="0.8"/>
<text x="234.9" y="526.7" font-size="10" text-anchor="end">42</text>
<line x1="237.4" y1="541.0" x2="240.3" y2="541.0" stroke="#555" stroke-width="0.8"/>
<text x="234.9" y="543.5" font-size="10" text-anchor="end">2</text>
<line x1="237.4" y1="552.7" x2="240.3" y2="552.7" stroke="#555" stroke-width="0.8"/>
<text x="234.9" y="555.2" font-size="10" text-anchor="end">1</text>
<line x1="243.4" y1="555.1" x2="243.4" y2="557.3" stroke="#555" stroke-width="0.8"/>
<text x="243.4" y="567.6" font-size="10" text-anchor="middle">1</text>
<line x1="254.6" y1="555.1" x2="254.6" y2="557.3" stroke="#555" stroke-width="0.8"/>
<text x="254.6" y="567.6" font-size="10" text-anchor="middle">2</text>
<line x1="272.2" y1="555.1" x2="272.2" y2="557.3" stroke="#555" stroke-width="0.8"/>
<text x="272.2" y="567.6" font-size="10" text-anchor="middle">42</text>
<line x1="283.8" y1="555.1" x2="283.8" y2="557.3" stroke="#555" stroke-width="0.8"/>
<text x="283.8" y="567.6" font-size="10" text-anchor="middle">43</text>
<text x="266.0" y="581.8" font-size="11" text-anchor="middle">Sub-library</text>
<text x="219.4" y="529.1" font-size="11" text-anchor="middle" transform="rotate(-90 219.4 529.1)">Sub-library</text>
<text x="391.8" y="453.4" font-size="11" text-anchor="middle">Stochastic mutant loss</text>
<rect x="340.8" y="466.6" width="42.4" height="32.7" fill="none" stroke="#444" stroke-width="0.8"/>
<line x1="338.2" y1="467.2" x2="340.8" y2="467.2" stroke="#444" stroke-width="0.8"/>
<text x="333.8" y="470.2" font-size="10" text-anchor="end">1.0</text>
<line x1="338.2" y1="483.0" x2="340.8" y2="483.0" stroke="#444" stroke-width="0.8"/>
<text x="333.8" y="486.0" font-size="10" text-anchor="end">0.5</text>
<line x1="338.2" y1="498.7" x2="340.8" y2="498.7" stroke="#444" stroke-width="0.8"/>
<text x="333.8" y="501.7" font-size="10" text-anchor="end">0</text>
<line x1="351.4" y1="499.3" x2="351.4" y2="501.5" stroke="#444" stroke-width="0.7"/>
<line x1="362.0" y1="499.3" x2="362.0" y2="501.5" stroke="#444" stroke-width="0.7"/>
<line x1="372.6" y1="499.3" x2="372.6" y2="501.5" stroke="#444" stroke-width="0.7"/>
<text x="316.1" y="483.7" font-size="10.5" text-anchor="middle" transform="rotate(-90 316.1 483.7)">Dropout</text>
<rect x="432.3" y="467.2" width="43.0" height="32.1" fill="none" stroke="#444" stroke-width="0.8"/>
<line x1="429.7" y1="467.8" x2="432.3" y2="467.8" stroke="#444" stroke-width="0.8"/>
<text x="427.6" y="470.8" font-size="10" text-anchor="end">1.0</text>
<line x1="429.7" y1="483.2" x2="432.3" y2="483.2" stroke="#444" stroke-width="0.8"/>
<text x="427.6" y="486.2" font-size="10" text-anchor="end">0.5</text>
<line x1="429.7" y1="498.7" x2="432.3" y2="498.7" stroke="#444" stroke-width="0.8"/>
<text x="427.6" y="501.7" font-size="10" text-anchor="end">0</text>
<line x1="435.2" y1="499.3" x2="435.2" y2="501.5" stroke="#444" stroke-width="0.7"/>
<line x1="438.0" y1="499.3" x2="438.0" y2="501.5" stroke="#444" stroke-width="0.7"/>
<line x1="440.9" y1="499.3" x2="440.9" y2="501.5" stroke="#444" stroke-width="0.7"/>
<line x1="443.8" y1="499.3" x2="443.8" y2="501.5" stroke="#444" stroke-width="0.7"/>
<line x1="446.6" y1="499.3" x2="446.6" y2="501.5" stroke="#444" stroke-width="0.7"/>
<line x1="449.5" y1="499.3" x2="449.5" y2="501.5" stroke="#444" stroke-width="0.7"/>
<line x1="452.4" y1="499.3" x2="452.4" y2="501.5" stroke="#444" stroke-width="0.7"/>
<line x1="455.2" y1="499.3" x2="455.2" y2="501.5" stroke="#444" stroke-width="0.7"/>
<line x1="458.1" y1="499.3" x2="458.1" y2="501.5" stroke="#444" stroke-width="0.7"/>
<line x1="461.0" y1="499.3" x2="461.0" y2="501.5" stroke="#444" stroke-width="0.7"/>
<line x1="463.8" y1="499.3" x2="463.8" y2="501.5" stroke="#444" stroke-width="0.7"/>
<line x1="466.7" y1="499.3" x2="466.7" y2="501.5" stroke="#444" stroke-width="0.7"/>
<line x1="469.6" y1="499.3" x2="469.6" y2="501.5" stroke="#444" stroke-width="0.7"/>
<line x1="472.4" y1="499.3" x2="472.4" y2="501.5" stroke="#444" stroke-width="0.7"/>
<text x="407.8" y="483.9" font-size="10.5" text-anchor="middle" transform="rotate(-90 407.8 483.9)">Dropout</text>
<circle cx="343.5" cy="467.1" r="1.6" fill="#8e5aa8"/>
<circle cx="346.2" cy="467.9" r="1.6" fill="#8e5aa8"/>
<circle cx="348.9" cy="468.7" r="1.6" fill="#8e5aa8"/>
<circle cx="351.6" cy="469.8" r="1.6" fill="#8e5aa8"/>
<circle cx="354.3" cy="470.6" r="1.6" fill="#8e5aa8"/>
<circle cx="357.0" cy="472.2" r="1.6" fill="#8e5aa8"/>
<circle cx="359.7" cy="472.6" r="1.6" fill="#8e5aa8"/>
<circle cx="362.4" cy="475.1" r="1.6" fill="#8e5aa8"/>
<circle cx="365.1" cy="477.9" r="1.6" fill="#8e5aa8"/>
<circle cx="367.8" cy="480.0" r="1.6" fill="#8e5aa8"/>
<circle cx="370.5" cy="482.9" r="1.6" fill="#8e5aa8"/>
<circle cx="373.2" cy="484.5" r="1.6" fill="#8e5aa8"/>
<circle cx="375.9" cy="487.5" r="1.6" fill="#8e5aa8"/>
<circle cx="378.6" cy="489.6" r="1.6" fill="#8e5aa8"/>
<circle cx="381.3" cy="491.9" r="1.6" fill="#8e5aa8"/>
<polyline points="342.3,468.1 343.3,468.3 344.2,468.5 345.2,468.8 346.2,469.0 347.2,469.3 348.2,469.6 349.1,469.9 350.1,470.2 351.1,470.5 352.1,470.9 353.0,471.2 354.0,471.6 355.0,472.1 355.9,472.6 356.9,473.1 357.9,473.6 358.9,474.2 359.9,474.8 360.8,475.4 361.8,476.1 362.8,476.9 363.8,477.7 364.7,478.5 365.7,479.3 366.7,480.2 367.7,481.1 368.6,482.0 369.6,483.0 370.6,483.9 371.6,484.9 372.5,485.8 373.5,486.8 374.5,487.7 375.4,488.6 376.4,489.5 377.4,490.3 378.4,491.2 379.4,491.9 380.3,492.7 381.3,493.3" fill="none" stroke="#111" stroke-width="1.7"/>
<circle cx="452.3" cy="488.1" r="1.55" fill="#d9676b"/>
<circle cx="439.8" cy="478.4" r="1.55" fill="#d9676b"/>
<circle cx="434.7" cy="483.2" r="1.55" fill="#d9676b"/>
<circle cx="469.1" cy="495.3" r="1.55" fill="#d9676b"/>
<circle cx="455.8" cy="484.9" r="1.55" fill="#d9676b"/>
<circle cx="436.1" cy="485.4" r="1.55" fill="#d9676b"/>
<circle cx="461.6" cy="488.3" r="1.55" fill="#d9676b"/>
<circle cx="462.4" cy="493.0" r="1.55" fill="#d9676b"/>
<circle cx="443.7" cy="490.7" r="1.55" fill="#d9676b"/>
<circle cx="454.0" cy="479.8" r="1.55" fill="#d9676b"/>
<circle cx="457.2" cy="482.7" r="1.55" fill="#d9676b"/>
<circle cx="449.3" cy="481.8" r="1.55" fill="#d9676b"/>
<circle cx="438.4" cy="487.1" r="1.55" fill="#d9676b"/>
<circle cx="460.5" cy="483.9" r="1.55" fill="#d9676b"/>
<circle cx="450.7" cy="492.2" r="1.55" fill="#d9676b"/>
<circle cx="444.8" cy="489.4" r="1.55" fill="#d9676b"/>
<circle cx="445.3" cy="480.2" r="1.55" fill="#d9676b"/>
<circle cx="442.2" cy="478.5" r="1.55" fill="#d9676b"/>
<circle cx="468.4" cy="495.6" r="1.55" fill="#d9676b"/>
<circle cx="449.1" cy="485.7" r="1.55" fill="#d9676b"/>
<circle cx="435.4" cy="484.6" r="1.55" fill="#d9676b"/>
<circle cx="469.4" cy="494.8" r="1.55" fill="#d9676b"/>
<circle cx="457.5" cy="492.8" r="1.55" fill="#d9676b"/>
<circle cx="456.8" cy="480.7" r="1.55" fill="#d9676b"/>
<circle cx="442.3" cy="492.1" r="1.55" fill="#d9676b"/>
<circle cx="437.7" cy="483.2" r="1.55" fill="#d9676b"/>
<circle cx="435.2" cy="489.8" r="1.55" fill="#d9676b"/>
<circle cx="453.6" cy="479.8" r="1.55" fill="#d9676b"/>
<circle cx="450.7" cy="487.4" r="1.55" fill="#d9676b"/>
<circle cx="459.1" cy="493.5" r="1.55" fill="#d9676b"/>
<circle cx="456.8" cy="491.9" r="1.55" fill="#d9676b"/>
<circle cx="457.9" cy="479.9" r="1.55" fill="#d9676b"/>
<circle cx="436.6" cy="482.7" r="1.55" fill="#d9676b"/>
<circle cx="457.8" cy="492.4" r="1.55" fill="#d9676b"/>
<circle cx="444.8" cy="477.3" r="1.55" fill="#d9676b"/>
<circle cx="472.9" cy="495.3" r="1.55" fill="#d9676b"/>
<circle cx="461.7" cy="480.6" r="1.55" fill="#d9676b"/>
<circle cx="443.6" cy="483.0" r="1.55" fill="#d9676b"/>
<circle cx="436.2" cy="485.6" r="1.55" fill="#d9676b"/>
<circle cx="460.5" cy="486.0" r="1.55" fill="#d9676b"/>
<circle cx="464.3" cy="494.4" r="1.55" fill="#d9676b"/>
<circle cx="447.9" cy="479.8" r="1.55" fill="#d9676b"/>
<circle cx="457.0" cy="487.6" r="1.55" fill="#d9676b"/>
<circle cx="450.0" cy="478.2" r="1.55" fill="#d9676b"/>
<circle cx="456.6" cy="494.2" r="1.55" fill="#d9676b"/>
<circle cx="465.3" cy="490.8" r="1.55" fill="#d9676b"/>
<line x1="433.5" y1="486.3" x2="474.0" y2="486.3" stroke="#e08a8c" stroke-width="0.9" stroke-dasharray="2.5,1.5"/>
<text x="357.9" y="515.9" font-size="11" text-anchor="middle">log-abundance</text>
<text x="452.0" y="515.9" font-size="11" text-anchor="middle">Sub-library</text>
<text x="341.0" y="531.7" font-size="11">α<tspan font-size="7.5" dy="2.5">rgk,in</tspan></text>
<text x="418.7" y="531.7" font-size="11">f<tspan font-size="7.5" dy="2.5">z,r</tspan></text>
<line x1="374.3" y1="520.7" x2="382.7" y2="532.7" stroke="#4a5a78" stroke-width="1"/>
<path d="M384.8,535.6 L380.6,533.1 L383.8,530.8 Z" fill="#4a5a78"/>
<line x1="413.7" y1="520.7" x2="404.8" y2="532.7" stroke="#4a5a78" stroke-width="1"/>
<path d="M402.6,535.6 L403.7,530.8 L406.9,533.2 Z" fill="#4a5a78"/>
<rect x="336.0" y="549.1" width="18.6" height="5.5" fill="#f2c318" rx="2.75"/>
<rect x="321.6" y="557.7" width="18.6" height="5.5" fill="#c9393e" rx="2.75"/>
<rect x="346.6" y="561.6" width="18.6" height="5.5" fill="#7ba3d5" rx="2.75"/>
<rect x="332.7" y="572.7" width="18.6" height="5.5" fill="#c9393e" rx="2.75"/>
<rect x="356.3" y="574.4" width="18.6" height="5.5" fill="#7ba3d5" rx="2.75"/>
<rect x="318.3" y="581.3" width="18.6" height="5.5" fill="#7fcfa4" rx="2.75"/>
<rect x="343.6" y="585.5" width="18.6" height="5.5" fill="#1f4e8a" rx="2.75"/>
<rect x="367.1" y="587.4" width="18.6" height="5.5" fill="#7ba3d5" rx="2.75"/>
<rect x="327.7" y="596.6" width="18.6" height="5.5" fill="#c9393e" rx="2.75"/>
<rect x="354.1" y="598.8" width="18.6" height="5.5" fill="#c9393e" rx="2.75"/>
<rect x="339.4" y="608.2" width="18.6" height="5.5" fill="#f2c318" rx="2.75"/>
<rect x="364.4" y="612.4" width="18.6" height="5.5" fill="#c9393e" rx="2.75"/>
<rect x="422.6" y="548.3" width="18.6" height="5.5" fill="#c9393e" rx="2.75"/>
<rect x="407.6" y="557.2" width="18.6" height="5.5" fill="#c9393e" rx="2.75"/>
<rect x="433.1" y="561.1" width="18.6" height="5.5" fill="#7ba3d5" rx="2.75"/>
<rect x="419.3" y="572.2" width="18.6" height="5.5" fill="#c9393e" rx="2.75"/>
<rect x="442.9" y="574.4" width="18.6" height="5.5" fill="#7ba3d5" rx="2.75"/>
<rect x="404.9" y="581.3" width="18.6" height="5.5" fill="#7ba3d5" rx="2.75"/>
<rect x="429.8" y="584.9" width="18.6" height="5.5" fill="#7ba3d5" rx="2.75"/>
<rect x="453.4" y="587.1" width="18.6" height="5.5" fill="#7ba3d5" rx="2.75"/>
<rect x="413.7" y="596.3" width="18.6" height="5.5" fill="#c9393e" rx="2.75"/>
<rect x="440.1" y="598.5" width="18.6" height="5.5" fill="#c9393e" rx="2.75"/>
<rect x="425.7" y="607.7" width="18.6" height="5.5" fill="#f2c318" rx="2.75"/>
<rect x="450.6" y="611.5" width="18.6" height="5.5" fill="#c9393e" rx="2.75"/>
<rect x="391.0" y="540.3" width="4.4" height="24.9" fill="#676767"/>
<rect x="391.0" y="598.5" width="4.4" height="25.0" fill="#676767"/>
<text x="387.0" y="585.3" font-size="11">f<tspan font-size="7.5" dy="2.5">z,r</tspan></text>
<line x1="393.2" y1="569.0" x2="393.2" y2="576.0" stroke="#666" stroke-width="0.5"/>
<line x1="393.2" y1="589.0" x2="393.2" y2="596.0" stroke="#666" stroke-width="0.5"/>
<path d="M393.2,567.5 l-1.2,2.2 h2.4z M393.2,597.5 l-1.2,-2.2 h2.4z" fill="#666"/>
<path d="M283,628.5 L326,628.5 L304.5,639.5 Z" fill="#8a8a8a"/>
<text x="284.3" y="655.1" font-size="11" text-anchor="middle">Normalized TIS counts</text>
<text x="284.0" y="667.7" font-size="11" text-anchor="middle">adjusted for abundance-</text>
<text x="284.6" y="680.5" font-size="11" text-anchor="middle">and replicate-dependent</text>
<text x="285.5" y="692.7" font-size="11" text-anchor="middle">stochastic loss</text>
<rect x="358.6" y="633.1" width="93.1" height="44.9" fill="none" stroke="#777" stroke-width="0.8"/>
<line x1="358.6" y1="678.0" x2="451.7" y2="678.0" stroke="#555" stroke-width="1.3"/>
<rect x="384.9" y="634.9" width="4.0" height="41.6" fill="#aaaaaa"/>
<rect x="389.9" y="645.8" width="4.0" height="30.7" fill="#555555"/>
<rect x="389.9" y="674.7" width="4.0" height="1.8" fill="#d9676b"/>
<rect x="406.1" y="645.8" width="4.0" height="30.7" fill="#999999"/>
<rect x="406.1" y="659.9" width="4.0" height="16.6" fill="#d9676b"/>
<rect x="410.5" y="643.6" width="4.0" height="32.9" fill="#cccccc"/>
<rect x="425.8" y="635.8" width="4.0" height="40.7" fill="#aaaaaa"/>
<rect x="425.8" y="673.0" width="4.0" height="3.5" fill="#d9676b"/>
<rect x="428.2" y="645.8" width="4.0" height="30.7" fill="#bbbbbb"/>
<rect x="435.9" y="649.6" width="4.0" height="26.9" fill="#555555"/>
<rect x="435.9" y="673.6" width="4.0" height="2.9" fill="#d9676b"/>
<path d="M358,686.8 H432 V680.9 L454.3,689.8 L432,698.8 V692.9 H358 Z" fill="#dcdcdc"/>
<text x="407.1" y="705.0" font-size="11" text-anchor="middle">Gene <tspan font-style="italic">g</tspan></text>
<text x="583.6" y="453.0" font-size="11" text-anchor="middle">Extraction of gene-wise</text>
<text x="583.6" y="465.6" font-size="11" text-anchor="middle">log<tspan font-size="7.5" dy="2.5">2</tspan><tspan dy="-2.5">FCs between</tspan></text>
<text x="583.6" y="478.1" font-size="11" text-anchor="middle">output and</text>
<text x="583.6" y="490.0" font-size="11" text-anchor="middle">input samples</text>
<text x="583.6" y="502.6" font-size="11" text-anchor="middle">adjusted for stochastic</text>
<text x="583.6" y="515.2" font-size="11" text-anchor="middle">mutant loss</text>
<text x="582.5" y="548.1" font-size="11" text-anchor="middle">Posterior distribution</text>
<rect x="551.4" y="555.2" width="67.3" height="64.2" fill="none" stroke="#444" stroke-width="0.8"/>
<line x1="549.0" y1="566.2" x2="551.4" y2="566.2" stroke="#444" stroke-width="0.8"/>
<text x="544.8" y="568.7" font-size="10" text-anchor="end">0.6</text>
<line x1="549.0" y1="583.2" x2="551.4" y2="583.2" stroke="#444" stroke-width="0.8"/>
<text x="544.8" y="585.7" font-size="10" text-anchor="end">0.4</text>
<line x1="549.0" y1="600.0" x2="551.4" y2="600.0" stroke="#444" stroke-width="0.8"/>
<text x="544.8" y="602.5" font-size="10" text-anchor="end">0.2</text>
<line x1="549.0" y1="616.6" x2="551.4" y2="616.6" stroke="#444" stroke-width="0.8"/>
<text x="544.8" y="619.1" font-size="10" text-anchor="end">0</text>
<line x1="551.9" y1="619.4" x2="551.9" y2="621.8" stroke="#444" stroke-width="0.8"/>
<text x="551.9" y="633.9" font-size="10" text-anchor="middle">−4</text>
<line x1="573.6" y1="619.4" x2="573.6" y2="621.8" stroke="#444" stroke-width="0.8"/>
<text x="573.6" y="633.9" font-size="10" text-anchor="middle">−2</text>
<line x1="594.6" y1="619.4" x2="594.6" y2="621.8" stroke="#444" stroke-width="0.8"/>
<text x="594.6" y="633.9" font-size="10" text-anchor="middle">0</text>
<line x1="615.6" y1="619.4" x2="615.6" y2="621.8" stroke="#444" stroke-width="0.8"/>
<text x="615.6" y="633.9" font-size="10" text-anchor="middle">2</text>
<path d="M556.4,616.4 L556.9,616.4 L557.4,616.3 L557.9,616.2 L558.4,616.0 L558.9,615.8 L559.4,615.6 L559.9,615.3 L560.4,614.9 L560.9,614.4 L561.4,613.8 L561.9,613.1 L562.4,612.3 L562.9,611.3 L563.4,610.1 L563.9,608.7 L564.4,607.1 L564.8,605.3 L565.3,603.3 L565.8,601.1 L566.3,598.6 L566.8,595.9 L567.3,593.0 L567.8,590.0 L568.3,586.8 L568.8,583.5 L569.3,580.2 L569.8,577.0 L570.3,573.8 L570.8,570.7 L571.3,567.8 L571.8,565.3 L572.3,563.0 L572.8,561.1 L573.3,559.7 L573.8,558.7 L574.2,558.3 L574.7,558.3 L575.2,558.6 L575.7,559.3 L576.2,560.3 L576.7,561.6 L577.2,563.1 L577.7,564.8 L578.2,566.7 L578.7,568.7 L579.2,570.8 L579.7,573.0 L580.2,575.3 L580.7,577.6 L581.2,579.9 L581.7,582.1 L582.2,584.4 L582.7,586.6 L583.2,588.7 L583.6,590.7 L584.1,592.7 L584.6,594.5 L585.1,596.3 L585.6,597.9 L586.1,599.5 L586.6,600.9 L587.1,602.3 L587.6,603.5 L588.1,604.7 L588.6,605.8 L589.1,606.7 L589.6,607.6 L590.1,608.4 L590.6,609.2 L591.1,609.9 L591.6,610.5 L592.1,611.0 L592.6,611.5 L593.0,612.0 L593.5,612.4 L594.0,612.7 L594.5,613.0 L595.0,613.3 L595.5,613.6 L596.0,613.8 L596.5,614.0 L597.0,614.2 L597.5,614.4 L598.0,614.5 L598.5,614.7 L599.0,614.8 L599.5,614.9 L600.0,615.0 L600.5,615.1 L601.0,615.2 L601.5,615.3 L601.9,615.4 L602.4,615.4 L602.9,615.5 L603.4,615.6 L603.9,615.7 L604.4,615.7 L604.9,615.8 L605.4,615.8 L605.9,615.9 L606.4,615.9 L606.9,616.0 L607.4,616.0 L607.9,616.1 L608.4,616.1 L608.9,616.2 L609.4,616.2 L609.9,616.3 L610.4,616.3 L610.9,616.3 L611.3,616.4 L611.8,616.4 L612.3,616.4 L612.8,616.4 L613.3,616.4 L613.8,616.5 L614.3,616.5 L614.8,616.5 L615.3,616.5 L615.8,616.5 L615.8,616.6 L556.4,616.6 Z" fill="#e9a9a9"/>
<line x1="594.6" y1="556.0" x2="594.6" y2="619.0" stroke="#555" stroke-width="1.3" stroke-dasharray="4,2.5"/>
<text x="585.0" y="647.0" font-size="11" text-anchor="middle">log<tspan font-size="7.5" dy="2.5">2</tspan><tspan dy="-2.5">FC</tspan></text>
<line x1="585.7" y1="654.0" x2="585.7" y2="666.0" stroke="#4a5a78" stroke-width="1"/>
<path d="M585.7,669.8 L583.5,664.8 L587.9,664.8 Z" fill="#4a5a78"/>
<text x="585.3" y="684.4" font-size="11" text-anchor="middle"><tspan font-style="italic">z</tspan> values, FDR</text>
<text x="-0.5" y="732.8" font-size="17.5" fill="#000" font-weight="bold" stroke="#000" stroke-width="0.9">e</text>
<circle cx="74.9" cy="733.1" r="3.2" fill="#cfcfcf"/>
<text x="84.1" y="737.8" font-size="10.5">CDS</text>
<circle cx="124.0" cy="733.1" r="3.2" fill="#fde7a9"/>
<text x="132.7" y="737.8" font-size="10.5">Pseudo</text>
<circle cx="188.2" cy="733.6" r="2.9" fill="#fff" stroke="#c1393f" stroke-width="1.2"/>
<text x="196.8" y="737.8" font-size="10.5">FDR≤0.1</text>
<circle cx="254.3" cy="733.6" r="2.9" fill="#fff" stroke="#eeaaaa" stroke-width="1.2"/>
<text x="262.9" y="737.8" font-size="10.5">FDR≤0.2</text>
<text x="75.4" y="758.3" font-size="11">Chromosome</text>
<line x1="70.4" y1="806.2" x2="305.6" y2="806.2" stroke="#555" stroke-width="1.1" stroke-dasharray="4,3"/>
<circle cx="149.2" cy="815.5" r="3.2" fill="#cfcfcf"/>
<circle cx="172.0" cy="819.5" r="3.2" fill="#cfcfcf"/>
<circle cx="216.2" cy="783.4" r="3.2" fill="#cfcfcf"/>
<circle cx="152.9" cy="794.7" r="3.2" fill="#cfcfcf"/>
<circle cx="252.7" cy="810.9" r="3.2" fill="#cfcfcf"/>
<circle cx="218.6" cy="789.1" r="3.2" fill="#cfcfcf"/>
<circle cx="198.5" cy="828.7" r="3.2" fill="#cfcfcf"/>
<circle cx="224.2" cy="783.3" r="3.2" fill="#cfcfcf"/>
<circle cx="239.2" cy="818.6" r="3.2" fill="#cfcfcf"/>
<circle cx="257.7" cy="810.7" r="3.2" fill="#cfcfcf"/>
<circle cx="176.3" cy="832.7" r="3.2" fill="#cfcfcf"/>
<circle cx="184.9" cy="841.7" r="3.2" fill="#cfcfcf"/>
<circle cx="275.0" cy="808.2" r="3.2" fill="#cfcfcf"/>
<circle cx="216.4" cy="799.2" r="3.2" fill="#cfcfcf"/>
<circle cx="195.8" cy="804.9" r="3.2" fill="#cfcfcf"/>
<circle cx="168.7" cy="818.2" r="3.2" fill="#cfcfcf"/>
<circle cx="209.1" cy="839.6" r="3.2" fill="#cfcfcf"/>
<circle cx="224.1" cy="789.9" r="3.2" fill="#cfcfcf"/>
<circle cx="231.5" cy="793.1" r="3.2" fill="#cfcfcf"/>
<circle cx="251.9" cy="817.4" r="3.2" fill="#cfcfcf"/>
<circle cx="179.0" cy="789.1" r="3.2" fill="#cfcfcf"/>
<circle cx="158.8" cy="830.5" r="3.2" fill="#cfcfcf"/>
<circle cx="214.3" cy="782.0" r="3.2" fill="#cfcfcf"/>
<circle cx="232.3" cy="801.2" r="3.2" fill="#cfcfcf"/>
<circle cx="211.8" cy="781.1" r="3.2" fill="#cfcfcf"/>
<circle cx="142.1" cy="806.3" r="3.2" fill="#cfcfcf"/>
<circle cx="213.6" cy="789.5" r="3.2" fill="#cfcfcf"/>
<circle cx="162.3" cy="843.2" r="3.2" fill="#cfcfcf"/>
<circle cx="263.1" cy="804.3" r="3.2" fill="#cfcfcf"/>
<circle cx="187.7" cy="813.8" r="3.2" fill="#cfcfcf"/>
<circle cx="219.4" cy="818.9" r="3.2" fill="#cfcfcf"/>
<circle cx="204.8" cy="820.5" r="3.2" fill="#cfcfcf"/>
<circle cx="270.7" cy="813.0" r="3.2" fill="#cfcfcf"/>
<circle cx="182.6" cy="827.3" r="3.2" fill="#cfcfcf"/>
<circle cx="149.1" cy="799.2" r="3.2" fill="#cfcfcf"/>
<circle cx="202.9" cy="779.8" r="3.2" fill="#cfcfcf"/>
<circle cx="179.8" cy="817.9" r="3.2" fill="#cfcfcf"/>
<circle cx="111.5" cy="820.3" r="3.2" fill="#cfcfcf"/>
<circle cx="217.4" cy="783.0" r="3.2" fill="#cfcfcf"/>
<circle cx="216.5" cy="810.2" r="3.2" fill="#cfcfcf"/>
<circle cx="225.5" cy="802.6" r="3.2" fill="#cfcfcf"/>
<circle cx="230.3" cy="828.4" r="3.2" fill="#cfcfcf"/>
<circle cx="151.4" cy="809.6" r="3.2" fill="#cfcfcf"/>
<circle cx="210.5" cy="800.4" r="3.2" fill="#cfcfcf"/>
<circle cx="171.0" cy="799.9" r="3.2" fill="#cfcfcf"/>
<circle cx="171.9" cy="818.9" r="3.2" fill="#cfcfcf"/>
<circle cx="160.0" cy="804.3" r="3.2" fill="#cfcfcf"/>
<circle cx="206.5" cy="828.3" r="3.2" fill="#cfcfcf"/>
<circle cx="161.6" cy="793.9" r="3.2" fill="#cfcfcf"/>
<circle cx="247.1" cy="795.0" r="3.2" fill="#cfcfcf"/>
<circle cx="140.4" cy="808.2" r="3.2" fill="#cfcfcf"/>
<circle cx="228.8" cy="785.8" r="3.2" fill="#cfcfcf"/>
<circle cx="163.7" cy="801.4" r="3.2" fill="#cfcfcf"/>
<circle cx="252.2" cy="808.4" r="3.2" fill="#cfcfcf"/>
<circle cx="256.0" cy="790.3" r="3.2" fill="#cfcfcf"/>
<circle cx="166.3" cy="822.6" r="3.2" fill="#cfcfcf"/>
<circle cx="261.1" cy="809.2" r="3.2" fill="#cfcfcf"/>
<circle cx="199.6" cy="791.8" r="3.2" fill="#cfcfcf"/>
<circle cx="139.8" cy="797.7" r="3.2" fill="#cfcfcf"/>
<circle cx="247.7" cy="822.0" r="3.2" fill="#cfcfcf"/>
<circle cx="247.5" cy="802.1" r="3.2" fill="#cfcfcf"/>
<circle cx="245.3" cy="797.2" r="3.2" fill="#cfcfcf"/>
<circle cx="167.9" cy="806.9" r="3.2" fill="#cfcfcf"/>
<circle cx="180.6" cy="806.4" r="3.2" fill="#cfcfcf"/>
<circle cx="183.1" cy="842.7" r="3.2" fill="#cfcfcf"/>
<circle cx="222.7" cy="813.8" r="3.2" fill="#cfcfcf"/>
<circle cx="158.0" cy="801.9" r="3.2" fill="#cfcfcf"/>
<circle cx="209.8" cy="798.2" r="3.2" fill="#cfcfcf"/>
<circle cx="137.7" cy="799.1" r="3.2" fill="#cfcfcf"/>
<circle cx="222.7" cy="814.2" r="3.2" fill="#cfcfcf"/>
<circle cx="179.6" cy="841.9" r="3.2" fill="#cfcfcf"/>
<circle cx="213.9" cy="801.9" r="3.2" fill="#cfcfcf"/>
<circle cx="151.7" cy="836.7" r="3.2" fill="#cfcfcf"/>
<circle cx="190.6" cy="831.4" r="3.2" fill="#cfcfcf"/>
<circle cx="168.9" cy="792.2" r="3.2" fill="#cfcfcf"/>
<circle cx="200.5" cy="833.7" r="3.2" fill="#cfcfcf"/>
<circle cx="137.6" cy="832.0" r="3.2" fill="#cfcfcf"/>
<circle cx="154.5" cy="814.3" r="3.2" fill="#cfcfcf"/>
<circle cx="181.2" cy="810.7" r="3.2" fill="#cfcfcf"/>
<circle cx="122.9" cy="812.6" r="3.2" fill="#cfcfcf"/>
<circle cx="162.7" cy="800.1" r="3.2" fill="#cfcfcf"/>
<circle cx="168.8" cy="822.3" r="3.2" fill="#cfcfcf"/>
<circle cx="209.5" cy="803.2" r="3.2" fill="#cfcfcf"/>
<circle cx="141.1" cy="801.0" r="3.2" fill="#cfcfcf"/>
<circle cx="129.4" cy="816.2" r="3.2" fill="#cfcfcf"/>
<circle cx="231.9" cy="804.5" r="3.2" fill="#cfcfcf"/>
<circle cx="172.6" cy="819.5" r="3.2" fill="#cfcfcf"/>
<circle cx="243.4" cy="804.5" r="3.2" fill="#cfcfcf"/>
<circle cx="246.6" cy="820.7" r="3.2" fill="#cfcfcf"/>
<circle cx="182.7" cy="804.0" r="3.2" fill="#cfcfcf"/>
<circle cx="193.8" cy="826.1" r="3.2" fill="#cfcfcf"/>
<circle cx="180.7" cy="825.5" r="3.2" fill="#cfcfcf"/>
<circle cx="187.7" cy="795.4" r="3.2" fill="#cfcfcf"/>
<circle cx="200.7" cy="825.6" r="3.2" fill="#cfcfcf"/>
<circle cx="181.7" cy="837.9" r="3.2" fill="#cfcfcf"/>
<circle cx="270.0" cy="804.1" r="3.2" fill="#cfcfcf"/>
<circle cx="153.4" cy="810.1" r="3.2" fill="#cfcfcf"/>
<circle cx="245.1" cy="823.7" r="3.2" fill="#cfcfcf"/>
<circle cx="234.9" cy="816.8" r="3.2" fill="#cfcfcf"/>
<circle cx="125.8" cy="818.4" r="3.2" fill="#cfcfcf"/>
<circle cx="260.3" cy="791.0" r="3.2" fill="#cfcfcf"/>
<circle cx="240.8" cy="813.3" r="3.2" fill="#cfcfcf"/>
<circle cx="231.7" cy="786.2" r="3.2" fill="#cfcfcf"/>
<circle cx="205.6" cy="834.5" r="3.2" fill="#cfcfcf"/>
<circle cx="149.9" cy="791.0" r="3.2" fill="#cfcfcf"/>
<circle cx="151.2" cy="820.3" r="3.2" fill="#cfcfcf"/>
<circle cx="238.4" cy="805.4" r="3.2" fill="#cfcfcf"/>
<circle cx="171.6" cy="805.6" r="3.2" fill="#cfcfcf"/>
<circle cx="168.6" cy="807.0" r="3.2" fill="#cfcfcf"/>
<circle cx="122.4" cy="812.5" r="3.2" fill="#cfcfcf"/>
<circle cx="276.3" cy="806.7" r="3.2" fill="#cfcfcf"/>
<circle cx="237.3" cy="789.8" r="3.2" fill="#cfcfcf"/>
<circle cx="227.5" cy="829.7" r="3.2" fill="#cfcfcf"/>
<circle cx="224.6" cy="813.6" r="3.2" fill="#cfcfcf"/>
<circle cx="191.7" cy="822.1" r="3.2" fill="#cfcfcf"/>
<circle cx="266.6" cy="813.7" r="3.2" fill="#cfcfcf"/>
<circle cx="184.6" cy="827.2" r="3.2" fill="#cfcfcf"/>
<circle cx="140.2" cy="796.9" r="3.2" fill="#cfcfcf"/>
<circle cx="142.5" cy="818.2" r="3.2" fill="#cfcfcf"/>
<circle cx="162.5" cy="794.6" r="3.2" fill="#cfcfcf"/>
<circle cx="159.2" cy="826.3" r="3.2" fill="#cfcfcf"/>
<circle cx="179.5" cy="836.2" r="3.2" fill="#cfcfcf"/>
<circle cx="209.1" cy="796.9" r="3.2" fill="#cfcfcf"/>
<circle cx="191.0" cy="804.6" r="3.2" fill="#cfcfcf"/>
<circle cx="137.8" cy="803.2" r="3.2" fill="#cfcfcf"/>
<circle cx="163.7" cy="830.9" r="3.2" fill="#cfcfcf"/>
<circle cx="191.0" cy="819.1" r="3.2" fill="#cfcfcf"/>
<circle cx="189.0" cy="834.9" r="3.2" fill="#cfcfcf"/>
<circle cx="250.1" cy="816.3" r="3.2" fill="#cfcfcf"/>
<circle cx="191.3" cy="827.3" r="3.2" fill="#cfcfcf"/>
<circle cx="256.2" cy="805.8" r="3.2" fill="#cfcfcf"/>
<circle cx="188.9" cy="794.4" r="3.2" fill="#cfcfcf"/>
<circle cx="148.6" cy="827.1" r="3.2" fill="#cfcfcf"/>
<circle cx="255.7" cy="795.2" r="3.2" fill="#cfcfcf"/>
<circle cx="140.8" cy="796.3" r="3.2" fill="#cfcfcf"/>
<circle cx="140.4" cy="826.2" r="3.2" fill="#cfcfcf"/>
<circle cx="152.1" cy="837.0" r="3.2" fill="#cfcfcf"/>
<circle cx="162.2" cy="807.4" r="3.2" fill="#cfcfcf"/>
<circle cx="234.1" cy="784.8" r="3.2" fill="#cfcfcf"/>
<circle cx="158.5" cy="802.9" r="3.2" fill="#cfcfcf"/>
<circle cx="208.4" cy="824.3" r="3.2" fill="#cfcfcf"/>
<circle cx="183.5" cy="811.6" r="3.2" fill="#cfcfcf"/>
<circle cx="144.3" cy="818.2" r="3.2" fill="#cfcfcf"/>
<circle cx="273.3" cy="805.2" r="3.2" fill="#cfcfcf"/>
<circle cx="202.2" cy="787.0" r="3.2" fill="#cfcfcf"/>
<circle cx="155.5" cy="823.6" r="3.2" fill="#cfcfcf"/>
<circle cx="270.8" cy="804.1" r="3.2" fill="#cfcfcf"/>
<circle cx="159.1" cy="824.3" r="3.2" fill="#cfcfcf"/>
<circle cx="221.2" cy="833.0" r="3.2" fill="#cfcfcf"/>
<circle cx="153.9" cy="829.5" r="3.2" fill="#cfcfcf"/>
<circle cx="200.8" cy="786.6" r="3.2" fill="#cfcfcf"/>
<circle cx="193.4" cy="802.6" r="3.2" fill="#cfcfcf"/>
<circle cx="232.2" cy="824.5" r="3.2" fill="#cfcfcf"/>
<circle cx="206.0" cy="791.2" r="3.2" fill="#cfcfcf"/>
<circle cx="219.7" cy="821.3" r="3.2" fill="#cfcfcf"/>
<circle cx="221.4" cy="787.2" r="3.2" fill="#cfcfcf"/>
<circle cx="165.4" cy="827.3" r="3.2" fill="#cfcfcf"/>
<circle cx="211.4" cy="816.2" r="3.2" fill="#cfcfcf"/>
<circle cx="220.0" cy="809.7" r="3.2" fill="#cfcfcf"/>
<circle cx="162.1" cy="790.8" r="3.2" fill="#cfcfcf"/>
<circle cx="238.5" cy="815.4" r="3.2" fill="#cfcfcf"/>
<circle cx="236.0" cy="803.1" r="3.2" fill="#cfcfcf"/>
<circle cx="154.0" cy="804.7" r="3.2" fill="#cfcfcf"/>
<circle cx="195.3" cy="795.6" r="3.2" fill="#cfcfcf"/>
<circle cx="241.0" cy="802.7" r="3.2" fill="#cfcfcf"/>
<circle cx="165.6" cy="806.0" r="3.2" fill="#cfcfcf"/>
<circle cx="201.7" cy="830.7" r="3.2" fill="#cfcfcf"/>
<circle cx="169.0" cy="835.7" r="3.2" fill="#cfcfcf"/>
<circle cx="180.1" cy="828.8" r="3.2" fill="#cfcfcf"/>
<circle cx="210.4" cy="788.8" r="3.2" fill="#cfcfcf"/>
<circle cx="176.9" cy="792.0" r="3.2" fill="#cfcfcf"/>
<circle cx="199.3" cy="817.1" r="3.2" fill="#cfcfcf"/>
<circle cx="143.0" cy="795.8" r="3.2" fill="#cfcfcf"/>
<circle cx="272.2" cy="804.7" r="3.2" fill="#cfcfcf"/>
<circle cx="203.6" cy="818.1" r="3.2" fill="#cfcfcf"/>
<circle cx="226.8" cy="799.1" r="3.2" fill="#cfcfcf"/>
<circle cx="256.8" cy="811.4" r="3.2" fill="#cfcfcf"/>
<circle cx="212.0" cy="827.7" r="3.2" fill="#cfcfcf"/>
<circle cx="222.5" cy="812.0" r="3.2" fill="#cfcfcf"/>
<circle cx="198.6" cy="809.9" r="3.2" fill="#cfcfcf"/>
<circle cx="141.5" cy="814.5" r="3.2" fill="#cfcfcf"/>
<circle cx="219.8" cy="808.8" r="3.2" fill="#cfcfcf"/>
<circle cx="245.1" cy="820.8" r="3.2" fill="#cfcfcf"/>
<circle cx="201.2" cy="841.3" r="3.2" fill="#cfcfcf"/>
<circle cx="163.9" cy="837.3" r="3.2" fill="#cfcfcf"/>
<circle cx="228.2" cy="788.0" r="3.2" fill="#cfcfcf"/>
<circle cx="256.5" cy="819.3" r="3.2" fill="#cfcfcf"/>
<circle cx="236.0" cy="802.0" r="3.2" fill="#cfcfcf"/>
<circle cx="257.0" cy="808.3" r="3.2" fill="#cfcfcf"/>
<circle cx="238.9" cy="811.5" r="3.2" fill="#cfcfcf"/>
<circle cx="135.8" cy="812.3" r="3.2" fill="#cfcfcf"/>
<circle cx="229.0" cy="815.0" r="3.2" fill="#cfcfcf"/>
<circle cx="181.0" cy="822.5" r="3.2" fill="#cfcfcf"/>
<circle cx="160.7" cy="810.1" r="3.2" fill="#cfcfcf"/>
<circle cx="239.0" cy="805.9" r="3.2" fill="#cfcfcf"/>
<circle cx="232.5" cy="803.6" r="3.2" fill="#cfcfcf"/>
<circle cx="172.2" cy="814.5" r="3.2" fill="#cfcfcf"/>
<circle cx="211.2" cy="794.0" r="3.2" fill="#cfcfcf"/>
<circle cx="243.5" cy="788.6" r="3.2" fill="#cfcfcf"/>
<circle cx="187.6" cy="792.1" r="3.2" fill="#cfcfcf"/>
<circle cx="177.8" cy="790.3" r="3.2" fill="#cfcfcf"/>
<circle cx="137.1" cy="811.8" r="3.2" fill="#cfcfcf"/>
<circle cx="185.5" cy="806.3" r="3.2" fill="#cfcfcf"/>
<circle cx="177.8" cy="805.6" r="3.2" fill="#cfcfcf"/>
<circle cx="190.1" cy="790.0" r="3.2" fill="#cfcfcf"/>
<circle cx="215.7" cy="802.2" r="3.2" fill="#cfcfcf"/>
<circle cx="233.9" cy="797.4" r="3.2" fill="#cfcfcf"/>
<circle cx="244.3" cy="810.2" r="3.2" fill="#cfcfcf"/>
<circle cx="269.4" cy="799.1" r="3.2" fill="#cfcfcf"/>
<circle cx="151.2" cy="796.8" r="3.2" fill="#cfcfcf"/>
<circle cx="248.9" cy="821.1" r="3.2" fill="#cfcfcf"/>
<circle cx="167.6" cy="785.3" r="3.2" fill="#cfcfcf"/>
<circle cx="117.3" cy="822.8" r="3.2" fill="#cfcfcf"/>
<circle cx="276.5" cy="811.0" r="3.2" fill="#cfcfcf"/>
<circle cx="160.7" cy="819.7" r="3.2" fill="#cfcfcf"/>
<circle cx="158.8" cy="835.9" r="3.2" fill="#cfcfcf"/>
<circle cx="165.8" cy="824.6" r="3.2" fill="#cfcfcf"/>
<circle cx="236.0" cy="828.2" r="3.2" fill="#cfcfcf"/>
<circle cx="252.6" cy="816.1" r="3.2" fill="#cfcfcf"/>
<circle cx="267.8" cy="803.3" r="3.2" fill="#cfcfcf"/>
<circle cx="179.7" cy="794.4" r="3.2" fill="#cfcfcf"/>
<circle cx="242.8" cy="811.2" r="3.2" fill="#cfcfcf"/>
<circle cx="154.6" cy="790.4" r="3.2" fill="#cfcfcf"/>
<circle cx="232.7" cy="819.6" r="3.2" fill="#cfcfcf"/>
<circle cx="230.9" cy="804.9" r="3.2" fill="#cfcfcf"/>
<circle cx="192.3" cy="789.3" r="3.2" fill="#cfcfcf"/>
<circle cx="188.8" cy="829.8" r="3.2" fill="#cfcfcf"/>
<circle cx="225.2" cy="785.5" r="3.2" fill="#cfcfcf"/>
<circle cx="149.0" cy="835.5" r="3.2" fill="#cfcfcf"/>
<circle cx="258.9" cy="809.1" r="3.2" fill="#cfcfcf"/>
<circle cx="165.7" cy="803.8" r="3.2" fill="#cfcfcf"/>
<circle cx="206.4" cy="786.4" r="3.2" fill="#cfcfcf"/>
<circle cx="122.0" cy="822.5" r="3.2" fill="#cfcfcf"/>
<circle cx="134.4" cy="822.2" r="3.2" fill="#cfcfcf"/>
<circle cx="146.1" cy="816.7" r="3.2" fill="#cfcfcf"/>
<circle cx="180.6" cy="831.3" r="3.2" fill="#cfcfcf"/>
<circle cx="212.6" cy="831.8" r="3.2" fill="#cfcfcf"/>
<circle cx="200.6" cy="791.6" r="3.2" fill="#cfcfcf"/>
<circle cx="250.8" cy="786.5" r="3.2" fill="#cfcfcf"/>
<circle cx="142.5" cy="838.9" r="3.2" fill="#cfcfcf"/>
<circle cx="122.8" cy="810.2" r="3.2" fill="#cfcfcf"/>
<circle cx="146.5" cy="834.6" r="3.2" fill="#cfcfcf"/>
<circle cx="214.5" cy="822.0" r="3.2" fill="#cfcfcf"/>
<circle cx="167.9" cy="819.4" r="3.2" fill="#cfcfcf"/>
<circle cx="185.1" cy="786.4" r="3.2" fill="#cfcfcf"/>
<circle cx="252.5" cy="818.8" r="3.2" fill="#cfcfcf"/>
<circle cx="249.0" cy="792.8" r="3.2" fill="#cfcfcf"/>
<circle cx="201.3" cy="810.1" r="3.2" fill="#cfcfcf"/>
<circle cx="233.9" cy="784.2" r="3.2" fill="#cfcfcf"/>
<circle cx="167.9" cy="811.5" r="3.2" fill="#cfcfcf"/>
<circle cx="120.4" cy="816.0" r="3.2" fill="#cfcfcf"/>
<circle cx="235.2" cy="807.3" r="3.2" fill="#cfcfcf"/>
<circle cx="220.2" cy="819.6" r="3.2" fill="#cfcfcf"/>
<circle cx="145.1" cy="802.5" r="3.2" fill="#cfcfcf"/>
<circle cx="182.5" cy="784.6" r="3.2" fill="#cfcfcf"/>
<circle cx="200.7" cy="807.1" r="3.2" fill="#cfcfcf"/>
<circle cx="272.3" cy="811.4" r="3.2" fill="#cfcfcf"/>
<circle cx="241.8" cy="806.3" r="3.2" fill="#cfcfcf"/>
<circle cx="158.5" cy="841.6" r="3.2" fill="#cfcfcf"/>
<circle cx="233.0" cy="798.7" r="3.2" fill="#cfcfcf"/>
<circle cx="197.9" cy="821.8" r="3.2" fill="#cfcfcf"/>
<circle cx="155.7" cy="808.0" r="3.2" fill="#cfcfcf"/>
<circle cx="167.6" cy="828.7" r="3.2" fill="#cfcfcf"/>
<circle cx="237.2" cy="798.2" r="3.2" fill="#cfcfcf"/>
<circle cx="179.1" cy="784.2" r="3.2" fill="#cfcfcf"/>
<circle cx="134.5" cy="830.1" r="3.2" fill="#cfcfcf"/>
<circle cx="172.5" cy="789.8" r="3.2" fill="#cfcfcf"/>
<circle cx="162.0" cy="810.0" r="3.2" fill="#cfcfcf"/>
<circle cx="199.0" cy="815.3" r="3.2" fill="#cfcfcf"/>
<circle cx="170.2" cy="836.1" r="3.2" fill="#cfcfcf"/>
<circle cx="157.3" cy="810.0" r="3.2" fill="#cfcfcf"/>
<circle cx="159.4" cy="795.3" r="3.2" fill="#cfcfcf"/>
<circle cx="130.7" cy="814.6" r="3.2" fill="#cfcfcf"/>
<circle cx="200.7" cy="790.1" r="3.2" fill="#cfcfcf"/>
<circle cx="241.2" cy="810.2" r="3.2" fill="#cfcfcf"/>
<circle cx="182.8" cy="801.7" r="3.2" fill="#cfcfcf"/>
<circle cx="116.9" cy="815.6" r="3.2" fill="#cfcfcf"/>
<circle cx="150.8" cy="832.7" r="3.2" fill="#cfcfcf"/>
<circle cx="180.4" cy="796.4" r="3.2" fill="#cfcfcf"/>
<circle cx="216.6" cy="824.2" r="3.2" fill="#cfcfcf"/>
<circle cx="196.0" cy="834.7" r="3.2" fill="#cfcfcf"/>
<circle cx="203.5" cy="797.7" r="3.2" fill="#cfcfcf"/>
<circle cx="264.8" cy="810.3" r="3.2" fill="#cfcfcf"/>
<circle cx="248.8" cy="819.4" r="3.2" fill="#cfcfcf"/>
<circle cx="179.7" cy="813.7" r="3.2" fill="#cfcfcf"/>
<circle cx="202.6" cy="806.3" r="3.2" fill="#cfcfcf"/>
<circle cx="168.9" cy="809.5" r="3.2" fill="#cfcfcf"/>
<circle cx="246.9" cy="809.3" r="3.2" fill="#cfcfcf"/>
<circle cx="162.5" cy="814.0" r="3.2" fill="#cfcfcf"/>
<circle cx="179.3" cy="836.0" r="3.2" fill="#cfcfcf"/>
<circle cx="214.0" cy="781.0" r="3.2" fill="#cfcfcf"/>
<circle cx="207.4" cy="815.8" r="3.2" fill="#cfcfcf"/>
<circle cx="192.4" cy="797.7" r="3.2" fill="#cfcfcf"/>
<circle cx="125.7" cy="823.8" r="3.2" fill="#cfcfcf"/>
<circle cx="172.2" cy="813.5" r="3.2" fill="#cfcfcf"/>
<circle cx="219.3" cy="792.1" r="3.2" fill="#cfcfcf"/>
<circle cx="174.3" cy="834.5" r="3.2" fill="#cfcfcf"/>
<circle cx="162.7" cy="797.1" r="3.2" fill="#cfcfcf"/>
<circle cx="162.9" cy="805.3" r="3.2" fill="#cfcfcf"/>
<circle cx="156.8" cy="787.8" r="3.2" fill="#cfcfcf"/>
<circle cx="80.5" cy="883.7" r="3.2" fill="#cfcfcf"/>
<circle cx="86.8" cy="898.4" r="3.2" fill="#cfcfcf"/>
<circle cx="92.8" cy="851.4" r="3.2" fill="#cfcfcf"/>
<circle cx="103.3" cy="842.3" r="3.2" fill="#cfcfcf"/>
<circle cx="101.5" cy="869.6" r="3.2" fill="#cfcfcf"/>
<circle cx="100.8" cy="875.6" r="3.2" fill="#cfcfcf"/>
<circle cx="106.1" cy="881.2" r="3.2" fill="#cfcfcf"/>
<circle cx="122.6" cy="845.1" r="3.2" fill="#cfcfcf"/>
<circle cx="129.6" cy="855.6" r="3.2" fill="#cfcfcf"/>
<circle cx="129.6" cy="862.6" r="3.2" fill="#cfcfcf"/>
<circle cx="143.6" cy="895.9" r="3.2" fill="#cfcfcf"/>
<circle cx="158.3" cy="898.4" r="3.2" fill="#cfcfcf"/>
<circle cx="115.5" cy="832.9" r="3.2" fill="#cfcfcf"/>
<circle cx="126.0" cy="827.6" r="3.2" fill="#cfcfcf"/>
<circle cx="116.2" cy="832.6" r="3.2" fill="#cfcfcf"/>
<circle cx="102.9" cy="842.8" r="3.2" fill="#cfcfcf"/>
<circle cx="96.8" cy="859.7" r="3.2" fill="#cfcfcf"/>
<circle cx="111.1" cy="848.9" r="3.2" fill="#cfcfcf"/>
<circle cx="129.5" cy="869.3" r="3.2" fill="#cfcfcf"/>
<circle cx="128.5" cy="837.7" r="3.2" fill="#cfcfcf"/>
<circle cx="121.3" cy="831.9" r="3.2" fill="#cfcfcf"/>
<circle cx="105.7" cy="880.8" r="3.2" fill="#cfcfcf"/>
<circle cx="79.4" cy="884.7" r="3.2" fill="#cfcfcf"/>
<circle cx="237.3" cy="777.2" r="3.2" fill="#cfcfcf"/>
<circle cx="182.0" cy="779.7" r="3.2" fill="#cfcfcf"/>
<circle cx="192.7" cy="779.7" r="3.2" fill="#cfcfcf"/>
<circle cx="205.5" cy="779.7" r="3.2" fill="#cfcfcf"/>
<circle cx="228.5" cy="783.3" r="3.2" fill="#cfcfcf"/>
<circle cx="268.9" cy="800.7" r="3.2" fill="#cfcfcf"/>
<circle cx="273.0" cy="803.7" r="3.2" fill="#cfcfcf"/>
<circle cx="280.2" cy="803.2" r="3.2" fill="#cfcfcf"/>
<circle cx="265.9" cy="803.7" r="3.2" fill="#cfcfcf"/>
<circle cx="194.4" cy="801.6" r="3.2" fill="#fde7a9"/>
<circle cx="157.4" cy="805.8" r="3.2" fill="#fde7a9"/>
<circle cx="252.8" cy="812.6" r="3.2" fill="#fde7a9"/>
<circle cx="235.7" cy="802.8" r="3.2" fill="#fde7a9"/>
<circle cx="210.1" cy="803.7" r="3.2" fill="#fde7a9"/>
<circle cx="242.8" cy="812.7" r="3.2" fill="#fde7a9"/>
<circle cx="239.7" cy="802.3" r="3.2" fill="#fde7a9"/>
<circle cx="184.7" cy="809.7" r="3.2" fill="#fde7a9"/>
<circle cx="232.0" cy="813.5" r="3.2" fill="#fde7a9"/>
<circle cx="248.6" cy="800.5" r="3.2" fill="#fde7a9"/>
<circle cx="217.9" cy="810.4" r="3.2" fill="#fde7a9"/>
<circle cx="206.7" cy="802.0" r="3.2" fill="#fde7a9"/>
<circle cx="203.0" cy="800.5" r="3.2" fill="#fde7a9"/>
<circle cx="211.3" cy="804.1" r="3.2" fill="#fde7a9"/>
<circle cx="251.8" cy="808.7" r="3.2" fill="#fde7a9"/>
<circle cx="206.9" cy="806.0" r="3.2" fill="#fde7a9"/>
<circle cx="217.1" cy="806.3" r="3.2" fill="#fde7a9"/>
<circle cx="168.1" cy="804.2" r="3.2" fill="#fde7a9"/>
<circle cx="155.2" cy="809.6" r="3.2" fill="#fde7a9"/>
<circle cx="181.4" cy="808.1" r="3.2" fill="#fde7a9"/>
<circle cx="202.8" cy="804.8" r="3.2" fill="#fde7a9"/>
<circle cx="261.7" cy="802.3" r="3.2" fill="#fde7a9"/>
<circle cx="196.2" cy="802.4" r="3.2" fill="#fde7a9"/>
<circle cx="220.9" cy="803.7" r="3.2" fill="#fde7a9"/>
<circle cx="189.9" cy="811.7" r="3.2" fill="#fde7a9"/>
<circle cx="185.9" cy="808.5" r="3.2" fill="#fde7a9"/>
<circle cx="235.7" cy="809.5" r="3.2" fill="#fde7a9"/>
<circle cx="176.6" cy="804.6" r="3.2" fill="#fde7a9"/>
<circle cx="169.9" cy="806.8" r="3.2" fill="#fde7a9"/>
<circle cx="154.8" cy="810.9" r="3.2" fill="#fde7a9"/>
<circle cx="152.0" cy="803.9" r="3.2" fill="#fde7a9"/>
<circle cx="196.0" cy="815.0" r="3.2" fill="#fde7a9"/>
<circle cx="219.5" cy="812.9" r="3.2" fill="#fde7a9"/>
<circle cx="182.9" cy="802.3" r="3.2" fill="#fde7a9"/>
<circle cx="199.7" cy="801.3" r="3.2" fill="#fde7a9"/>
<circle cx="192.7" cy="815.4" r="3.2" fill="#fde7a9"/>
<circle cx="237.8" cy="805.2" r="3.2" fill="#fde7a9"/>
<circle cx="182.5" cy="800.7" r="3.2" fill="#fde7a9"/>
<circle cx="260.0" cy="806.2" r="3.2" fill="#fde7a9"/>
<circle cx="225.8" cy="801.5" r="3.2" fill="#fde7a9"/>
<circle cx="154.6" cy="807.3" r="3.2" fill="#fde7a9"/>
<circle cx="163.7" cy="808.0" r="3.2" fill="#fde7a9"/>
<circle cx="236.7" cy="806.0" r="3.2" fill="#fde7a9"/>
<circle cx="260.6" cy="807.1" r="3.2" fill="#fde7a9"/>
<circle cx="177.1" cy="806.0" r="3.2" fill="#fde7a9"/>
<circle cx="154.1" cy="806.2" r="3.2" fill="#fde7a9"/>
<circle cx="177.8" cy="814.1" r="3.2" fill="#fde7a9"/>
<circle cx="243.1" cy="807.5" r="3.2" fill="#fde7a9"/>
<circle cx="177.1" cy="802.5" r="3.2" fill="#fde7a9"/>
<circle cx="175.9" cy="813.8" r="3.2" fill="#fde7a9"/>
<circle cx="253.9" cy="808.6" r="3.2" fill="#fde7a9"/>
<circle cx="260.9" cy="805.9" r="3.2" fill="#fde7a9"/>
<circle cx="250.9" cy="810.1" r="3.2" fill="#fde7a9"/>
<circle cx="238.6" cy="811.7" r="3.2" fill="#fde7a9"/>
<circle cx="205.4" cy="800.6" r="3.2" fill="#fde7a9"/>
<circle cx="173.6" cy="813.9" r="3.2" fill="#fde7a9"/>
<circle cx="187.7" cy="810.2" r="3.2" fill="#fde7a9"/>
<circle cx="239.5" cy="809.9" r="3.2" fill="#fde7a9"/>
<circle cx="241.3" cy="808.0" r="3.2" fill="#fde7a9"/>
<circle cx="223.3" cy="810.7" r="3.2" fill="#fde7a9"/>
<circle cx="180.0" cy="814.7" r="3.2" fill="#fde7a9"/>
<circle cx="224.9" cy="799.8" r="3.2" fill="#fde7a9"/>
<circle cx="250.7" cy="801.2" r="3.2" fill="#fde7a9"/>
<circle cx="258.5" cy="810.3" r="3.2" fill="#fde7a9"/>
<circle cx="221.1" cy="808.7" r="3.2" fill="#fde7a9"/>
<circle cx="233.6" cy="814.8" r="3.2" fill="#fde7a9"/>
<circle cx="248.2" cy="801.0" r="3.2" fill="#fde7a9"/>
<circle cx="240.7" cy="812.3" r="3.2" fill="#fde7a9"/>
<circle cx="248.3" cy="808.4" r="3.2" fill="#fde7a9"/>
<circle cx="248.4" cy="802.4" r="3.2" fill="#fde7a9"/>
<circle cx="225.2" cy="804.6" r="3.2" fill="#fde7a9"/>
<circle cx="249.9" cy="812.2" r="3.2" fill="#fde7a9"/>
<circle cx="202.8" cy="807.9" r="3.2" fill="#fde7a9"/>
<circle cx="216.6" cy="807.3" r="3.2" fill="#fde7a9"/>
<circle cx="246.8" cy="809.3" r="3.2" fill="#fde7a9"/>
<circle cx="165.5" cy="805.2" r="3.2" fill="#fde7a9"/>
<circle cx="236.0" cy="807.9" r="3.2" fill="#fde7a9"/>
<circle cx="242.7" cy="800.4" r="3.2" fill="#fde7a9"/>
<circle cx="210.9" cy="805.5" r="3.2" fill="#fde7a9"/>
<circle cx="238.2" cy="804.3" r="3.2" fill="#fde7a9"/>
<circle cx="176.2" cy="807.3" r="3.2" fill="#fde7a9"/>
<circle cx="162.8" cy="809.6" r="3.2" fill="#fde7a9"/>
<circle cx="249.2" cy="807.7" r="3.2" fill="#fde7a9"/>
<circle cx="198.6" cy="813.6" r="3.2" fill="#fde7a9"/>
<circle cx="237.0" cy="800.1" r="3.2" fill="#fde7a9"/>
<circle cx="248.7" cy="802.3" r="3.2" fill="#fde7a9"/>
<circle cx="183.9" cy="813.2" r="3.2" fill="#fde7a9"/>
<circle cx="197.3" cy="812.6" r="3.2" fill="#fde7a9"/>
<circle cx="168.7" cy="813.9" r="3.2" fill="#fde7a9"/>
<circle cx="205.4" cy="804.8" r="3.2" fill="#fde7a9"/>
<circle cx="210.7" cy="814.4" r="3.2" fill="#fde7a9"/>
<circle cx="184.9" cy="808.3" r="3.2" fill="#fde7a9"/>
<circle cx="204.5" cy="811.2" r="3.2" fill="#fde7a9"/>
<circle cx="204.2" cy="800.3" r="3.2" fill="#fde7a9"/>
<circle cx="177.5" cy="813.4" r="3.2" fill="#fde7a9"/>
<circle cx="190.0" cy="812.0" r="3.2" fill="#fde7a9"/>
<circle cx="260.4" cy="809.7" r="3.2" fill="#fde7a9"/>
<circle cx="225.8" cy="809.4" r="3.2" fill="#fde7a9"/>
<circle cx="185.1" cy="814.5" r="3.2" fill="#fde7a9"/>
<circle cx="202.3" cy="814.5" r="3.2" fill="#fde7a9"/>
<circle cx="184.2" cy="813.7" r="3.2" fill="#fde7a9"/>
<circle cx="238.1" cy="809.4" r="3.2" fill="#fde7a9"/>
<circle cx="199.5" cy="801.4" r="3.2" fill="#fde7a9"/>
<circle cx="236.4" cy="805.2" r="3.2" fill="#fde7a9"/>
<circle cx="224.2" cy="801.3" r="3.2" fill="#fde7a9"/>
<circle cx="240.6" cy="802.0" r="3.2" fill="#fde7a9"/>
<circle cx="251.0" cy="805.3" r="3.2" fill="#fde7a9"/>
<circle cx="214.5" cy="805.0" r="3.2" fill="#fde7a9"/>
<circle cx="219.5" cy="800.6" r="3.2" fill="#fde7a9"/>
<circle cx="195.1" cy="814.9" r="3.2" fill="#fde7a9"/>
<circle cx="170.1" cy="810.1" r="3.2" fill="#fde7a9"/>
<circle cx="186.6" cy="804.1" r="3.2" fill="#fde7a9"/>
<circle cx="239.7" cy="812.7" r="3.2" fill="#fde7a9"/>
<circle cx="256.8" cy="801.7" r="3.2" fill="#fde7a9"/>
<circle cx="215.4" cy="807.4" r="3.2" fill="#fde7a9"/>
<circle cx="214.3" cy="814.9" r="3.2" fill="#fde7a9"/>
<circle cx="163.1" cy="810.1" r="3.2" fill="#fde7a9"/>
<circle cx="225.6" cy="811.7" r="3.2" fill="#fde7a9"/>
<circle cx="219.2" cy="813.1" r="3.2" fill="#fde7a9"/>
<circle cx="183.9" cy="814.8" r="3.2" fill="#fde7a9"/>
<circle cx="131.7" cy="804.7" r="3.2" fill="#fde7a9"/>
<circle cx="118.9" cy="812.9" r="3.2" fill="#fde7a9"/>
<circle cx="136.3" cy="811.4" r="3.2" fill="#fde7a9"/>
<circle cx="148.0" cy="804.7" r="3.2" fill="#fde7a9"/>
<circle cx="151.1" cy="808.8" r="3.2" fill="#fde7a9"/>
<circle cx="159.3" cy="804.7" r="3.2" fill="#fde7a9"/>
<circle cx="150.6" cy="826.2" r="3.2" fill="#fde7a9"/>
<circle cx="188.6" cy="781.2" r="3.2" fill="#fde7a9"/>
<circle cx="119.3" cy="813.5" r="3.2" fill="#fde7a9"/>
<circle cx="151.0" cy="827.4" r="3.2" fill="#fde7a9"/>
<circle cx="172.0" cy="837.7" r="3.2" fill="#fde7a9"/>
<circle cx="167.3" cy="828.5" r="3.2" fill="#fde7a9"/>
<circle cx="163.8" cy="878.5" r="3.2" fill="#fde7a9"/>
<circle cx="172.2" cy="837.5" r="3.2" fill="#fde7a9"/>
<circle cx="210.7" cy="830.5" r="3.2" fill="#fde7a9"/>
<circle cx="151.2" cy="827.0" r="3.2" fill="#fde7a9"/>
<circle cx="236.0" cy="810.0" r="3.2" fill="#fde7a9"/>
<circle cx="232.0" cy="805.0" r="3.2" fill="#fde7a9"/>
<line x1="135.2" y1="838.3" x2="143.0" y2="838.0" stroke="#d9676b" stroke-width="0.55"/>
<line x1="160.6" y1="829.1" x2="165.0" y2="826.0" stroke="#d9676b" stroke-width="0.55"/>
<line x1="185.0" y1="808.0" x2="176.0" y2="808.0" stroke="#d9676b" stroke-width="0.55"/>
<line x1="176.0" y1="820.0" x2="170.0" y2="822.0" stroke="#d9676b" stroke-width="0.55"/>
<line x1="184.5" y1="839.9" x2="176.0" y2="846.0" stroke="#d9676b" stroke-width="0.55"/>
<line x1="190.3" y1="846.9" x2="187.0" y2="855.0" stroke="#d9676b" stroke-width="0.55"/>
<line x1="190.9" y1="834.2" x2="198.0" y2="864.0" stroke="#d9676b" stroke-width="0.55"/>
<line x1="206.1" y1="835.0" x2="205.0" y2="856.0" stroke="#d9676b" stroke-width="0.55"/>
<line x1="212.5" y1="838.7" x2="225.0" y2="857.0" stroke="#d9676b" stroke-width="0.55"/>
<line x1="207.2" y1="848.0" x2="224.0" y2="858.0" stroke="#d9676b" stroke-width="0.55"/>
<line x1="212.2" y1="837.9" x2="222.0" y2="843.0" stroke="#d9676b" stroke-width="0.55"/>
<line x1="230.9" y1="824.6" x2="227.0" y2="830.0" stroke="#d9676b" stroke-width="0.55"/>
<line x1="238.4" y1="824.6" x2="245.0" y2="842.0" stroke="#d9676b" stroke-width="0.55"/>
<line x1="242.6" y1="824.6" x2="250.0" y2="853.0" stroke="#d9676b" stroke-width="0.55"/>
<line x1="256.7" y1="817.0" x2="262.0" y2="832.0" stroke="#d9676b" stroke-width="0.55"/>
<line x1="260.6" y1="814.6" x2="266.0" y2="813.0" stroke="#d9676b" stroke-width="0.55"/>
<line x1="248.5" y1="818.0" x2="265.0" y2="835.0" stroke="#d9676b" stroke-width="0.55"/>
<line x1="236.0" y1="812.2" x2="258.0" y2="842.0" stroke="#d9676b" stroke-width="0.55"/>
<circle cx="144.5" cy="784.1" r="2.95" fill="#cfcfcf" stroke="#eeaaaa" stroke-width="1.35"/>
<circle cx="139.9" cy="816.0" r="2.95" fill="#cfcfcf" stroke="#eeaaaa" stroke-width="1.35"/>
<circle cx="145.0" cy="816.0" r="2.95" fill="#cfcfcf" stroke="#eeaaaa" stroke-width="1.35"/>
<circle cx="148.0" cy="810.4" r="2.95" fill="#cfcfcf" stroke="#eeaaaa" stroke-width="1.35"/>
<circle cx="153.1" cy="796.6" r="2.95" fill="#cfcfcf" stroke="#eeaaaa" stroke-width="1.35"/>
<circle cx="169.7" cy="814.5" r="2.95" fill="#cfcfcf" stroke="#eeaaaa" stroke-width="1.35"/>
<circle cx="203.9" cy="800.7" r="2.95" fill="#cfcfcf" stroke="#eeaaaa" stroke-width="1.35"/>
<circle cx="195.8" cy="826.7" r="2.95" fill="#cfcfcf" stroke="#eeaaaa" stroke-width="1.35"/>
<circle cx="249.0" cy="792.0" r="2.95" fill="#cfcfcf" stroke="#eeaaaa" stroke-width="1.35"/>
<circle cx="250.5" cy="798.1" r="2.95" fill="#cfcfcf" stroke="#eeaaaa" stroke-width="1.35"/>
<circle cx="248.5" cy="818.0" r="2.95" fill="#cfcfcf" stroke="#eeaaaa" stroke-width="1.35"/>
<circle cx="176.0" cy="817.0" r="2.95" fill="#cfcfcf" stroke="#eeaaaa" stroke-width="1.35"/>
<circle cx="183.0" cy="818.0" r="2.95" fill="#cfcfcf" stroke="#eeaaaa" stroke-width="1.35"/>
<circle cx="166.0" cy="818.0" r="2.95" fill="#cfcfcf" stroke="#eeaaaa" stroke-width="1.35"/>
<circle cx="220.0" cy="818.0" r="2.95" fill="#cfcfcf" stroke="#eeaaaa" stroke-width="1.35"/>
<circle cx="230.0" cy="816.0" r="2.95" fill="#cfcfcf" stroke="#eeaaaa" stroke-width="1.35"/>
<circle cx="244.0" cy="812.0" r="2.95" fill="#cfcfcf" stroke="#eeaaaa" stroke-width="1.35"/>
<circle cx="265.0" cy="810.0" r="2.95" fill="#cfcfcf" stroke="#eeaaaa" stroke-width="1.35"/>
<circle cx="208.0" cy="806.0" r="2.95" fill="#cfcfcf" stroke="#eeaaaa" stroke-width="1.35"/>
<circle cx="144.1" cy="792.3" r="2.95" fill="#cfcfcf" stroke="#c1393f" stroke-width="1.35"/>
<circle cx="152.1" cy="802.2" r="2.95" fill="#cfcfcf" stroke="#c1393f" stroke-width="1.35"/>
<circle cx="158.0" cy="799.6" r="2.95" fill="#cfcfcf" stroke="#c1393f" stroke-width="1.35"/>
<circle cx="161.8" cy="793.5" r="2.95" fill="#cfcfcf" stroke="#c1393f" stroke-width="1.35"/>
<circle cx="168.0" cy="797.6" r="2.95" fill="#cfcfcf" stroke="#c1393f" stroke-width="1.35"/>
<circle cx="169.5" cy="787.9" r="2.95" fill="#cfcfcf" stroke="#c1393f" stroke-width="1.35"/>
<circle cx="151.6" cy="815.5" r="2.95" fill="#cfcfcf" stroke="#c1393f" stroke-width="1.35"/>
<circle cx="159.3" cy="816.5" r="2.95" fill="#cfcfcf" stroke="#c1393f" stroke-width="1.35"/>
<circle cx="162.3" cy="812.4" r="2.95" fill="#cfcfcf" stroke="#c1393f" stroke-width="1.35"/>
<circle cx="160.3" cy="828.2" r="2.95" fill="#cfcfcf" stroke="#c1393f" stroke-width="1.35"/>
<circle cx="171.8" cy="785.8" r="2.95" fill="#cfcfcf" stroke="#c1393f" stroke-width="1.35"/>
<circle cx="173.3" cy="788.9" r="2.95" fill="#cfcfcf" stroke="#c1393f" stroke-width="1.35"/>
<circle cx="184.0" cy="786.4" r="2.95" fill="#cfcfcf" stroke="#c1393f" stroke-width="1.35"/>
<circle cx="186.1" cy="788.4" r="2.95" fill="#cfcfcf" stroke="#c1393f" stroke-width="1.35"/>
<circle cx="188.1" cy="791.5" r="2.95" fill="#cfcfcf" stroke="#c1393f" stroke-width="1.35"/>
<circle cx="199.9" cy="785.3" r="2.95" fill="#cfcfcf" stroke="#c1393f" stroke-width="1.35"/>
<circle cx="198.3" cy="787.4" r="2.95" fill="#cfcfcf" stroke="#c1393f" stroke-width="1.35"/>
<circle cx="205.0" cy="791.0" r="2.95" fill="#cfcfcf" stroke="#c1393f" stroke-width="1.35"/>
<circle cx="210.1" cy="791.5" r="2.95" fill="#cfcfcf" stroke="#c1393f" stroke-width="1.35"/>
<circle cx="216.7" cy="781.2" r="2.95" fill="#cfcfcf" stroke="#c1393f" stroke-width="1.35"/>
<circle cx="215.2" cy="782.3" r="2.95" fill="#cfcfcf" stroke="#c1393f" stroke-width="1.35"/>
<circle cx="162.0" cy="793.5" r="2.95" fill="#cfcfcf" stroke="#c1393f" stroke-width="1.35"/>
<circle cx="169.2" cy="797.6" r="2.95" fill="#cfcfcf" stroke="#c1393f" stroke-width="1.35"/>
<circle cx="176.3" cy="796.1" r="2.95" fill="#cfcfcf" stroke="#c1393f" stroke-width="1.35"/>
<circle cx="181.0" cy="799.6" r="2.95" fill="#cfcfcf" stroke="#c1393f" stroke-width="1.35"/>
<circle cx="175.3" cy="801.7" r="2.95" fill="#cfcfcf" stroke="#c1393f" stroke-width="1.35"/>
<circle cx="172.3" cy="801.2" r="2.95" fill="#cfcfcf" stroke="#c1393f" stroke-width="1.35"/>
<circle cx="191.7" cy="798.6" r="2.95" fill="#cfcfcf" stroke="#c1393f" stroke-width="1.35"/>
<circle cx="194.7" cy="797.6" r="2.95" fill="#cfcfcf" stroke="#c1393f" stroke-width="1.35"/>
<circle cx="192.7" cy="800.7" r="2.95" fill="#cfcfcf" stroke="#c1393f" stroke-width="1.35"/>
<circle cx="187.6" cy="799.6" r="2.95" fill="#cfcfcf" stroke="#c1393f" stroke-width="1.35"/>
<circle cx="212.6" cy="801.2" r="2.95" fill="#cfcfcf" stroke="#c1393f" stroke-width="1.35"/>
<circle cx="219.3" cy="794.5" r="2.95" fill="#cfcfcf" stroke="#c1393f" stroke-width="1.35"/>
<circle cx="219.3" cy="800.7" r="2.95" fill="#cfcfcf" stroke="#c1393f" stroke-width="1.35"/>
<circle cx="224.9" cy="801.2" r="2.95" fill="#cfcfcf" stroke="#c1393f" stroke-width="1.35"/>
<circle cx="225.4" cy="792.0" r="2.95" fill="#cfcfcf" stroke="#c1393f" stroke-width="1.35"/>
<circle cx="162.0" cy="812.9" r="2.95" fill="#cfcfcf" stroke="#c1393f" stroke-width="1.35"/>
<circle cx="160.0" cy="815.0" r="2.95" fill="#cfcfcf" stroke="#c1393f" stroke-width="1.35"/>
<circle cx="190.7" cy="814.5" r="2.95" fill="#cfcfcf" stroke="#c1393f" stroke-width="1.35"/>
<circle cx="195.8" cy="815.0" r="2.95" fill="#cfcfcf" stroke="#c1393f" stroke-width="1.35"/>
<circle cx="187.1" cy="820.6" r="2.95" fill="#cfcfcf" stroke="#c1393f" stroke-width="1.35"/>
<circle cx="195.3" cy="820.6" r="2.95" fill="#cfcfcf" stroke="#c1393f" stroke-width="1.35"/>
<circle cx="188.1" cy="827.2" r="2.95" fill="#cfcfcf" stroke="#c1393f" stroke-width="1.35"/>
<circle cx="206.0" cy="816.5" r="2.95" fill="#cfcfcf" stroke="#c1393f" stroke-width="1.35"/>
<circle cx="208.0" cy="815.0" r="2.95" fill="#cfcfcf" stroke="#c1393f" stroke-width="1.35"/>
<circle cx="212.6" cy="815.0" r="2.95" fill="#cfcfcf" stroke="#c1393f" stroke-width="1.35"/>
<circle cx="217.2" cy="812.4" r="2.95" fill="#cfcfcf" stroke="#c1393f" stroke-width="1.35"/>
<circle cx="213.1" cy="823.1" r="2.95" fill="#cfcfcf" stroke="#c1393f" stroke-width="1.35"/>
<circle cx="206.0" cy="822.6" r="2.95" fill="#cfcfcf" stroke="#c1393f" stroke-width="1.35"/>
<circle cx="203.9" cy="827.2" r="2.95" fill="#cfcfcf" stroke="#c1393f" stroke-width="1.35"/>
<circle cx="217.2" cy="821.1" r="2.95" fill="#cfcfcf" stroke="#c1393f" stroke-width="1.35"/>
<circle cx="225.4" cy="810.9" r="2.95" fill="#cfcfcf" stroke="#c1393f" stroke-width="1.35"/>
<circle cx="227.4" cy="813.4" r="2.95" fill="#cfcfcf" stroke="#c1393f" stroke-width="1.35"/>
<circle cx="231.6" cy="790.4" r="2.95" fill="#cfcfcf" stroke="#c1393f" stroke-width="1.35"/>
<circle cx="226.0" cy="792.0" r="2.95" fill="#cfcfcf" stroke="#c1393f" stroke-width="1.35"/>
<circle cx="232.7" cy="800.7" r="2.95" fill="#cfcfcf" stroke="#c1393f" stroke-width="1.35"/>
<circle cx="238.3" cy="799.6" r="2.95" fill="#cfcfcf" stroke="#c1393f" stroke-width="1.35"/>
<circle cx="240.3" cy="796.6" r="2.95" fill="#cfcfcf" stroke="#c1393f" stroke-width="1.35"/>
<circle cx="244.4" cy="799.1" r="2.95" fill="#cfcfcf" stroke="#c1393f" stroke-width="1.35"/>
<circle cx="252.6" cy="788.9" r="2.95" fill="#cfcfcf" stroke="#c1393f" stroke-width="1.35"/>
<circle cx="257.2" cy="784.3" r="2.95" fill="#cfcfcf" stroke="#c1393f" stroke-width="1.35"/>
<circle cx="260.3" cy="787.9" r="2.95" fill="#cfcfcf" stroke="#c1393f" stroke-width="1.35"/>
<circle cx="228.1" cy="813.9" r="2.95" fill="#cfcfcf" stroke="#c1393f" stroke-width="1.35"/>
<circle cx="235.7" cy="811.4" r="2.95" fill="#cfcfcf" stroke="#c1393f" stroke-width="1.35"/>
<circle cx="235.2" cy="815.0" r="2.95" fill="#cfcfcf" stroke="#c1393f" stroke-width="1.35"/>
<circle cx="238.8" cy="814.5" r="2.95" fill="#cfcfcf" stroke="#c1393f" stroke-width="1.35"/>
<circle cx="256.7" cy="817.0" r="2.95" fill="#cfcfcf" stroke="#c1393f" stroke-width="1.35"/>
<circle cx="258.7" cy="815.5" r="2.95" fill="#cfcfcf" stroke="#c1393f" stroke-width="1.35"/>
<circle cx="260.3" cy="815.0" r="2.95" fill="#cfcfcf" stroke="#c1393f" stroke-width="1.35"/>
<circle cx="230.6" cy="824.2" r="2.95" fill="#cfcfcf" stroke="#c1393f" stroke-width="1.35"/>
<circle cx="237.8" cy="825.2" r="2.95" fill="#cfcfcf" stroke="#c1393f" stroke-width="1.35"/>
<circle cx="242.4" cy="824.2" r="2.95" fill="#cfcfcf" stroke="#c1393f" stroke-width="1.35"/>
<circle cx="176.3" cy="831.4" r="2.95" fill="#cfcfcf" stroke="#c1393f" stroke-width="1.35"/>
<circle cx="164.0" cy="843.1" r="2.95" fill="#cfcfcf" stroke="#c1393f" stroke-width="1.35"/>
<circle cx="154.7" cy="853.9" r="2.95" fill="#cfcfcf" stroke="#c1393f" stroke-width="1.35"/>
<circle cx="168.1" cy="857.6" r="2.95" fill="#cfcfcf" stroke="#c1393f" stroke-width="1.35"/>
<circle cx="188.5" cy="827.6" r="2.95" fill="#cfcfcf" stroke="#c1393f" stroke-width="1.35"/>
<circle cx="190.9" cy="834.2" r="2.95" fill="#cfcfcf" stroke="#c1393f" stroke-width="1.35"/>
<circle cx="189.7" cy="835.8" r="2.95" fill="#cfcfcf" stroke="#c1393f" stroke-width="1.35"/>
<circle cx="184.5" cy="839.9" r="2.95" fill="#cfcfcf" stroke="#c1393f" stroke-width="1.35"/>
<circle cx="190.3" cy="846.9" r="2.95" fill="#cfcfcf" stroke="#c1393f" stroke-width="1.35"/>
<circle cx="206.1" cy="828.2" r="2.95" fill="#cfcfcf" stroke="#c1393f" stroke-width="1.35"/>
<circle cx="206.1" cy="835.0" r="2.95" fill="#cfcfcf" stroke="#c1393f" stroke-width="1.35"/>
<circle cx="213.1" cy="824.1" r="2.95" fill="#cfcfcf" stroke="#c1393f" stroke-width="1.35"/>
<circle cx="212.5" cy="838.7" r="2.95" fill="#cfcfcf" stroke="#c1393f" stroke-width="1.35"/>
<circle cx="207.2" cy="848.0" r="2.95" fill="#cfcfcf" stroke="#c1393f" stroke-width="1.35"/>
<circle cx="187.4" cy="821.2" r="2.95" fill="#cfcfcf" stroke="#c1393f" stroke-width="1.35"/>
<circle cx="195.5" cy="821.2" r="2.95" fill="#cfcfcf" stroke="#c1393f" stroke-width="1.35"/>
<circle cx="205.5" cy="822.3" r="2.95" fill="#cfcfcf" stroke="#c1393f" stroke-width="1.35"/>
<circle cx="135.2" cy="838.3" r="2.95" fill="#cfcfcf" stroke="#c1393f" stroke-width="1.35"/>
<circle cx="225.5" cy="812.2" r="2.95" fill="#cfcfcf" stroke="#c1393f" stroke-width="1.35"/>
<circle cx="236.0" cy="812.2" r="2.95" fill="#cfcfcf" stroke="#c1393f" stroke-width="1.35"/>
<circle cx="200.0" cy="812.0" r="2.95" fill="#cfcfcf" stroke="#c1393f" stroke-width="1.35"/>
<circle cx="182.0" cy="812.0" r="2.95" fill="#cfcfcf" stroke="#c1393f" stroke-width="1.35"/>
<circle cx="178.0" cy="790.0" r="2.95" fill="#cfcfcf" stroke="#c1393f" stroke-width="1.35"/>
<circle cx="125.1" cy="905.6" r="2.95" fill="#cfcfcf" stroke="#c1393f" stroke-width="1.35"/>
<circle cx="120.1" cy="908.6" r="2.95" fill="#cfcfcf" stroke="#c1393f" stroke-width="1.35"/>
<circle cx="89.3" cy="917.0" r="2.95" fill="#cfcfcf" stroke="#c1393f" stroke-width="1.35"/>
<circle cx="117.6" cy="917.0" r="2.95" fill="#cfcfcf" stroke="#c1393f" stroke-width="1.35"/>
<circle cx="86.8" cy="925.4" r="2.95" fill="#cfcfcf" stroke="#c1393f" stroke-width="1.35"/>
<circle cx="95.3" cy="925.4" r="2.95" fill="#cfcfcf" stroke="#c1393f" stroke-width="1.35"/>
<circle cx="77.9" cy="927.9" r="2.95" fill="#cfcfcf" stroke="#c1393f" stroke-width="1.35"/>
<text x="169.3" y="811.2" font-size="8.6">fepA</text>
<text x="152.0" y="825.1" font-size="8.6">mnmG</text>
<text x="142.8" y="843.5" font-size="8.6">ntrB</text>
<text x="160.1" y="852.3" font-size="8.6">mnmE</text>
<text x="130.5" y="857.2" font-size="8.6">dsbB</text>
<text x="144.8" y="864.5" font-size="8.6">mlaA</text>
<text x="174.9" y="863.9" font-size="8.6">cpxR</text>
<text x="183.9" y="872.1" font-size="8.6">miaA</text>
<text x="199.9" y="861.5" font-size="8.6">queC</text>
<text x="224.4" y="863.8" font-size="8.6">nikB</text>
<text x="230.9" y="855.7" font-size="8.6">fruB</text>
<text x="221.6" y="845.2" font-size="8.6">phoQ</text>
<text x="245.4" y="847.5" font-size="8.6">rpoS</text>
<text x="223.2" y="835.8" font-size="8.6">fabF</text>
<text x="247.7" y="834.7" font-size="8.6">sitA</text>
<text x="266.9" y="834.7" font-size="8.6">queE</text>
<text x="266.9" y="826.5" font-size="8.6">phoP</text>
<text x="269.2" y="817.6" font-size="8.6">iraM</text>
<text x="128.0" y="908.7" font-size="8.6">mlaC</text>
<text x="97.8" y="911.7" font-size="8.6">mlaE</text>
<text x="72.0" y="914.2" font-size="8.6">pbgA</text>
<text x="94.3" y="920.2" font-size="8.6">acrA</text>
<text x="121.6" y="920.2" font-size="8.6">tolC</text>
<text x="99.3" y="928.6" font-size="8.6">mlaF</text>
<text x="79.4" y="936.1" font-size="8.6">acrB</text>
<rect x="70.4" y="741.0" width="235.2" height="195.2" fill="none" stroke="#555" stroke-width="1"/>
<line x1="67.0" y1="741.0" x2="70.4" y2="741.0" stroke="#555" stroke-width="1"/>
<text x="62.3" y="744.4" font-size="10" text-anchor="end">10</text>
<line x1="67.0" y1="773.6" x2="70.4" y2="773.6" stroke="#555" stroke-width="1"/>
<text x="62.3" y="777.0" font-size="10" text-anchor="end">5</text>
<line x1="67.0" y1="806.2" x2="70.4" y2="806.2" stroke="#555" stroke-width="1"/>
<text x="62.3" y="809.6" font-size="10" text-anchor="end">0</text>
<line x1="67.0" y1="838.8" x2="70.4" y2="838.8" stroke="#555" stroke-width="1"/>
<text x="62.3" y="842.2" font-size="10" text-anchor="end">-5</text>
<line x1="67.0" y1="871.4" x2="70.4" y2="871.4" stroke="#555" stroke-width="1"/>
<text x="62.3" y="874.8" font-size="10" text-anchor="end">-10</text>
<line x1="67.0" y1="904.0" x2="70.4" y2="904.0" stroke="#555" stroke-width="1"/>
<text x="62.3" y="907.4" font-size="10" text-anchor="end">-15</text>
<line x1="67.0" y1="936.6" x2="70.4" y2="936.6" stroke="#555" stroke-width="1"/>
<text x="62.3" y="940.0" font-size="10" text-anchor="end">-20</text>
<line x1="70.5" y1="936.2" x2="70.5" y2="939.2" stroke="#555" stroke-width="1"/>
<text x="70.5" y="951.7" font-size="10" text-anchor="middle">-2</text>
<line x1="96.4" y1="936.2" x2="96.4" y2="939.2" stroke="#555" stroke-width="1"/>
<text x="96.4" y="951.7" font-size="10" text-anchor="middle">0</text>
<line x1="122.3" y1="936.2" x2="122.3" y2="939.2" stroke="#555" stroke-width="1"/>
<text x="122.3" y="951.7" font-size="10" text-anchor="middle">2</text>
<line x1="148.2" y1="936.2" x2="148.2" y2="939.2" stroke="#555" stroke-width="1"/>
<text x="148.2" y="951.7" font-size="10" text-anchor="middle">4</text>
<line x1="174.1" y1="936.2" x2="174.1" y2="939.2" stroke="#555" stroke-width="1"/>
<text x="174.1" y="951.7" font-size="10" text-anchor="middle">6</text>
<line x1="200.0" y1="936.2" x2="200.0" y2="939.2" stroke="#555" stroke-width="1"/>
<text x="200.0" y="951.7" font-size="10" text-anchor="middle">8</text>
<line x1="225.9" y1="936.2" x2="225.9" y2="939.2" stroke="#555" stroke-width="1"/>
<text x="225.9" y="951.7" font-size="10" text-anchor="middle">10</text>
<line x1="251.8" y1="936.2" x2="251.8" y2="939.2" stroke="#555" stroke-width="1"/>
<text x="251.8" y="951.7" font-size="10" text-anchor="middle">12</text>
<line x1="277.7" y1="936.2" x2="277.7" y2="939.2" stroke="#555" stroke-width="1"/>
<text x="277.7" y="951.7" font-size="10" text-anchor="middle">14</text>
<line x1="303.6" y1="936.2" x2="303.6" y2="939.2" stroke="#555" stroke-width="1"/>
<text x="303.6" y="951.7" font-size="10" text-anchor="middle">16</text>
<text x="187.3" y="969.8" font-size="11" text-anchor="middle">log<tspan font-size="7.5" dy="2.5">2</tspan><tspan dy="-2.5">CPM</tspan></text>
<text x="39.4" y="840.2" font-size="11" text-anchor="middle" transform="rotate(-90 39.4 840.2)">log<tspan font-size="7.5" dy="2.5">2</tspan><tspan dy="-2.5">FC</tspan></text>
<line x1="310.4" y1="806.2" x2="310.4" y2="937.0" stroke="#999" stroke-width="1"/>
<text x="315.3" y="872.8" font-size="11" text-anchor="middle" transform="rotate(90 315.3 872.8)">Lower colonization</text>
<text x="351.3" y="731.8" font-size="16.5" fill="#000" font-weight="bold" stroke="#000" stroke-width="0.9">f</text>
<circle cx="395.2" cy="733.7" r="3.2" fill="#cfcfcf"/>
<text x="404.4" y="737.8" font-size="10.5">CDS</text>
<circle cx="444.6" cy="733.7" r="3.2" fill="#fde7a9"/>
<text x="453.0" y="737.8" font-size="10.5">Pseudo</text>
<circle cx="508.2" cy="733.7" r="2.9" fill="#fff" stroke="#c1393f" stroke-width="1.2"/>
<text x="516.5" y="737.8" font-size="10.5">FDR≤0.1</text>
<circle cx="574.9" cy="733.7" r="2.9" fill="#fff" stroke="#eeaaaa" stroke-width="1.2"/>
<text x="583.1" y="737.8" font-size="10.5">FDR≤0.2</text>
<text x="395.7" y="758.3" font-size="11">pINV</text>
<line x1="391.2" y1="798.8" x2="625.9" y2="798.8" stroke="#888" stroke-width="1.5" stroke-dasharray="4,3"/>
<circle cx="465.3" cy="789.1" r="3.2" fill="#cfcfcf"/>
<circle cx="471.3" cy="811.8" r="3.2" fill="#cfcfcf"/>
<circle cx="505.6" cy="817.1" r="3.2" fill="#cfcfcf"/>
<circle cx="514.4" cy="794.3" r="3.2" fill="#cfcfcf"/>
<circle cx="521.4" cy="794.3" r="3.2" fill="#cfcfcf"/>
<circle cx="481.8" cy="789.1" r="3.2" fill="#cfcfcf"/>
<circle cx="498.6" cy="792.6" r="3.2" fill="#cfcfcf"/>
<circle cx="537.2" cy="796.1" r="3.2" fill="#cfcfcf"/>
<circle cx="551.2" cy="785.5" r="3.2" fill="#cfcfcf"/>
<circle cx="558.2" cy="796.1" r="3.2" fill="#cfcfcf"/>
<circle cx="581.0" cy="784.8" r="3.2" fill="#cfcfcf"/>
<circle cx="572.0" cy="795.0" r="3.2" fill="#cfcfcf"/>
<circle cx="600.2" cy="796.1" r="3.2" fill="#cfcfcf"/>
<circle cx="528.4" cy="810.1" r="3.2" fill="#cfcfcf"/>
<circle cx="411.7" cy="917.0" r="3.2" fill="#cfcfcf"/>
<circle cx="466.4" cy="790.0" r="3.2" fill="#cfcfcf"/>
<circle cx="471.4" cy="810.6" r="3.2" fill="#cfcfcf"/>
<circle cx="478.8" cy="800.5" r="3.2" fill="#cfcfcf"/>
<circle cx="496.9" cy="792.7" r="3.2" fill="#cfcfcf"/>
<circle cx="513.5" cy="792.7" r="3.2" fill="#cfcfcf"/>
<circle cx="523.2" cy="797.7" r="3.2" fill="#cfcfcf"/>
<circle cx="505.2" cy="817.2" r="3.2" fill="#cfcfcf"/>
<circle cx="548.2" cy="797.7" r="3.2" fill="#cfcfcf"/>
<circle cx="553.7" cy="785.3" r="3.2" fill="#cfcfcf"/>
<circle cx="563.0" cy="787.0" r="3.2" fill="#cfcfcf"/>
<circle cx="590.0" cy="792.0" r="3.2" fill="#cfcfcf"/>
<circle cx="606.0" cy="800.0" r="3.2" fill="#cfcfcf"/>
<circle cx="612.0" cy="797.0" r="3.2" fill="#cfcfcf"/>
<circle cx="545.0" cy="812.0" r="3.2" fill="#cfcfcf"/>
<circle cx="470.0" cy="806.0" r="3.2" fill="#cfcfcf"/>
<circle cx="492.3" cy="780.3" r="3.2" fill="#fde7a9"/>
<circle cx="493.7" cy="789.1" r="3.2" fill="#fde7a9"/>
<circle cx="484.6" cy="792.6" r="3.2" fill="#fde7a9"/>
<circle cx="472.3" cy="796.1" r="3.2" fill="#fde7a9"/>
<circle cx="460.1" cy="794.3" r="3.2" fill="#fde7a9"/>
<circle cx="467.1" cy="801.3" r="3.2" fill="#fde7a9"/>
<circle cx="477.6" cy="806.6" r="3.2" fill="#fde7a9"/>
<circle cx="491.6" cy="804.8" r="3.2" fill="#fde7a9"/>
<circle cx="495.1" cy="797.8" r="3.2" fill="#fde7a9"/>
<circle cx="507.4" cy="792.6" r="3.2" fill="#fde7a9"/>
<circle cx="524.9" cy="796.1" r="3.2" fill="#fde7a9"/>
<circle cx="451.3" cy="818.8" r="3.2" fill="#fde7a9"/>
<circle cx="450.3" cy="824.1" r="3.2" fill="#fde7a9"/>
<circle cx="530.2" cy="822.3" r="3.2" fill="#fde7a9"/>
<circle cx="537.9" cy="830.4" r="3.2" fill="#fde7a9"/>
<circle cx="534.4" cy="842.3" r="3.2" fill="#fde7a9"/>
<circle cx="540.7" cy="803.1" r="3.2" fill="#fde7a9"/>
<circle cx="547.7" cy="796.1" r="3.2" fill="#fde7a9"/>
<circle cx="558.2" cy="787.3" r="3.2" fill="#fde7a9"/>
<circle cx="568.7" cy="789.1" r="3.2" fill="#fde7a9"/>
<circle cx="575.7" cy="792.6" r="3.2" fill="#fde7a9"/>
<circle cx="586.2" cy="789.1" r="3.2" fill="#fde7a9"/>
<circle cx="591.5" cy="785.5" r="3.2" fill="#fde7a9"/>
<circle cx="593.2" cy="792.6" r="3.2" fill="#fde7a9"/>
<circle cx="579.2" cy="799.6" r="3.2" fill="#fde7a9"/>
<circle cx="586.2" cy="803.1" r="3.2" fill="#fde7a9"/>
<circle cx="565.2" cy="797.8" r="3.2" fill="#fde7a9"/>
<circle cx="554.7" cy="796.1" r="3.2" fill="#fde7a9"/>
<circle cx="575.7" cy="783.8" r="3.2" fill="#fde7a9"/>
<circle cx="489.9" cy="789.4" r="3.2" fill="#fde7a9"/>
<circle cx="460.8" cy="806.1" r="3.2" fill="#fde7a9"/>
<circle cx="469.1" cy="803.3" r="3.2" fill="#fde7a9"/>
<circle cx="478.8" cy="806.1" r="3.2" fill="#fde7a9"/>
<circle cx="491.3" cy="800.0" r="3.2" fill="#fde7a9"/>
<circle cx="508.0" cy="799.1" r="3.2" fill="#fde7a9"/>
<circle cx="538.5" cy="796.4" r="3.2" fill="#fde7a9"/>
<circle cx="580.0" cy="790.0" r="3.2" fill="#fde7a9"/>
<circle cx="570.0" cy="800.0" r="3.2" fill="#fde7a9"/>
<circle cx="596.0" cy="798.0" r="3.2" fill="#fde7a9"/>
<circle cx="560.0" cy="804.0" r="3.2" fill="#fde7a9"/>
<circle cx="584.0" cy="795.0" r="3.2" fill="#fde7a9"/>
<circle cx="589.0" cy="782.0" r="3.2" fill="#fde7a9"/>
<circle cx="562.3" cy="807.0" r="3.2" fill="#fde7a9"/>
<circle cx="557.3" cy="800.0" r="3.2" fill="#fde7a9"/>
<circle cx="555.3" cy="787.7" r="3.2" fill="#fde7a9"/>
<circle cx="583.1" cy="793.4" r="3.2" fill="#fde7a9"/>
<circle cx="573.7" cy="794.4" r="3.2" fill="#fde7a9"/>
<circle cx="560.6" cy="803.4" r="3.2" fill="#fde7a9"/>
<circle cx="555.5" cy="787.3" r="3.2" fill="#fde7a9"/>
<circle cx="571.4" cy="805.4" r="3.2" fill="#fde7a9"/>
<circle cx="570.0" cy="784.1" r="3.2" fill="#fde7a9"/>
<circle cx="563.9" cy="807.8" r="3.2" fill="#fde7a9"/>
<circle cx="554.2" cy="797.7" r="3.2" fill="#fde7a9"/>
<circle cx="569.9" cy="798.8" r="3.2" fill="#fde7a9"/>
<circle cx="567.9" cy="799.7" r="3.2" fill="#fde7a9"/>
<circle cx="575.9" cy="798.5" r="3.2" fill="#fde7a9"/>
<circle cx="596.1" cy="796.7" r="3.2" fill="#fde7a9"/>
<circle cx="598.3" cy="794.2" r="3.2" fill="#fde7a9"/>
<circle cx="560.7" cy="806.5" r="3.2" fill="#fde7a9"/>
<circle cx="579.9" cy="800.7" r="3.2" fill="#fde7a9"/>
<circle cx="595.0" cy="788.7" r="3.2" fill="#fde7a9"/>
<circle cx="568.8" cy="804.7" r="3.2" fill="#fde7a9"/>
<circle cx="557.7" cy="801.6" r="3.2" fill="#fde7a9"/>
<circle cx="555.9" cy="799.6" r="3.2" fill="#fde7a9"/>
<circle cx="593.2" cy="794.6" r="3.2" fill="#fde7a9"/>
<circle cx="560.9" cy="785.1" r="3.2" fill="#fde7a9"/>
<circle cx="577.4" cy="794.8" r="3.2" fill="#fde7a9"/>
<circle cx="576.4" cy="799.9" r="3.2" fill="#fde7a9"/>
<circle cx="562.0" cy="787.6" r="3.2" fill="#fde7a9"/>
<circle cx="564.3" cy="792.4" r="3.2" fill="#fde7a9"/>
<line x1="575.3" y1="804.0" x2="606.0" y2="804.0" stroke="#d9676b" stroke-width="0.55"/>
<line x1="581.4" y1="805.5" x2="593.0" y2="814.0" stroke="#d9676b" stroke-width="0.55"/>
<line x1="567.0" y1="809.1" x2="574.0" y2="818.0" stroke="#d9676b" stroke-width="0.55"/>
<line x1="561.4" y1="813.9" x2="557.0" y2="826.0" stroke="#d9676b" stroke-width="0.55"/>
<line x1="568.2" y1="814.4" x2="570.0" y2="826.0" stroke="#d9676b" stroke-width="0.55"/>
<line x1="555.0" y1="804.0" x2="551.0" y2="811.0" stroke="#d9676b" stroke-width="0.55"/>
<line x1="530.1" y1="852.9" x2="522.0" y2="840.0" stroke="#d9676b" stroke-width="0.55"/>
<line x1="534.0" y1="852.9" x2="528.0" y2="833.0" stroke="#d9676b" stroke-width="0.55"/>
<line x1="512.3" y1="869.0" x2="504.0" y2="866.0" stroke="#d9676b" stroke-width="0.55"/>
<line x1="514.6" y1="856.6" x2="508.0" y2="856.0" stroke="#d9676b" stroke-width="0.55"/>
<line x1="526.3" y1="865.2" x2="512.0" y2="848.0" stroke="#d9676b" stroke-width="0.55"/>
<line x1="530.1" y1="852.9" x2="517.0" y2="842.0" stroke="#d9676b" stroke-width="0.55"/>
<line x1="546.0" y1="851.3" x2="550.0" y2="848.0" stroke="#d9676b" stroke-width="0.55"/>
<line x1="555.6" y1="850.1" x2="561.0" y2="849.0" stroke="#d9676b" stroke-width="0.55"/>
<line x1="537.5" y1="865.5" x2="565.0" y2="866.0" stroke="#d9676b" stroke-width="0.55"/>
<line x1="546.1" y1="860.8" x2="551.0" y2="860.0" stroke="#d9676b" stroke-width="0.55"/>
<line x1="545.0" y1="870.6" x2="550.0" y2="883.0" stroke="#d9676b" stroke-width="0.55"/>
<line x1="554.3" y1="876.0" x2="558.0" y2="875.0" stroke="#d9676b" stroke-width="0.55"/>
<line x1="536.1" y1="887.6" x2="547.0" y2="895.0" stroke="#d9676b" stroke-width="0.55"/>
<line x1="531.7" y1="884.6" x2="537.0" y2="887.0" stroke="#d9676b" stroke-width="0.55"/>
<line x1="540.0" y1="892.0" x2="585.0" y2="892.0" stroke="#d9676b" stroke-width="0.55"/>
<circle cx="505.6" cy="789.1" r="2.95" fill="#cfcfcf" stroke="#eeaaaa" stroke-width="1.35"/>
<circle cx="584.5" cy="811.8" r="2.95" fill="#cfcfcf" stroke="#eeaaaa" stroke-width="1.35"/>
<circle cx="554.7" cy="820.6" r="2.95" fill="#cfcfcf" stroke="#eeaaaa" stroke-width="1.35"/>
<circle cx="564.6" cy="801.4" r="2.95" fill="#cfcfcf" stroke="#eeaaaa" stroke-width="1.35"/>
<circle cx="586.2" cy="810.3" r="2.95" fill="#cfcfcf" stroke="#eeaaaa" stroke-width="1.35"/>
<circle cx="450.8" cy="826.2" r="2.95" fill="#cfcfcf" stroke="#c1393f" stroke-width="1.35"/>
<circle cx="441.5" cy="857.0" r="2.95" fill="#cfcfcf" stroke="#c1393f" stroke-width="1.35"/>
<circle cx="609.0" cy="760.3" r="2.95" fill="#cfcfcf" stroke="#c1393f" stroke-width="1.35"/>
<circle cx="554.9" cy="803.8" r="2.95" fill="#cfcfcf" stroke="#c1393f" stroke-width="1.35"/>
<circle cx="564.6" cy="805.5" r="2.95" fill="#cfcfcf" stroke="#c1393f" stroke-width="1.35"/>
<circle cx="567.0" cy="809.1" r="2.95" fill="#cfcfcf" stroke="#c1393f" stroke-width="1.35"/>
<circle cx="572.5" cy="803.1" r="2.95" fill="#cfcfcf" stroke="#c1393f" stroke-width="1.35"/>
<circle cx="578.3" cy="804.3" r="2.95" fill="#cfcfcf" stroke="#c1393f" stroke-width="1.35"/>
<circle cx="581.4" cy="805.5" r="2.95" fill="#cfcfcf" stroke="#c1393f" stroke-width="1.35"/>
<circle cx="558.0" cy="813.9" r="2.95" fill="#cfcfcf" stroke="#c1393f" stroke-width="1.35"/>
<circle cx="561.4" cy="813.9" r="2.95" fill="#cfcfcf" stroke="#c1393f" stroke-width="1.35"/>
<circle cx="568.2" cy="814.4" r="2.95" fill="#cfcfcf" stroke="#c1393f" stroke-width="1.35"/>
<circle cx="530.3" cy="853.0" r="2.95" fill="#cfcfcf" stroke="#c1393f" stroke-width="1.35"/>
<circle cx="534.0" cy="853.2" r="2.95" fill="#cfcfcf" stroke="#c1393f" stroke-width="1.35"/>
<circle cx="546.1" cy="851.2" r="2.95" fill="#cfcfcf" stroke="#c1393f" stroke-width="1.35"/>
<circle cx="549.6" cy="847.2" r="2.95" fill="#cfcfcf" stroke="#c1393f" stroke-width="1.35"/>
<circle cx="555.5" cy="850.0" r="2.95" fill="#cfcfcf" stroke="#c1393f" stroke-width="1.35"/>
<circle cx="514.6" cy="856.6" r="2.95" fill="#cfcfcf" stroke="#c1393f" stroke-width="1.35"/>
<circle cx="509.2" cy="866.6" r="2.95" fill="#cfcfcf" stroke="#c1393f" stroke-width="1.35"/>
<circle cx="512.3" cy="869.0" r="2.95" fill="#cfcfcf" stroke="#c1393f" stroke-width="1.35"/>
<circle cx="546.1" cy="860.8" r="2.95" fill="#cfcfcf" stroke="#c1393f" stroke-width="1.35"/>
<circle cx="526.3" cy="865.2" r="2.95" fill="#cfcfcf" stroke="#c1393f" stroke-width="1.35"/>
<circle cx="537.5" cy="865.5" r="2.95" fill="#cfcfcf" stroke="#c1393f" stroke-width="1.35"/>
<circle cx="545.0" cy="870.6" r="2.95" fill="#cfcfcf" stroke="#c1393f" stroke-width="1.35"/>
<circle cx="554.3" cy="876.0" r="2.95" fill="#cfcfcf" stroke="#c1393f" stroke-width="1.35"/>
<circle cx="525.1" cy="872.9" r="2.95" fill="#cfcfcf" stroke="#c1393f" stroke-width="1.35"/>
<circle cx="527.9" cy="878.3" r="2.95" fill="#cfcfcf" stroke="#c1393f" stroke-width="1.35"/>
<circle cx="533.3" cy="873.6" r="2.95" fill="#cfcfcf" stroke="#c1393f" stroke-width="1.35"/>
<circle cx="534.5" cy="878.3" r="2.95" fill="#cfcfcf" stroke="#c1393f" stroke-width="1.35"/>
<circle cx="525.6" cy="876.4" r="2.95" fill="#cfcfcf" stroke="#c1393f" stroke-width="1.35"/>
<circle cx="500.6" cy="884.6" r="2.95" fill="#cfcfcf" stroke="#c1393f" stroke-width="1.35"/>
<circle cx="531.7" cy="884.6" r="2.95" fill="#cfcfcf" stroke="#c1393f" stroke-width="1.35"/>
<circle cx="536.1" cy="887.6" r="2.95" fill="#cfcfcf" stroke="#c1393f" stroke-width="1.35"/>
<text x="606.2" y="807.4" font-size="8.6">virA</text>
<text x="593.5" y="818.2" font-size="8.6">ipgD</text>
<text x="534.5" y="815.0" font-size="8.6">icsA</text>
<text x="572.5" y="823.8" font-size="8.6">ipaA</text>
<text x="546.5" y="834.4" font-size="8.6">icsB</text>
<text x="565.8" y="834.4" font-size="8.6">ipgB1</text>
<text x="514.6" y="835.5" font-size="8.6">ipgC</text>
<text x="552.5" y="843.1" font-size="8.6">spa9</text>
<text x="561.4" y="852.7" font-size="8.6">spa33</text>
<text x="573.0" y="859.2" font-size="8.6">spa32</text>
<text x="494.7" y="843.3" font-size="8.6">spa40</text>
<text x="499.4" y="849.8" font-size="8.6">mxiH</text>
<text x="486.3" y="859.9" font-size="8.6">spa13</text>
<text x="551.4" y="863.5" font-size="8.6">mxiJ</text>
<text x="486.3" y="869.1" font-size="8.6">ipaD</text>
<text x="565.5" y="869.9" font-size="8.6">virB</text>
<text x="560.0" y="877.1" font-size="8.6">virF</text>
<text x="492.2" y="877.6" font-size="8.6">spa47</text>
<text x="477.0" y="887.1" font-size="8.6">mxiA</text>
<text x="507.7" y="887.1" font-size="8.6">mxiN</text>
<text x="544.5" y="886.9" font-size="8.6">spa24</text>
<text x="517.4" y="898.5" font-size="8.6">mxiD</text>
<text x="546.6" y="900.1" font-size="8.6">ipaB</text>
<text x="568.0" y="900.1" font-size="8.6">mxiI</text>
<text x="543.0" y="907.1" font-size="8.6">mxiG</text>
<text x="567.6" y="907.1" font-size="8.6">mxiK</text>
<text x="541.4" y="914.7" font-size="8.6">mxiM</text>
<text x="567.6" y="914.7" font-size="8.6">spa29</text>
<text x="427.0" y="829.9" font-size="8.6">mxiC</text>
<text x="419.6" y="859.9" font-size="8.6">ipaC</text>
<rect x="391.2" y="741.0" width="234.7" height="195.6" fill="none" stroke="#555" stroke-width="1"/>
<line x1="388.0" y1="741.0" x2="391.2" y2="741.0" stroke="#555" stroke-width="1"/>
<text x="383.5" y="744.4" font-size="10" text-anchor="end">5</text>
<line x1="388.0" y1="798.8" x2="391.2" y2="798.8" stroke="#555" stroke-width="1"/>
<text x="383.5" y="802.2" font-size="10" text-anchor="end">0</text>
<line x1="388.0" y1="856.6" x2="391.2" y2="856.6" stroke="#555" stroke-width="1"/>
<text x="383.5" y="860.0" font-size="10" text-anchor="end">-5</text>
<line x1="388.0" y1="914.4" x2="391.2" y2="914.4" stroke="#555" stroke-width="1"/>
<text x="383.5" y="917.8" font-size="10" text-anchor="end">-10</text>
<line x1="391.2" y1="936.6" x2="391.2" y2="939.6" stroke="#555" stroke-width="1"/>
<text x="391.2" y="952.2" font-size="10" text-anchor="middle">-2</text>
<line x1="420.6" y1="936.6" x2="420.6" y2="939.6" stroke="#555" stroke-width="1"/>
<text x="420.6" y="952.2" font-size="10" text-anchor="middle">0</text>
<line x1="450.0" y1="936.6" x2="450.0" y2="939.6" stroke="#555" stroke-width="1"/>
<text x="450.0" y="952.2" font-size="10" text-anchor="middle">2</text>
<line x1="479.4" y1="936.6" x2="479.4" y2="939.6" stroke="#555" stroke-width="1"/>
<text x="479.4" y="952.2" font-size="10" text-anchor="middle">4</text>
<line x1="508.8" y1="936.6" x2="508.8" y2="939.6" stroke="#555" stroke-width="1"/>
<text x="508.8" y="952.2" font-size="10" text-anchor="middle">6</text>
<line x1="538.2" y1="936.6" x2="538.2" y2="939.6" stroke="#555" stroke-width="1"/>
<text x="538.2" y="952.2" font-size="10" text-anchor="middle">8</text>
<line x1="567.6" y1="936.6" x2="567.6" y2="939.6" stroke="#555" stroke-width="1"/>
<text x="567.6" y="952.2" font-size="10" text-anchor="middle">10</text>
<line x1="597.0" y1="936.6" x2="597.0" y2="939.6" stroke="#555" stroke-width="1"/>
<text x="597.0" y="952.2" font-size="10" text-anchor="middle">12</text>
<line x1="626.4" y1="936.6" x2="626.4" y2="939.6" stroke="#555" stroke-width="1"/>
<text x="626.4" y="952.2" font-size="10" text-anchor="middle">14</text>
<text x="508.6" y="971.5" font-size="11" text-anchor="middle">log<tspan font-size="7.5" dy="2.5">2</tspan><tspan dy="-2.5">CPM</tspan></text>
<text x="361.0" y="841.7" font-size="11" text-anchor="middle" transform="rotate(-90 361.0 841.7)">log<tspan font-size="7.5" dy="2.5">2</tspan><tspan dy="-2.5">FC</tspan></text>
<line x1="630.8" y1="799.9" x2="630.8" y2="936.3" stroke="#c4c4c4" stroke-width="1.6"/>
<text x="636.2" y="868.6" font-size="11" text-anchor="middle" transform="rotate(90 636.2 868.6)">Lower colonization</text>
</svg></body></html>
